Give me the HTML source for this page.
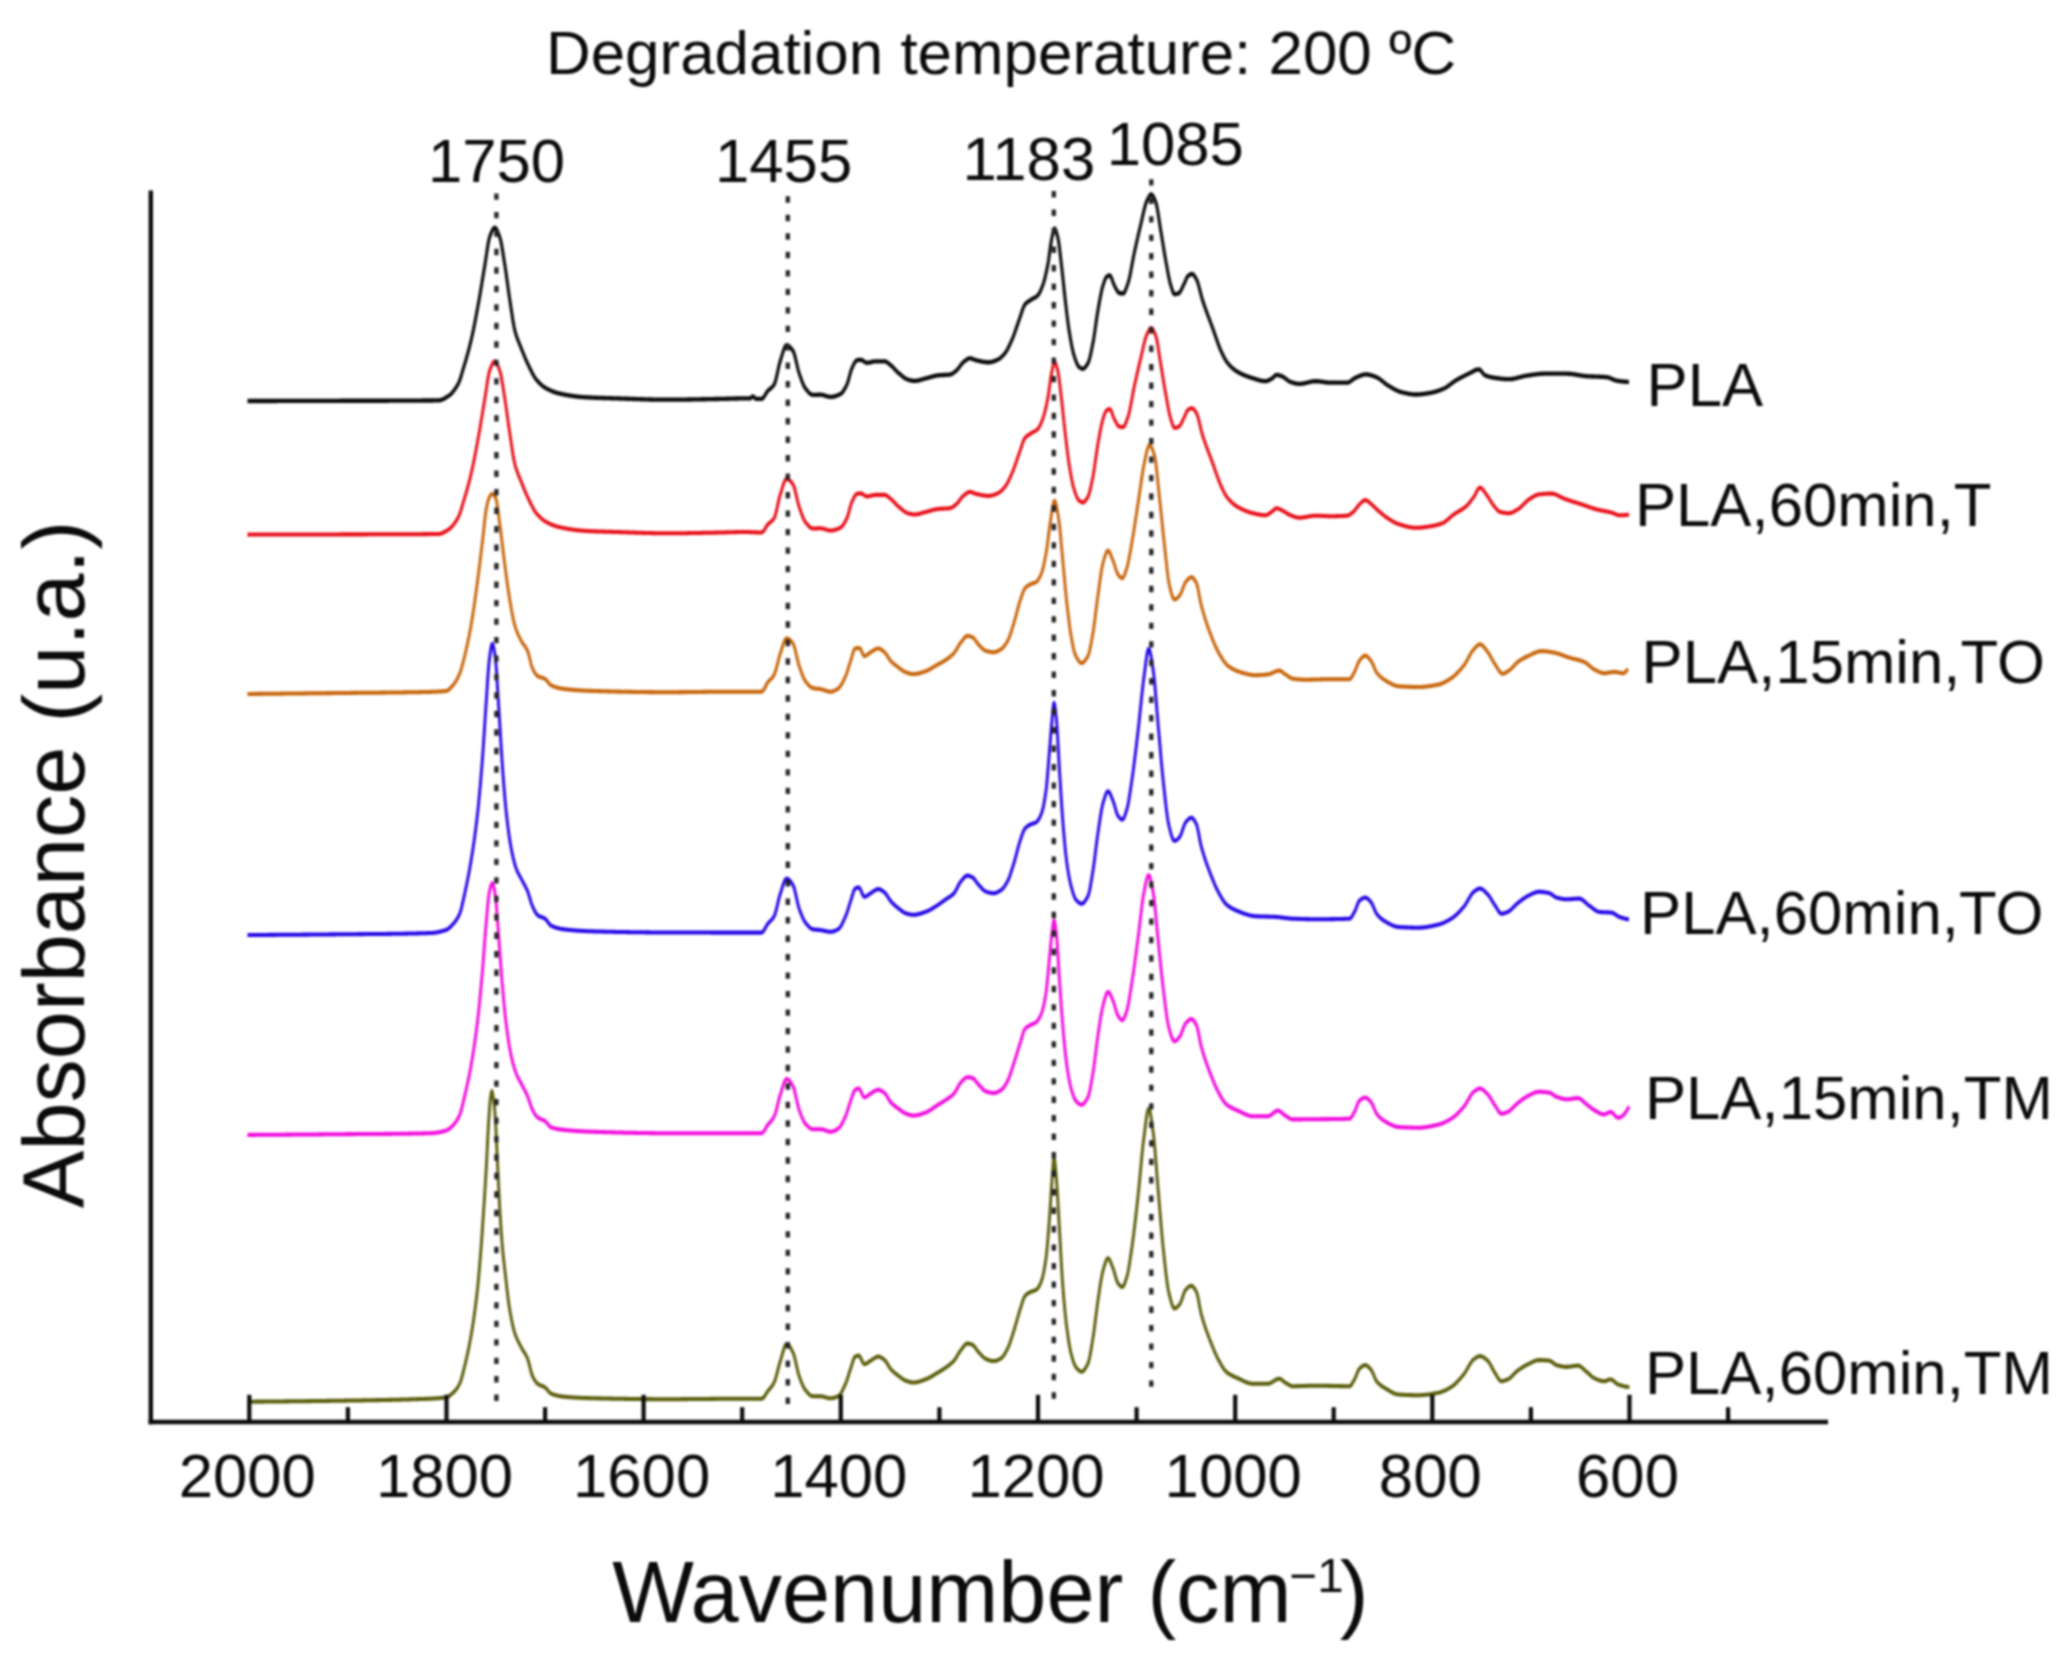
<!DOCTYPE html>
<html lang="en">
<head>
<meta charset="utf-8">
<title>FTIR spectra - Degradation temperature: 200 ºC</title>
<style>
html,body{margin:0;padding:0;background:#ffffff;}
body{width:2071px;height:1661px;overflow:hidden;}
svg{display:block;filter:blur(0.8px);}
</style>
</head>
<body>
<svg width="2071" height="1661" viewBox="0 0 2071 1661" font-family='"Liberation Sans", sans-serif' fill="#0b0b0b">
<rect width="2071" height="1661" fill="#ffffff"/>
<path transform="scale(1 1.4)" d="M247.5,286.43 248.0,286.43 248.5,286.43 249.0,286.43 249.5,286.43 250.0,286.43 250.5,286.43 251.0,286.43 251.5,286.42 252.0,286.42 252.5,286.42 253.0,286.42 253.5,286.42 254.0,286.42 254.5,286.42 255.0,286.42 255.5,286.42 256.0,286.42 256.5,286.42 257.0,286.42 257.5,286.42 258.0,286.42 258.5,286.42 259.0,286.42 259.5,286.42 260.0,286.42 260.5,286.42 261.0,286.42 261.5,286.41 262.0,286.41 262.5,286.41 263.0,286.41 263.5,286.41 264.0,286.41 264.5,286.41 265.0,286.41 265.5,286.41 266.0,286.41 266.5,286.41 267.0,286.41 267.5,286.41 268.0,286.41 268.5,286.41 269.0,286.41 269.5,286.40 270.0,286.40 270.5,286.40 271.0,286.40 271.5,286.40 272.0,286.40 272.5,286.40 273.0,286.40 273.5,286.40 274.0,286.40 274.5,286.40 275.0,286.40 275.5,286.40 276.0,286.40 276.5,286.40 277.0,286.40 277.5,286.39 278.0,286.39 278.5,286.39 279.0,286.39 279.5,286.39 280.0,286.39 280.5,286.39 281.0,286.39 281.5,286.39 282.0,286.39 282.5,286.39 283.0,286.39 283.5,286.39 284.0,286.39 284.5,286.38 285.0,286.38 285.5,286.38 286.0,286.38 286.5,286.38 287.0,286.38 287.5,286.38 288.0,286.38 288.5,286.38 289.0,286.38 289.5,286.38 290.0,286.38 290.5,286.38 291.0,286.37 291.5,286.37 292.0,286.37 292.5,286.37 293.0,286.37 293.5,286.37 294.0,286.37 294.5,286.37 295.0,286.37 295.5,286.37 296.0,286.37 296.5,286.37 297.0,286.36 297.5,286.36 298.0,286.36 298.5,286.36 299.0,286.36 299.5,286.36 300.0,286.36 300.5,286.36 301.0,286.36 301.5,286.36 302.0,286.36 302.5,286.36 303.0,286.35 303.5,286.35 304.0,286.35 304.5,286.35 305.0,286.35 305.5,286.35 306.0,286.35 306.5,286.35 307.0,286.35 307.5,286.35 308.0,286.35 308.5,286.35 309.0,286.34 309.5,286.34 310.0,286.34 310.5,286.34 311.0,286.34 311.5,286.34 312.0,286.34 312.5,286.34 313.0,286.34 313.5,286.34 314.0,286.34 314.5,286.33 315.0,286.33 315.5,286.33 316.0,286.33 316.5,286.33 317.0,286.33 317.5,286.33 318.0,286.33 318.5,286.33 319.0,286.33 319.5,286.33 320.0,286.32 320.5,286.32 321.0,286.32 321.5,286.32 322.0,286.32 322.5,286.32 323.0,286.32 323.5,286.32 324.0,286.32 324.5,286.32 325.0,286.32 325.5,286.31 326.0,286.31 326.5,286.31 327.0,286.31 327.5,286.31 328.0,286.31 328.5,286.31 329.0,286.31 329.5,286.31 330.0,286.31 330.5,286.30 331.0,286.30 331.5,286.30 332.0,286.30 332.5,286.30 333.0,286.30 333.5,286.30 334.0,286.30 334.5,286.30 335.0,286.30 335.5,286.29 336.0,286.29 336.5,286.29 337.0,286.29 337.5,286.29 338.0,286.29 338.5,286.29 339.0,286.29 339.5,286.29 340.0,286.29 340.5,286.28 341.0,286.28 341.5,286.28 342.0,286.28 342.5,286.28 343.0,286.28 343.5,286.28 344.0,286.28 344.5,286.28 345.0,286.28 345.5,286.28 346.0,286.27 346.5,286.27 347.0,286.27 347.5,286.27 348.0,286.27 348.5,286.27 349.0,286.27 349.5,286.27 350.0,286.27 350.5,286.27 351.0,286.27 351.5,286.27 352.0,286.27 352.5,286.26 353.0,286.26 353.5,286.26 354.0,286.26 354.5,286.26 355.0,286.26 355.5,286.26 356.0,286.26 356.5,286.26 357.0,286.26 357.5,286.26 358.0,286.26 358.5,286.26 359.0,286.26 359.5,286.26 360.0,286.25 360.5,286.25 361.0,286.25 361.5,286.25 362.0,286.25 362.5,286.25 363.0,286.25 363.5,286.25 364.0,286.25 364.5,286.25 365.0,286.25 365.5,286.25 366.0,286.25 366.5,286.25 367.0,286.25 367.5,286.25 368.0,286.25 368.5,286.24 369.0,286.24 369.5,286.24 370.0,286.24 370.5,286.24 371.0,286.24 371.5,286.24 372.0,286.24 372.5,286.24 373.0,286.24 373.5,286.24 374.0,286.24 374.5,286.24 375.0,286.24 375.5,286.24 376.0,286.24 376.5,286.23 377.0,286.23 377.5,286.23 378.0,286.23 378.5,286.23 379.0,286.23 379.5,286.23 380.0,286.23 380.5,286.23 381.0,286.23 381.5,286.23 382.0,286.23 382.5,286.23 383.0,286.23 383.5,286.22 384.0,286.22 384.5,286.22 385.0,286.22 385.5,286.22 386.0,286.22 386.5,286.22 387.0,286.22 387.5,286.22 388.0,286.22 388.5,286.22 389.0,286.21 389.5,286.21 390.0,286.21 390.5,286.21 391.0,286.21 391.5,286.21 392.0,286.21 392.5,286.21 393.0,286.21 393.5,286.21 394.0,286.20 394.5,286.20 395.0,286.20 395.5,286.20 396.0,286.20 396.5,286.20 397.0,286.20 397.5,286.20 398.0,286.20 398.5,286.19 399.0,286.19 399.5,286.19 400.0,286.19 400.5,286.19 401.0,286.19 401.5,286.19 402.0,286.18 402.5,286.18 403.0,286.18 403.5,286.18 404.0,286.18 404.5,286.18 405.0,286.18 405.5,286.17 406.0,286.17 406.5,286.17 407.0,286.17 407.5,286.17 408.0,286.17 408.5,286.16 409.0,286.16 409.5,286.16 410.0,286.16 410.5,286.16 411.0,286.15 411.5,286.15 412.0,286.15 412.5,286.15 413.0,286.15 413.5,286.14 414.0,286.14 414.5,286.14 415.0,286.14 415.5,286.14 416.0,286.13 416.5,286.13 417.0,286.13 417.5,286.13 418.0,286.13 418.5,286.12 419.0,286.12 419.5,286.12 420.0,286.12 420.5,286.11 421.0,286.11 421.5,286.11 422.0,286.11 422.5,286.10 423.0,286.10 423.5,286.10 424.0,286.09 424.5,286.09 425.0,286.09 425.5,286.09 426.0,286.08 426.5,286.08 427.0,286.08 427.5,286.07 428.0,286.07 428.5,286.07 429.0,286.07 429.5,286.06 430.0,286.06 430.5,286.06 431.0,286.05 431.5,286.05 432.0,286.05 432.5,286.04 433.0,286.04 433.5,286.04 434.0,286.03 434.5,286.03 435.0,286.02 435.5,286.02 436.0,286.02 436.5,286.01 437.0,286.01 437.5,286.01 438.0,286.00 438.5,286.00 439.0,285.97 439.5,285.93 440.0,285.86 440.5,285.78 441.0,285.68 441.5,285.56 442.0,285.43 442.5,285.28 443.0,285.12 443.5,284.95 444.0,284.77 444.5,284.57 445.0,284.37 445.5,284.16 446.0,283.95 446.5,283.73 447.0,283.50 447.5,283.27 448.0,283.04 448.5,282.81 449.0,282.56 449.5,282.29 450.0,282.00 450.5,281.69 451.0,281.36 451.5,281.00 452.0,280.62 452.5,280.22 453.0,279.80 453.5,279.35 454.0,278.89 454.5,278.40 455.0,277.89 455.5,277.36 456.0,276.81 456.5,276.23 457.0,275.64 457.5,275.02 458.0,274.38 458.5,273.72 459.0,272.96 459.5,272.07 460.0,271.08 460.5,270.00 461.0,268.86 461.5,267.67 462.0,266.46 462.5,265.23 463.0,264.02 463.5,262.84 464.0,261.66 464.5,260.48 465.0,259.29 465.5,258.08 466.0,256.86 466.5,255.62 467.0,254.36 467.5,253.08 468.0,251.78 468.5,250.45 469.0,249.10 469.5,247.71 470.0,246.30 470.5,244.84 471.0,243.36 471.5,241.82 472.0,240.24 472.5,238.60 473.0,236.92 473.5,235.20 474.0,233.44 474.5,231.64 475.0,229.81 475.5,227.96 476.0,226.08 476.5,224.18 477.0,222.26 477.5,220.32 478.0,218.38 478.5,216.43 479.0,214.45 479.5,212.41 480.0,210.32 480.5,208.20 481.0,206.05 481.5,203.88 482.0,201.69 482.5,199.50 483.0,197.31 483.5,195.13 484.0,192.97 484.5,190.84 485.0,188.72 485.5,186.46 486.0,184.09 486.5,181.67 487.0,179.25 487.5,176.91 488.0,174.71 488.5,172.71 489.0,170.98 489.5,169.58 490.0,168.54 490.5,167.60 491.0,166.68 491.5,165.82 492.0,165.02 492.5,164.31 493.0,163.70 493.5,163.21 494.0,162.87 494.5,162.68 495.0,162.66 495.5,162.84 496.0,163.20 496.5,163.71 497.0,164.37 497.5,165.14 498.0,166.00 498.5,166.94 499.0,167.93 499.5,168.96 500.0,170.00 500.5,171.25 501.0,172.79 501.5,174.56 502.0,176.53 502.5,178.64 503.0,180.87 503.5,183.16 504.0,185.48 504.5,187.78 505.0,190.02 505.5,192.33 506.0,194.76 506.5,197.29 507.0,199.88 507.5,202.50 508.0,205.13 508.5,207.74 509.0,210.28 509.5,212.75 510.0,215.11 510.5,217.47 511.0,219.88 511.5,222.30 512.0,224.69 512.5,227.02 513.0,229.24 513.5,231.33 514.0,233.25 514.5,234.95 515.0,236.42 515.5,237.73 516.0,238.94 516.5,240.07 517.0,241.13 517.5,242.13 518.0,243.07 518.5,243.98 519.0,244.87 519.5,245.73 520.0,246.59 520.5,247.46 521.0,248.35 521.5,249.26 522.0,250.17 522.5,251.07 523.0,251.96 523.5,252.84 524.0,253.71 524.5,254.57 525.0,255.43 525.5,256.26 526.0,257.09 526.5,257.90 527.0,258.70 527.5,259.48 528.0,260.24 528.5,260.99 529.0,261.73 529.5,262.46 530.0,263.20 530.5,263.94 531.0,264.67 531.5,265.39 532.0,266.09 532.5,266.79 533.0,267.46 533.5,268.11 534.0,268.73 534.5,269.32 535.0,269.88 535.5,270.40 536.0,270.88 536.5,271.31 537.0,271.73 537.5,272.14 538.0,272.54 538.5,272.92 539.0,273.30 539.5,273.66 540.0,274.01 540.5,274.35 541.0,274.67 541.5,274.99 542.0,275.29 542.5,275.59 543.0,275.87 543.5,276.14 544.0,276.39 544.5,276.64 545.0,276.87 545.5,277.10 546.0,277.31 546.5,277.51 547.0,277.70 547.5,277.89 548.0,278.08 548.5,278.26 549.0,278.44 549.5,278.61 550.0,278.78 550.5,278.94 551.0,279.10 551.5,279.25 552.0,279.41 552.5,279.55 553.0,279.69 553.5,279.83 554.0,279.96 554.5,280.09 555.0,280.21 555.5,280.33 556.0,280.44 556.5,280.55 557.0,280.65 557.5,280.75 558.0,280.84 558.5,280.93 559.0,281.02 559.5,281.10 560.0,281.18 560.5,281.26 561.0,281.34 561.5,281.41 562.0,281.49 562.5,281.57 563.0,281.64 563.5,281.72 564.0,281.79 564.5,281.86 565.0,281.93 565.5,282.00 566.0,282.07 566.5,282.13 567.0,282.20 567.5,282.27 568.0,282.33 568.5,282.39 569.0,282.45 569.5,282.51 570.0,282.57 570.5,282.63 571.0,282.69 571.5,282.74 572.0,282.80 572.5,282.85 573.0,282.90 573.5,282.95 574.0,283.00 574.5,283.05 575.0,283.10 575.5,283.14 576.0,283.19 576.5,283.23 577.0,283.27 577.5,283.31 578.0,283.35 578.5,283.39 579.0,283.43 579.5,283.46 580.0,283.49 580.5,283.53 581.0,283.56 581.5,283.59 582.0,283.62 582.5,283.64 583.0,283.67 583.5,283.69 584.0,283.71 584.5,283.74 585.0,283.76 585.5,283.78 586.0,283.80 586.5,283.82 587.0,283.84 587.5,283.86 588.0,283.87 588.5,283.89 589.0,283.91 589.5,283.93 590.0,283.94 590.5,283.96 591.0,283.98 591.5,283.99 592.0,284.01 592.5,284.02 593.0,284.04 593.5,284.05 594.0,284.07 594.5,284.08 595.0,284.10 595.5,284.11 596.0,284.12 596.5,284.14 597.0,284.15 597.5,284.16 598.0,284.18 598.5,284.19 599.0,284.20 599.5,284.21 600.0,284.22 600.5,284.23 601.0,284.25 601.5,284.26 602.0,284.27 602.5,284.28 603.0,284.29 603.5,284.30 604.0,284.31 604.5,284.32 605.0,284.33 605.5,284.34 606.0,284.35 606.5,284.36 607.0,284.37 607.5,284.38 608.0,284.39 608.5,284.40 609.0,284.41 609.5,284.42 610.0,284.43 610.5,284.44 611.0,284.45 611.5,284.46 612.0,284.47 612.5,284.48 613.0,284.50 613.5,284.51 614.0,284.52 614.5,284.53 615.0,284.54 615.5,284.55 616.0,284.56 616.5,284.57 617.0,284.58 617.5,284.59 618.0,284.60 618.5,284.61 619.0,284.63 619.5,284.64 620.0,284.65 620.5,284.66 621.0,284.67 621.5,284.68 622.0,284.70 622.5,284.71 623.0,284.72 623.5,284.73 624.0,284.74 624.5,284.76 625.0,284.77 625.5,284.78 626.0,284.79 626.5,284.81 627.0,284.82 627.5,284.83 628.0,284.84 628.5,284.86 629.0,284.87 629.5,284.88 630.0,284.89 630.5,284.91 631.0,284.92 631.5,284.93 632.0,284.94 632.5,284.96 633.0,284.97 633.5,284.98 634.0,284.99 634.5,285.00 635.0,285.02 635.5,285.03 636.0,285.04 636.5,285.05 637.0,285.06 637.5,285.08 638.0,285.09 638.5,285.10 639.0,285.11 639.5,285.12 640.0,285.14 640.5,285.15 641.0,285.16 641.5,285.17 642.0,285.18 642.5,285.19 643.0,285.20 643.5,285.21 644.0,285.22 644.5,285.23 645.0,285.24 645.5,285.25 646.0,285.26 646.5,285.27 647.0,285.28 647.5,285.29 648.0,285.30 648.5,285.31 649.0,285.32 649.5,285.33 650.0,285.34 650.5,285.35 651.0,285.36 651.5,285.37 652.0,285.37 652.5,285.38 653.0,285.39 653.5,285.40 654.0,285.40 654.5,285.41 655.0,285.42 655.5,285.42 656.0,285.43 656.5,285.44 657.0,285.44 657.5,285.45 658.0,285.45 658.5,285.46 659.0,285.46 659.5,285.47 660.0,285.47 660.5,285.47 661.0,285.48 661.5,285.48 662.0,285.49 662.5,285.49 663.0,285.49 663.5,285.49 664.0,285.49 664.5,285.50 665.0,285.50 665.5,285.50 666.0,285.50 666.5,285.50 667.0,285.50 667.5,285.50 668.0,285.50 668.5,285.50 669.0,285.50 669.5,285.50 670.0,285.50 670.5,285.50 671.0,285.49 671.5,285.49 672.0,285.49 672.5,285.49 673.0,285.49 673.5,285.49 674.0,285.48 674.5,285.48 675.0,285.48 675.5,285.48 676.0,285.47 676.5,285.47 677.0,285.47 677.5,285.46 678.0,285.46 678.5,285.46 679.0,285.45 679.5,285.45 680.0,285.45 680.5,285.44 681.0,285.44 681.5,285.43 682.0,285.43 682.5,285.43 683.0,285.42 683.5,285.42 684.0,285.41 684.5,285.41 685.0,285.40 685.5,285.40 686.0,285.39 686.5,285.39 687.0,285.38 687.5,285.38 688.0,285.37 688.5,285.37 689.0,285.36 689.5,285.35 690.0,285.35 690.5,285.34 691.0,285.34 691.5,285.33 692.0,285.33 692.5,285.32 693.0,285.31 693.5,285.31 694.0,285.30 694.5,285.30 695.0,285.29 695.5,285.28 696.0,285.28 696.5,285.27 697.0,285.26 697.5,285.26 698.0,285.25 698.5,285.24 699.0,285.24 699.5,285.23 700.0,285.22 700.5,285.22 701.0,285.21 701.5,285.20 702.0,285.20 702.5,285.19 703.0,285.18 703.5,285.18 704.0,285.17 704.5,285.16 705.0,285.16 705.5,285.15 706.0,285.14 706.5,285.14 707.0,285.13 707.5,285.12 708.0,285.12 708.5,285.11 709.0,285.10 709.5,285.10 710.0,285.09 710.5,285.08 711.0,285.08 711.5,285.07 712.0,285.06 712.5,285.06 713.0,285.05 713.5,285.04 714.0,285.04 714.5,285.03 715.0,285.03 715.5,285.02 716.0,285.01 716.5,285.01 717.0,285.00 717.5,284.99 718.0,284.99 718.5,284.98 719.0,284.97 719.5,284.96 720.0,284.96 720.5,284.95 721.0,284.94 721.5,284.93 722.0,284.92 722.5,284.91 723.0,284.90 723.5,284.89 724.0,284.88 724.5,284.87 725.0,284.86 725.5,284.85 726.0,284.84 726.5,284.83 727.0,284.82 727.5,284.81 728.0,284.80 728.5,284.79 729.0,284.78 729.5,284.77 730.0,284.76 730.5,284.75 731.0,284.74 731.5,284.73 732.0,284.72 732.5,284.71 733.0,284.70 733.5,284.69 734.0,284.69 734.5,284.68 735.0,284.67 735.5,284.66 736.0,284.65 736.5,284.64 737.0,284.64 737.5,284.63 738.0,284.62 738.5,284.62 739.0,284.61 739.5,284.60 740.0,284.60 740.5,284.59 741.0,284.59 741.5,284.59 742.0,284.58 742.5,284.58 743.0,284.58 743.5,284.57 744.0,284.57 744.5,284.57 745.0,284.57 745.5,284.57 746.0,284.57 746.5,284.57 747.0,284.57 747.5,284.57 748.0,284.57 748.5,284.57 749.0,284.57 749.5,284.57 750.0,284.57 750.5,284.51 751.0,284.23 751.5,283.81 752.0,283.42 752.5,283.17 753.0,283.17 753.5,283.35 754.0,283.63 754.5,283.97 755.0,284.31 755.5,284.62 756.0,284.84 756.5,284.93 757.0,284.93 757.5,284.93 758.0,284.93 758.5,284.93 759.0,284.93 759.5,284.93 760.0,284.93 760.5,284.93 761.0,284.93 761.5,284.93 762.0,284.86 762.5,284.65 763.0,284.33 763.5,283.91 764.0,283.42 764.5,282.87 765.0,282.29 765.5,281.68 766.0,281.08 766.5,280.50 767.0,279.95 767.5,279.47 768.0,279.06 768.5,278.70 769.0,278.37 769.5,278.06 770.0,277.77 770.5,277.49 771.0,277.20 771.5,276.90 772.0,276.57 772.5,276.21 773.0,275.80 773.5,275.35 774.0,274.83 774.5,274.17 775.0,273.24 775.5,272.08 776.0,270.73 776.5,269.25 777.0,267.66 777.5,266.01 778.0,264.35 778.5,262.71 779.0,261.15 779.5,259.69 780.0,258.40 780.5,257.28 781.0,256.14 781.5,254.96 782.0,253.77 782.5,252.58 783.0,251.43 783.5,250.34 784.0,249.34 784.5,248.46 785.0,247.71 785.5,247.13 786.0,246.74 786.5,246.58 787.0,246.59 787.5,246.68 788.0,246.82 788.5,247.03 789.0,247.28 789.5,247.58 790.0,247.92 790.5,248.30 791.0,248.71 791.5,249.15 792.0,249.62 792.5,250.10 793.0,250.61 793.5,251.30 794.0,252.23 794.5,253.36 795.0,254.65 795.5,256.07 796.0,257.58 796.5,259.13 797.0,260.68 797.5,262.21 798.0,263.67 798.5,265.01 799.0,266.21 799.5,267.27 800.0,268.31 800.5,269.35 801.0,270.38 801.5,271.39 802.0,272.36 802.5,273.30 803.0,274.18 803.5,275.01 804.0,275.76 804.5,276.44 805.0,277.03 805.5,277.52 806.0,277.98 806.5,278.43 807.0,278.88 807.5,279.31 808.0,279.72 808.5,280.11 809.0,280.48 809.5,280.82 810.0,281.13 810.5,281.40 811.0,281.63 811.5,281.82 812.0,281.96 812.5,282.04 813.0,282.07 813.5,282.07 814.0,282.06 814.5,282.06 815.0,282.05 815.5,282.03 816.0,282.02 816.5,282.01 817.0,281.99 817.5,281.98 818.0,281.97 818.5,281.95 819.0,281.94 819.5,281.94 820.0,281.93 820.5,281.93 821.0,281.94 821.5,281.97 822.0,282.02 822.5,282.09 823.0,282.17 823.5,282.26 824.0,282.36 824.5,282.47 825.0,282.59 825.5,282.70 826.0,282.82 826.5,282.93 827.0,283.04 827.5,283.15 828.0,283.24 828.5,283.32 829.0,283.39 829.5,283.45 830.0,283.48 830.5,283.50 831.0,283.50 831.5,283.48 832.0,283.45 832.5,283.41 833.0,283.35 833.5,283.29 834.0,283.21 834.5,283.12 835.0,283.03 835.5,282.92 836.0,282.80 836.5,282.68 837.0,282.54 837.5,282.40 838.0,282.25 838.5,282.09 839.0,281.93 839.5,281.76 840.0,281.58 840.5,281.39 841.0,281.18 841.5,280.90 842.0,280.56 842.5,280.15 843.0,279.69 843.5,279.17 844.0,278.62 844.5,278.01 845.0,277.38 845.5,276.71 846.0,276.01 846.5,275.30 847.0,274.56 847.5,273.66 848.0,272.58 848.5,271.34 849.0,270.02 849.5,268.66 850.0,267.30 850.5,266.00 851.0,264.80 851.5,263.76 852.0,262.92 852.5,262.14 853.0,261.37 853.5,260.61 854.0,259.90 854.5,259.23 855.0,258.64 855.5,258.14 856.0,257.74 856.5,257.47 857.0,257.34 857.5,257.26 858.0,257.19 858.5,257.13 859.0,257.08 859.5,257.04 860.0,257.01 860.5,257.00 861.0,257.01 861.5,257.09 862.0,257.24 862.5,257.42 863.0,257.65 863.5,257.89 864.0,258.15 864.5,258.40 865.0,258.63 865.5,258.84 866.0,259.00 866.5,259.10 867.0,259.14 867.5,259.13 868.0,259.10 868.5,259.06 869.0,259.00 869.5,258.93 870.0,258.85 870.5,258.76 871.0,258.67 871.5,258.58 872.0,258.49 872.5,258.40 873.0,258.32 873.5,258.24 874.0,258.18 874.5,258.13 875.0,258.09 875.5,258.07 876.0,258.07 876.5,258.07 877.0,258.07 877.5,258.07 878.0,258.07 878.5,258.07 879.0,258.07 879.5,258.07 880.0,258.07 880.5,258.07 881.0,258.07 881.5,258.07 882.0,258.07 882.5,258.07 883.0,258.07 883.5,258.07 884.0,258.07 884.5,258.07 885.0,258.10 885.5,258.19 886.0,258.33 886.5,258.51 887.0,258.73 887.5,258.99 888.0,259.26 888.5,259.55 889.0,259.86 889.5,260.16 890.0,260.47 890.5,260.76 891.0,261.04 891.5,261.34 892.0,261.67 892.5,262.01 893.0,262.38 893.5,262.75 894.0,263.14 894.5,263.53 895.0,263.92 895.5,264.32 896.0,264.70 896.5,265.08 897.0,265.44 897.5,265.78 898.0,266.10 898.5,266.40 899.0,266.70 899.5,267.01 900.0,267.31 900.5,267.62 901.0,267.92 901.5,268.22 902.0,268.52 902.5,268.81 903.0,269.10 903.5,269.37 904.0,269.64 904.5,269.89 905.0,270.13 905.5,270.36 906.0,270.56 906.5,270.75 907.0,270.92 907.5,271.07 908.0,271.20 908.5,271.30 909.0,271.40 909.5,271.49 910.0,271.58 910.5,271.67 911.0,271.75 911.5,271.82 912.0,271.89 912.5,271.95 913.0,271.99 913.5,272.03 914.0,272.06 914.5,272.07 915.0,272.07 915.5,272.05 916.0,272.03 916.5,271.99 917.0,271.93 917.5,271.87 918.0,271.80 918.5,271.72 919.0,271.64 919.5,271.55 920.0,271.45 920.5,271.35 921.0,271.24 921.5,271.14 922.0,271.03 922.5,270.92 923.0,270.81 923.5,270.70 924.0,270.60 924.5,270.49 925.0,270.39 925.5,270.30 926.0,270.21 926.5,270.13 927.0,270.04 927.5,269.95 928.0,269.85 928.5,269.75 929.0,269.65 929.5,269.55 930.0,269.45 930.5,269.34 931.0,269.24 931.5,269.14 932.0,269.04 932.5,268.94 933.0,268.84 933.5,268.75 934.0,268.66 934.5,268.57 935.0,268.49 935.5,268.41 936.0,268.34 936.5,268.27 937.0,268.21 937.5,268.16 938.0,268.11 938.5,268.07 939.0,268.04 939.5,268.01 940.0,267.98 940.5,267.96 941.0,267.94 941.5,267.92 942.0,267.91 942.5,267.89 943.0,267.88 943.5,267.86 944.0,267.85 944.5,267.84 945.0,267.82 945.5,267.81 946.0,267.79 946.5,267.77 947.0,267.75 947.5,267.73 948.0,267.70 948.5,267.67 949.0,267.63 949.5,267.60 950.0,267.55 950.5,267.47 951.0,267.35 951.5,267.20 952.0,267.01 952.5,266.80 953.0,266.57 953.5,266.31 954.0,266.05 954.5,265.77 955.0,265.49 955.5,265.20 956.0,264.91 956.5,264.61 957.0,264.27 957.5,263.88 958.0,263.45 958.5,263.00 959.0,262.53 959.5,262.05 960.0,261.56 960.5,261.07 961.0,260.60 961.5,260.14 962.0,259.70 962.5,259.30 963.0,258.94 963.5,258.63 964.0,258.35 964.5,258.06 965.0,257.77 965.5,257.48 966.0,257.20 966.5,256.94 967.0,256.69 967.5,256.47 968.0,256.28 968.5,256.13 969.0,256.01 969.5,255.95 970.0,255.93 970.5,255.96 971.0,256.02 971.5,256.11 972.0,256.23 972.5,256.36 973.0,256.50 973.5,256.66 974.0,256.81 974.5,256.96 975.0,257.10 975.5,257.22 976.0,257.32 976.5,257.40 977.0,257.48 977.5,257.56 978.0,257.65 978.5,257.73 979.0,257.81 979.5,257.89 980.0,257.96 980.5,258.04 981.0,258.11 981.5,258.19 982.0,258.26 982.5,258.32 983.0,258.39 983.5,258.45 984.0,258.51 984.5,258.56 985.0,258.61 985.5,258.65 986.0,258.69 986.5,258.72 987.0,258.75 987.5,258.77 988.0,258.78 988.5,258.79 989.0,258.78 989.5,258.76 990.0,258.73 990.5,258.68 991.0,258.62 991.5,258.55 992.0,258.46 992.5,258.36 993.0,258.26 993.5,258.14 994.0,258.02 994.5,257.89 995.0,257.75 995.5,257.61 996.0,257.46 996.5,257.31 997.0,257.15 997.5,257.00 998.0,256.83 998.5,256.64 999.0,256.42 999.5,256.18 1000.0,255.91 1000.5,255.63 1001.0,255.33 1001.5,255.00 1002.0,254.66 1002.5,254.30 1003.0,253.93 1003.5,253.54 1004.0,253.13 1004.5,252.71 1005.0,252.29 1005.5,251.82 1006.0,251.31 1006.5,250.75 1007.0,250.15 1007.5,249.51 1008.0,248.83 1008.5,248.12 1009.0,247.38 1009.5,246.62 1010.0,245.84 1010.5,245.04 1011.0,244.22 1011.5,243.40 1012.0,242.57 1012.5,241.74 1013.0,240.89 1013.5,239.99 1014.0,239.05 1014.5,238.07 1015.0,237.06 1015.5,236.02 1016.0,234.98 1016.5,233.92 1017.0,232.87 1017.5,231.82 1018.0,230.79 1018.5,229.78 1019.0,228.81 1019.5,227.79 1020.0,226.73 1020.5,225.63 1021.0,224.52 1021.5,223.41 1022.0,222.33 1022.5,221.30 1023.0,220.33 1023.5,219.43 1024.0,218.64 1024.5,217.98 1025.0,217.44 1025.5,217.03 1026.0,216.66 1026.5,216.33 1027.0,216.02 1027.5,215.75 1028.0,215.49 1028.5,215.25 1029.0,215.02 1029.5,214.80 1030.0,214.58 1030.5,214.35 1031.0,214.12 1031.5,213.88 1032.0,213.65 1032.5,213.44 1033.0,213.24 1033.5,213.05 1034.0,212.87 1034.5,212.68 1035.0,212.49 1035.5,212.28 1036.0,212.06 1036.5,211.81 1037.0,211.52 1037.5,211.21 1038.0,210.84 1038.5,210.39 1039.0,209.84 1039.5,209.22 1040.0,208.52 1040.5,207.76 1041.0,206.94 1041.5,206.08 1042.0,205.18 1042.5,204.24 1043.0,203.26 1043.5,202.18 1044.0,201.00 1044.5,199.72 1045.0,198.35 1045.5,196.89 1046.0,195.35 1046.5,193.73 1047.0,192.04 1047.5,190.29 1048.0,188.41 1048.5,186.16 1049.0,183.63 1049.5,180.97 1050.0,178.28 1050.5,175.72 1051.0,173.39 1051.5,171.43 1052.0,169.61 1052.5,167.74 1053.0,165.99 1053.5,164.52 1054.0,163.52 1054.5,163.14 1055.0,163.36 1055.5,163.96 1056.0,164.86 1056.5,166.01 1057.0,167.32 1057.5,168.72 1058.0,170.19 1058.5,172.12 1059.0,174.51 1059.5,177.26 1060.0,180.25 1060.5,183.38 1061.0,186.52 1061.5,189.57 1062.0,192.65 1062.5,195.91 1063.0,199.29 1063.5,202.72 1064.0,206.16 1064.5,209.53 1065.0,212.78 1065.5,215.86 1066.0,218.93 1066.5,221.99 1067.0,225.00 1067.5,227.92 1068.0,230.70 1068.5,233.30 1069.0,235.69 1069.5,237.90 1070.0,240.06 1070.5,242.16 1071.0,244.18 1071.5,246.11 1072.0,247.94 1072.5,249.64 1073.0,251.20 1073.5,252.61 1074.0,253.85 1074.5,254.96 1075.0,256.04 1075.5,257.08 1076.0,258.06 1076.5,258.98 1077.0,259.82 1077.5,260.57 1078.0,261.20 1078.5,261.71 1079.0,262.09 1079.5,262.36 1080.0,262.61 1080.5,262.84 1081.0,263.04 1081.5,263.21 1082.0,263.33 1082.5,263.41 1083.0,263.43 1083.5,263.35 1084.0,263.17 1084.5,262.91 1085.0,262.56 1085.5,262.15 1086.0,261.67 1086.5,261.15 1087.0,260.58 1087.5,259.99 1088.0,259.37 1088.5,258.58 1089.0,257.57 1089.5,256.35 1090.0,254.98 1090.5,253.46 1091.0,251.83 1091.5,250.12 1092.0,248.36 1092.5,246.57 1093.0,244.78 1093.5,242.82 1094.0,240.64 1094.5,238.29 1095.0,235.82 1095.5,233.28 1096.0,230.73 1096.5,228.22 1097.0,225.81 1097.5,223.54 1098.0,221.45 1098.5,219.43 1099.0,217.40 1099.5,215.40 1100.0,213.43 1100.5,211.53 1101.0,209.73 1101.5,208.03 1102.0,206.47 1102.5,205.07 1103.0,203.86 1103.5,202.74 1104.0,201.65 1104.5,200.62 1105.0,199.68 1105.5,198.87 1106.0,198.22 1106.5,197.76 1107.0,197.49 1107.5,197.26 1108.0,197.06 1108.5,196.89 1109.0,196.78 1109.5,196.72 1110.0,196.78 1110.5,197.14 1111.0,197.77 1111.5,198.59 1112.0,199.55 1112.5,200.58 1113.0,201.61 1113.5,202.58 1114.0,203.43 1114.5,204.12 1115.0,204.80 1115.5,205.50 1116.0,206.20 1116.5,206.88 1117.0,207.51 1117.5,208.09 1118.0,208.57 1118.5,208.95 1119.0,209.21 1119.5,209.32 1120.0,209.40 1120.5,209.47 1121.0,209.53 1121.5,209.58 1122.0,209.61 1122.5,209.63 1123.0,209.64 1123.5,209.53 1124.0,209.21 1124.5,208.70 1125.0,208.04 1125.5,207.25 1126.0,206.36 1126.5,205.39 1127.0,204.36 1127.5,203.32 1128.0,202.28 1128.5,201.18 1129.0,199.86 1129.5,198.36 1130.0,196.70 1130.5,194.92 1131.0,193.05 1131.5,191.11 1132.0,189.15 1132.5,187.18 1133.0,185.24 1133.5,183.37 1134.0,181.58 1134.5,179.91 1135.0,178.28 1135.5,176.65 1136.0,175.04 1136.5,173.44 1137.0,171.85 1137.5,170.28 1138.0,168.72 1138.5,167.17 1139.0,165.64 1139.5,164.13 1140.0,162.63 1140.5,161.15 1141.0,159.66 1141.5,158.11 1142.0,156.53 1142.5,154.93 1143.0,153.34 1143.5,151.77 1144.0,150.25 1144.5,148.80 1145.0,147.44 1145.5,146.18 1146.0,145.06 1146.5,144.08 1147.0,143.28 1147.5,142.52 1148.0,141.77 1148.5,141.06 1149.0,140.40 1149.5,139.83 1150.0,139.37 1150.5,139.04 1151.0,138.87 1151.5,138.89 1152.0,139.10 1152.5,139.46 1153.0,139.97 1153.5,140.60 1154.0,141.34 1154.5,142.15 1155.0,143.01 1155.5,143.92 1156.0,144.91 1156.5,146.26 1157.0,147.93 1157.5,149.87 1158.0,152.01 1158.5,154.29 1159.0,156.65 1159.5,159.02 1160.0,161.36 1160.5,163.58 1161.0,165.69 1161.5,167.84 1162.0,170.03 1162.5,172.24 1163.0,174.47 1163.5,176.69 1164.0,178.88 1164.5,181.04 1165.0,183.13 1165.5,185.15 1166.0,187.10 1166.5,189.08 1167.0,191.07 1167.5,193.04 1168.0,194.98 1168.5,196.85 1169.0,198.63 1169.5,200.29 1170.0,201.80 1170.5,203.14 1171.0,204.31 1171.5,205.48 1172.0,206.64 1172.5,207.74 1173.0,208.69 1173.5,209.46 1174.0,209.96 1174.5,210.14 1175.0,210.13 1175.5,210.10 1176.0,210.05 1176.5,209.98 1177.0,209.90 1177.5,209.81 1178.0,209.71 1178.5,209.59 1179.0,209.36 1179.5,209.01 1180.0,208.55 1180.5,208.00 1181.0,207.38 1181.5,206.70 1182.0,205.98 1182.5,205.22 1183.0,204.46 1183.5,203.69 1184.0,202.93 1184.5,202.21 1185.0,201.45 1185.5,200.56 1186.0,199.62 1186.5,198.73 1187.0,197.99 1187.5,197.50 1188.0,197.18 1188.5,196.87 1189.0,196.60 1189.5,196.35 1190.0,196.13 1190.5,195.96 1191.0,195.83 1191.5,195.74 1192.0,195.71 1192.5,195.79 1193.0,195.99 1193.5,196.31 1194.0,196.72 1194.5,197.20 1195.0,197.74 1195.5,198.33 1196.0,198.92 1196.5,199.54 1197.0,200.32 1197.5,201.27 1198.0,202.36 1198.5,203.58 1199.0,204.88 1199.5,206.25 1200.0,207.66 1200.5,209.07 1201.0,210.47 1201.5,211.82 1202.0,213.10 1202.5,214.28 1203.0,215.37 1203.5,216.44 1204.0,217.49 1204.5,218.53 1205.0,219.55 1205.5,220.56 1206.0,221.56 1206.5,222.55 1207.0,223.53 1207.5,224.50 1208.0,225.46 1208.5,226.42 1209.0,227.38 1209.5,228.33 1210.0,229.28 1210.5,230.24 1211.0,231.19 1211.5,232.15 1212.0,233.12 1212.5,234.09 1213.0,235.07 1213.5,236.07 1214.0,237.09 1214.5,238.11 1215.0,239.15 1215.5,240.18 1216.0,241.21 1216.5,242.24 1217.0,243.26 1217.5,244.27 1218.0,245.26 1218.5,246.23 1219.0,247.18 1219.5,248.10 1220.0,248.99 1220.5,249.85 1221.0,250.66 1221.5,251.44 1222.0,252.19 1222.5,252.94 1223.0,253.68 1223.5,254.40 1224.0,255.10 1224.5,255.77 1225.0,256.42 1225.5,257.05 1226.0,257.64 1226.5,258.19 1227.0,258.71 1227.5,259.18 1228.0,259.61 1228.5,260.03 1229.0,260.44 1229.5,260.83 1230.0,261.21 1230.5,261.58 1231.0,261.94 1231.5,262.28 1232.0,262.62 1232.5,262.94 1233.0,263.25 1233.5,263.55 1234.0,263.84 1234.5,264.11 1235.0,264.38 1235.5,264.64 1236.0,264.88 1236.5,265.12 1237.0,265.34 1237.5,265.56 1238.0,265.77 1238.5,265.97 1239.0,266.17 1239.5,266.36 1240.0,266.55 1240.5,266.73 1241.0,266.91 1241.5,267.08 1242.0,267.25 1242.5,267.42 1243.0,267.58 1243.5,267.74 1244.0,267.90 1244.5,268.05 1245.0,268.20 1245.5,268.34 1246.0,268.48 1246.5,268.62 1247.0,268.76 1247.5,268.89 1248.0,269.02 1248.5,269.15 1249.0,269.27 1249.5,269.39 1250.0,269.51 1250.5,269.63 1251.0,269.74 1251.5,269.86 1252.0,269.97 1252.5,270.08 1253.0,270.19 1253.5,270.30 1254.0,270.41 1254.5,270.52 1255.0,270.64 1255.5,270.75 1256.0,270.87 1256.5,270.99 1257.0,271.10 1257.5,271.21 1258.0,271.32 1258.5,271.43 1259.0,271.53 1259.5,271.63 1260.0,271.73 1260.5,271.82 1261.0,271.90 1261.5,271.98 1262.0,272.05 1262.5,272.11 1263.0,272.16 1263.5,272.21 1264.0,272.24 1264.5,272.27 1265.0,272.28 1265.5,272.28 1266.0,272.26 1266.5,272.20 1267.0,272.11 1267.5,271.99 1268.0,271.85 1268.5,271.69 1269.0,271.51 1269.5,271.32 1270.0,271.13 1270.5,270.93 1271.0,270.73 1271.5,270.54 1272.0,270.32 1272.5,270.05 1273.0,269.72 1273.5,269.37 1274.0,269.01 1274.5,268.66 1275.0,268.35 1275.5,268.08 1276.0,267.89 1276.5,267.80 1277.0,267.79 1277.5,267.82 1278.0,267.88 1278.5,267.95 1279.0,268.05 1279.5,268.16 1280.0,268.28 1280.5,268.40 1281.0,268.53 1281.5,268.66 1282.0,268.80 1282.5,268.96 1283.0,269.16 1283.5,269.38 1284.0,269.62 1284.5,269.87 1285.0,270.15 1285.5,270.42 1286.0,270.71 1286.5,270.99 1287.0,271.27 1287.5,271.55 1288.0,271.81 1288.5,272.05 1289.0,272.28 1289.5,272.48 1290.0,272.65 1290.5,272.79 1291.0,272.91 1291.5,273.03 1292.0,273.14 1292.5,273.26 1293.0,273.37 1293.5,273.48 1294.0,273.59 1294.5,273.69 1295.0,273.78 1295.5,273.87 1296.0,273.95 1296.5,274.02 1297.0,274.08 1297.5,274.13 1298.0,274.17 1298.5,274.20 1299.0,274.21 1299.5,274.21 1300.0,274.20 1300.5,274.18 1301.0,274.16 1301.5,274.12 1302.0,274.07 1302.5,274.02 1303.0,273.96 1303.5,273.90 1304.0,273.83 1304.5,273.75 1305.0,273.67 1305.5,273.59 1306.0,273.50 1306.5,273.42 1307.0,273.33 1307.5,273.24 1308.0,273.15 1308.5,273.06 1309.0,272.98 1309.5,272.89 1310.0,272.81 1310.5,272.73 1311.0,272.66 1311.5,272.59 1312.0,272.53 1312.5,272.47 1313.0,272.42 1313.5,272.37 1314.0,272.34 1314.5,272.31 1315.0,272.29 1315.5,272.29 1316.0,272.29 1316.5,272.30 1317.0,272.31 1317.5,272.33 1318.0,272.36 1318.5,272.39 1319.0,272.43 1319.5,272.47 1320.0,272.51 1320.5,272.55 1321.0,272.60 1321.5,272.65 1322.0,272.70 1322.5,272.76 1323.0,272.81 1323.5,272.86 1324.0,272.92 1324.5,272.97 1325.0,273.02 1325.5,273.07 1326.0,273.12 1326.5,273.16 1327.0,273.20 1327.5,273.24 1328.0,273.27 1328.5,273.30 1329.0,273.32 1329.5,273.34 1330.0,273.35 1330.5,273.36 1331.0,273.36 1331.5,273.36 1332.0,273.36 1332.5,273.36 1333.0,273.36 1333.5,273.36 1334.0,273.36 1334.5,273.36 1335.0,273.36 1335.5,273.36 1336.0,273.36 1336.5,273.36 1337.0,273.36 1337.5,273.36 1338.0,273.36 1338.5,273.36 1339.0,273.36 1339.5,273.36 1340.0,273.36 1340.5,273.36 1341.0,273.36 1341.5,273.36 1342.0,273.36 1342.5,273.36 1343.0,273.36 1343.5,273.36 1344.0,273.36 1344.5,273.36 1345.0,273.36 1345.5,273.36 1346.0,273.36 1346.5,273.36 1347.0,273.36 1347.5,273.33 1348.0,273.26 1348.5,273.14 1349.0,272.98 1349.5,272.80 1350.0,272.58 1350.5,272.34 1351.0,272.08 1351.5,271.82 1352.0,271.54 1352.5,271.26 1353.0,270.99 1353.5,270.72 1354.0,270.47 1354.5,270.24 1355.0,270.03 1355.5,269.85 1356.0,269.69 1356.5,269.54 1357.0,269.38 1357.5,269.22 1358.0,269.06 1358.5,268.90 1359.0,268.75 1359.5,268.59 1360.0,268.44 1360.5,268.30 1361.0,268.16 1361.5,268.03 1362.0,267.91 1362.5,267.80 1363.0,267.70 1363.5,267.62 1364.0,267.55 1364.5,267.49 1365.0,267.45 1365.5,267.43 1366.0,267.43 1366.5,267.44 1367.0,267.47 1367.5,267.50 1368.0,267.55 1368.5,267.61 1369.0,267.68 1369.5,267.76 1370.0,267.84 1370.5,267.94 1371.0,268.04 1371.5,268.15 1372.0,268.26 1372.5,268.38 1373.0,268.50 1373.5,268.62 1374.0,268.75 1374.5,268.88 1375.0,269.01 1375.5,269.14 1376.0,269.27 1376.5,269.42 1377.0,269.58 1377.5,269.77 1378.0,269.98 1378.5,270.20 1379.0,270.43 1379.5,270.68 1380.0,270.94 1380.5,271.20 1381.0,271.48 1381.5,271.76 1382.0,272.05 1382.5,272.34 1383.0,272.63 1383.5,272.92 1384.0,273.21 1384.5,273.50 1385.0,273.79 1385.5,274.07 1386.0,274.34 1386.5,274.60 1387.0,274.86 1387.5,275.10 1388.0,275.33 1388.5,275.54 1389.0,275.75 1389.5,275.96 1390.0,276.18 1390.5,276.39 1391.0,276.61 1391.5,276.82 1392.0,277.03 1392.5,277.25 1393.0,277.45 1393.5,277.66 1394.0,277.86 1394.5,278.06 1395.0,278.26 1395.5,278.45 1396.0,278.63 1396.5,278.81 1397.0,278.98 1397.5,279.14 1398.0,279.29 1398.5,279.44 1399.0,279.57 1399.5,279.70 1400.0,279.82 1400.5,279.92 1401.0,280.02 1401.5,280.11 1402.0,280.20 1402.5,280.29 1403.0,280.38 1403.5,280.46 1404.0,280.55 1404.5,280.63 1405.0,280.72 1405.5,280.80 1406.0,280.88 1406.5,280.96 1407.0,281.03 1407.5,281.10 1408.0,281.17 1408.5,281.24 1409.0,281.31 1409.5,281.37 1410.0,281.42 1410.5,281.48 1411.0,281.53 1411.5,281.57 1412.0,281.62 1412.5,281.66 1413.0,281.69 1413.5,281.72 1414.0,281.74 1414.5,281.76 1415.0,281.77 1415.5,281.78 1416.0,281.79 1416.5,281.78 1417.0,281.78 1417.5,281.77 1418.0,281.75 1418.5,281.74 1419.0,281.71 1419.5,281.69 1420.0,281.66 1420.5,281.63 1421.0,281.60 1421.5,281.56 1422.0,281.52 1422.5,281.48 1423.0,281.43 1423.5,281.39 1424.0,281.34 1424.5,281.29 1425.0,281.23 1425.5,281.18 1426.0,281.12 1426.5,281.07 1427.0,281.01 1427.5,280.95 1428.0,280.89 1428.5,280.83 1429.0,280.76 1429.5,280.70 1430.0,280.64 1430.5,280.58 1431.0,280.51 1431.5,280.45 1432.0,280.38 1432.5,280.30 1433.0,280.23 1433.5,280.14 1434.0,280.05 1434.5,279.96 1435.0,279.87 1435.5,279.77 1436.0,279.66 1436.5,279.55 1437.0,279.44 1437.5,279.32 1438.0,279.20 1438.5,279.08 1439.0,278.95 1439.5,278.82 1440.0,278.69 1440.5,278.55 1441.0,278.41 1441.5,278.27 1442.0,278.13 1442.5,277.98 1443.0,277.83 1443.5,277.67 1444.0,277.51 1444.5,277.34 1445.0,277.15 1445.5,276.95 1446.0,276.73 1446.5,276.51 1447.0,276.27 1447.5,276.03 1448.0,275.78 1448.5,275.52 1449.0,275.26 1449.5,275.00 1450.0,274.73 1450.5,274.45 1451.0,274.18 1451.5,273.91 1452.0,273.64 1452.5,273.37 1453.0,273.11 1453.5,272.85 1454.0,272.59 1454.5,272.35 1455.0,272.11 1455.5,271.88 1456.0,271.66 1456.5,271.45 1457.0,271.24 1457.5,271.03 1458.0,270.83 1458.5,270.63 1459.0,270.43 1459.5,270.24 1460.0,270.04 1460.5,269.85 1461.0,269.66 1461.5,269.47 1462.0,269.28 1462.5,269.10 1463.0,268.91 1463.5,268.73 1464.0,268.55 1464.5,268.37 1465.0,268.20 1465.5,268.02 1466.0,267.85 1466.5,267.67 1467.0,267.50 1467.5,267.33 1468.0,267.16 1468.5,267.00 1469.0,266.83 1469.5,266.65 1470.0,266.46 1470.5,266.27 1471.0,266.07 1471.5,265.86 1472.0,265.66 1472.5,265.46 1473.0,265.26 1473.5,265.07 1474.0,264.88 1474.5,264.70 1475.0,264.54 1475.5,264.38 1476.0,264.25 1476.5,264.13 1477.0,264.03 1477.5,263.95 1478.0,263.89 1478.5,263.86 1479.0,263.87 1479.5,263.98 1480.0,264.20 1480.5,264.51 1481.0,264.89 1481.5,265.32 1482.0,265.77 1482.5,266.24 1483.0,266.69 1483.5,267.11 1484.0,267.49 1484.5,267.79 1485.0,268.00 1485.5,268.16 1486.0,268.31 1486.5,268.45 1487.0,268.58 1487.5,268.71 1488.0,268.83 1488.5,268.94 1489.0,269.04 1489.5,269.14 1490.0,269.24 1490.5,269.33 1491.0,269.41 1491.5,269.49 1492.0,269.56 1492.5,269.63 1493.0,269.69 1493.5,269.75 1494.0,269.81 1494.5,269.86 1495.0,269.92 1495.5,269.97 1496.0,270.02 1496.5,270.08 1497.0,270.13 1497.5,270.18 1498.0,270.23 1498.5,270.28 1499.0,270.32 1499.5,270.37 1500.0,270.42 1500.5,270.46 1501.0,270.50 1501.5,270.54 1502.0,270.58 1502.5,270.61 1503.0,270.65 1503.5,270.68 1504.0,270.71 1504.5,270.74 1505.0,270.76 1505.5,270.78 1506.0,270.80 1506.5,270.82 1507.0,270.83 1507.5,270.84 1508.0,270.85 1508.5,270.86 1509.0,270.86 1509.5,270.85 1510.0,270.84 1510.5,270.81 1511.0,270.78 1511.5,270.74 1512.0,270.70 1512.5,270.65 1513.0,270.59 1513.5,270.53 1514.0,270.46 1514.5,270.38 1515.0,270.31 1515.5,270.23 1516.0,270.14 1516.5,270.05 1517.0,269.96 1517.5,269.87 1518.0,269.78 1518.5,269.68 1519.0,269.59 1519.5,269.49 1520.0,269.40 1520.5,269.30 1521.0,269.21 1521.5,269.11 1522.0,269.02 1522.5,268.93 1523.0,268.85 1523.5,268.76 1524.0,268.68 1524.5,268.61 1525.0,268.54 1525.5,268.47 1526.0,268.41 1526.5,268.36 1527.0,268.30 1527.5,268.25 1528.0,268.20 1528.5,268.14 1529.0,268.09 1529.5,268.03 1530.0,267.98 1530.5,267.92 1531.0,267.86 1531.5,267.81 1532.0,267.75 1532.5,267.70 1533.0,267.65 1533.5,267.59 1534.0,267.54 1534.5,267.49 1535.0,267.44 1535.5,267.39 1536.0,267.35 1536.5,267.30 1537.0,267.26 1537.5,267.22 1538.0,267.18 1538.5,267.14 1539.0,267.11 1539.5,267.07 1540.0,267.05 1540.5,267.02 1541.0,267.00 1541.5,266.98 1542.0,266.96 1542.5,266.95 1543.0,266.94 1543.5,266.93 1544.0,266.93 1544.5,266.93 1545.0,266.93 1545.5,266.93 1546.0,266.93 1546.5,266.93 1547.0,266.93 1547.5,266.93 1548.0,266.93 1548.5,266.93 1549.0,266.93 1549.5,266.93 1550.0,266.93 1550.5,266.93 1551.0,266.93 1551.5,266.93 1552.0,266.93 1552.5,266.93 1553.0,266.93 1553.5,266.93 1554.0,266.93 1554.5,266.93 1555.0,266.93 1555.5,266.93 1556.0,266.93 1556.5,266.93 1557.0,266.93 1557.5,266.93 1558.0,266.93 1558.5,266.93 1559.0,266.93 1559.5,266.93 1560.0,266.93 1560.5,266.93 1561.0,266.93 1561.5,266.93 1562.0,266.93 1562.5,266.93 1563.0,266.93 1563.5,266.93 1564.0,266.93 1564.5,266.93 1565.0,266.93 1565.5,266.93 1566.0,266.93 1566.5,266.93 1567.0,266.93 1567.5,266.94 1568.0,266.95 1568.5,266.97 1569.0,266.99 1569.5,267.01 1570.0,267.04 1570.5,267.07 1571.0,267.11 1571.5,267.15 1572.0,267.19 1572.5,267.24 1573.0,267.29 1573.5,267.34 1574.0,267.39 1574.5,267.44 1575.0,267.50 1575.5,267.56 1576.0,267.62 1576.5,267.68 1577.0,267.74 1577.5,267.80 1578.0,267.86 1578.5,267.92 1579.0,267.98 1579.5,268.04 1580.0,268.10 1580.5,268.16 1581.0,268.22 1581.5,268.27 1582.0,268.33 1582.5,268.38 1583.0,268.43 1583.5,268.48 1584.0,268.52 1584.5,268.57 1585.0,268.61 1585.5,268.64 1586.0,268.67 1586.5,268.70 1587.0,268.73 1587.5,268.75 1588.0,268.78 1588.5,268.80 1589.0,268.82 1589.5,268.83 1590.0,268.85 1590.5,268.87 1591.0,268.88 1591.5,268.90 1592.0,268.91 1592.5,268.93 1593.0,268.94 1593.5,268.95 1594.0,268.96 1594.5,268.98 1595.0,268.99 1595.5,269.00 1596.0,269.01 1596.5,269.02 1597.0,269.03 1597.5,269.05 1598.0,269.06 1598.5,269.07 1599.0,269.09 1599.5,269.10 1600.0,269.11 1600.5,269.13 1601.0,269.15 1601.5,269.16 1602.0,269.18 1602.5,269.20 1603.0,269.22 1603.5,269.24 1604.0,269.27 1604.5,269.29 1605.0,269.32 1605.5,269.35 1606.0,269.38 1606.5,269.41 1607.0,269.44 1607.5,269.50 1608.0,269.58 1608.5,269.67 1609.0,269.78 1609.5,269.91 1610.0,270.05 1610.5,270.20 1611.0,270.35 1611.5,270.51 1612.0,270.67 1612.5,270.84 1613.0,271.00 1613.5,271.16 1614.0,271.31 1614.5,271.45 1615.0,271.58 1615.5,271.70 1616.0,271.80 1616.5,271.88 1617.0,271.94 1617.5,271.99 1618.0,272.05 1618.5,272.10 1619.0,272.15 1619.5,272.20 1620.0,272.25 1620.5,272.30 1621.0,272.35 1621.5,272.39 1622.0,272.44 1622.5,272.48 1623.0,272.52 1623.5,272.55 1624.0,272.59 1624.5,272.62 1625.0,272.65 1625.5,272.68 1626.0,272.70 1626.5,272.73 1627.0,272.74 1627.5,272.76 1628.0,272.77 1628.5,272.78 1629.0,272.78" fill="none" stroke="#0a0a0a" stroke-width="3.1" stroke-linejoin="round" stroke-linecap="butt"/>
<path transform="scale(1 1.4)" d="M247.5,381.86 248.0,381.86 248.5,381.86 249.0,381.86 249.5,381.86 250.0,381.85 250.5,381.85 251.0,381.85 251.5,381.85 252.0,381.85 252.5,381.85 253.0,381.85 253.5,381.85 254.0,381.85 254.5,381.85 255.0,381.85 255.5,381.85 256.0,381.85 256.5,381.85 257.0,381.85 257.5,381.85 258.0,381.85 258.5,381.85 259.0,381.85 259.5,381.85 260.0,381.84 260.5,381.84 261.0,381.84 261.5,381.84 262.0,381.84 262.5,381.84 263.0,381.84 263.5,381.84 264.0,381.84 264.5,381.84 265.0,381.84 265.5,381.84 266.0,381.84 266.5,381.84 267.0,381.84 267.5,381.84 268.0,381.84 268.5,381.83 269.0,381.83 269.5,381.83 270.0,381.83 270.5,381.83 271.0,381.83 271.5,381.83 272.0,381.83 272.5,381.83 273.0,381.83 273.5,381.83 274.0,381.83 274.5,381.83 275.0,381.83 275.5,381.83 276.0,381.82 276.5,381.82 277.0,381.82 277.5,381.82 278.0,381.82 278.5,381.82 279.0,381.82 279.5,381.82 280.0,381.82 280.5,381.82 281.0,381.82 281.5,381.82 282.0,381.82 282.5,381.82 283.0,381.82 283.5,381.81 284.0,381.81 284.5,381.81 285.0,381.81 285.5,381.81 286.0,381.81 286.5,381.81 287.0,381.81 287.5,381.81 288.0,381.81 288.5,381.81 289.0,381.81 289.5,381.81 290.0,381.80 290.5,381.80 291.0,381.80 291.5,381.80 292.0,381.80 292.5,381.80 293.0,381.80 293.5,381.80 294.0,381.80 294.5,381.80 295.0,381.80 295.5,381.80 296.0,381.80 296.5,381.79 297.0,381.79 297.5,381.79 298.0,381.79 298.5,381.79 299.0,381.79 299.5,381.79 300.0,381.79 300.5,381.79 301.0,381.79 301.5,381.79 302.0,381.79 302.5,381.78 303.0,381.78 303.5,381.78 304.0,381.78 304.5,381.78 305.0,381.78 305.5,381.78 306.0,381.78 306.5,381.78 307.0,381.78 307.5,381.78 308.0,381.77 308.5,381.77 309.0,381.77 309.5,381.77 310.0,381.77 310.5,381.77 311.0,381.77 311.5,381.77 312.0,381.77 312.5,381.77 313.0,381.77 313.5,381.77 314.0,381.76 314.5,381.76 315.0,381.76 315.5,381.76 316.0,381.76 316.5,381.76 317.0,381.76 317.5,381.76 318.0,381.76 318.5,381.76 319.0,381.76 319.5,381.75 320.0,381.75 320.5,381.75 321.0,381.75 321.5,381.75 322.0,381.75 322.5,381.75 323.0,381.75 323.5,381.75 324.0,381.75 324.5,381.74 325.0,381.74 325.5,381.74 326.0,381.74 326.5,381.74 327.0,381.74 327.5,381.74 328.0,381.74 328.5,381.74 329.0,381.74 329.5,381.74 330.0,381.73 330.5,381.73 331.0,381.73 331.5,381.73 332.0,381.73 332.5,381.73 333.0,381.73 333.5,381.73 334.0,381.73 334.5,381.73 335.0,381.72 335.5,381.72 336.0,381.72 336.5,381.72 337.0,381.72 337.5,381.72 338.0,381.72 338.5,381.72 339.0,381.72 339.5,381.72 340.0,381.71 340.5,381.71 341.0,381.71 341.5,381.71 342.0,381.71 342.5,381.71 343.0,381.71 343.5,381.71 344.0,381.71 344.5,381.71 345.0,381.70 345.5,381.70 346.0,381.70 346.5,381.70 347.0,381.70 347.5,381.70 348.0,381.70 348.5,381.70 349.0,381.70 349.5,381.70 350.0,381.70 350.5,381.70 351.0,381.70 351.5,381.69 352.0,381.69 352.5,381.69 353.0,381.69 353.5,381.69 354.0,381.69 354.5,381.69 355.0,381.69 355.5,381.69 356.0,381.69 356.5,381.69 357.0,381.69 357.5,381.69 358.0,381.69 358.5,381.69 359.0,381.68 359.5,381.68 360.0,381.68 360.5,381.68 361.0,381.68 361.5,381.68 362.0,381.68 362.5,381.68 363.0,381.68 363.5,381.68 364.0,381.68 364.5,381.68 365.0,381.68 365.5,381.68 366.0,381.68 366.5,381.68 367.0,381.68 367.5,381.67 368.0,381.67 368.5,381.67 369.0,381.67 369.5,381.67 370.0,381.67 370.5,381.67 371.0,381.67 371.5,381.67 372.0,381.67 372.5,381.67 373.0,381.67 373.5,381.67 374.0,381.67 374.5,381.67 375.0,381.67 375.5,381.66 376.0,381.66 376.5,381.66 377.0,381.66 377.5,381.66 378.0,381.66 378.5,381.66 379.0,381.66 379.5,381.66 380.0,381.66 380.5,381.66 381.0,381.66 381.5,381.66 382.0,381.66 382.5,381.65 383.0,381.65 383.5,381.65 384.0,381.65 384.5,381.65 385.0,381.65 385.5,381.65 386.0,381.65 386.5,381.65 387.0,381.65 387.5,381.65 388.0,381.65 388.5,381.64 389.0,381.64 389.5,381.64 390.0,381.64 390.5,381.64 391.0,381.64 391.5,381.64 392.0,381.64 392.5,381.64 393.0,381.64 393.5,381.63 394.0,381.63 394.5,381.63 395.0,381.63 395.5,381.63 396.0,381.63 396.5,381.63 397.0,381.63 397.5,381.63 398.0,381.62 398.5,381.62 399.0,381.62 399.5,381.62 400.0,381.62 400.5,381.62 401.0,381.62 401.5,381.61 402.0,381.61 402.5,381.61 403.0,381.61 403.5,381.61 404.0,381.61 404.5,381.61 405.0,381.60 405.5,381.60 406.0,381.60 406.5,381.60 407.0,381.60 407.5,381.60 408.0,381.59 408.5,381.59 409.0,381.59 409.5,381.59 410.0,381.59 410.5,381.59 411.0,381.58 411.5,381.58 412.0,381.58 412.5,381.58 413.0,381.58 413.5,381.57 414.0,381.57 414.5,381.57 415.0,381.57 415.5,381.56 416.0,381.56 416.5,381.56 417.0,381.56 417.5,381.56 418.0,381.55 418.5,381.55 419.0,381.55 419.5,381.55 420.0,381.54 420.5,381.54 421.0,381.54 421.5,381.54 422.0,381.53 422.5,381.53 423.0,381.53 423.5,381.53 424.0,381.52 424.5,381.52 425.0,381.52 425.5,381.51 426.0,381.51 426.5,381.51 427.0,381.51 427.5,381.50 428.0,381.50 428.5,381.50 429.0,381.49 429.5,381.49 430.0,381.49 430.5,381.48 431.0,381.48 431.5,381.48 432.0,381.47 432.5,381.47 433.0,381.47 433.5,381.46 434.0,381.46 434.5,381.46 435.0,381.45 435.5,381.45 436.0,381.45 436.5,381.44 437.0,381.44 437.5,381.43 438.0,381.43 438.5,381.43 439.0,381.40 439.5,381.36 440.0,381.29 440.5,381.21 441.0,381.11 441.5,380.99 442.0,380.86 442.5,380.71 443.0,380.55 443.5,380.38 444.0,380.20 444.5,380.00 445.0,379.80 445.5,379.59 446.0,379.38 446.5,379.15 447.0,378.93 447.5,378.70 448.0,378.47 448.5,378.24 449.0,377.99 449.5,377.72 450.0,377.43 450.5,377.12 451.0,376.78 451.5,376.43 452.0,376.05 452.5,375.65 453.0,375.22 453.5,374.78 454.0,374.31 454.5,373.83 455.0,373.32 455.5,372.79 456.0,372.23 456.5,371.66 457.0,371.07 457.5,370.45 458.0,369.81 458.5,369.15 459.0,368.39 459.5,367.50 460.0,366.51 460.5,365.43 461.0,364.29 461.5,363.10 462.0,361.89 462.5,360.66 463.0,359.45 463.5,358.27 464.0,357.09 464.5,355.91 465.0,354.71 465.5,353.51 466.0,352.29 466.5,351.05 467.0,349.79 467.5,348.51 468.0,347.21 468.5,345.88 469.0,344.53 469.5,343.14 470.0,341.72 470.5,340.27 471.0,338.79 471.5,337.25 472.0,335.67 472.5,334.03 473.0,332.35 473.5,330.63 474.0,328.87 474.5,327.07 475.0,325.24 475.5,323.39 476.0,321.51 476.5,319.61 477.0,317.69 477.5,315.75 478.0,313.81 478.5,311.86 479.0,309.87 479.5,307.84 480.0,305.75 480.5,303.63 481.0,301.48 481.5,299.31 482.0,297.12 482.5,294.93 483.0,292.74 483.5,290.56 484.0,288.40 484.5,286.26 485.0,284.15 485.5,281.89 486.0,279.52 486.5,277.09 487.0,274.68 487.5,272.34 488.0,270.14 488.5,268.14 489.0,266.41 489.5,265.01 490.0,263.97 490.5,263.02 491.0,262.11 491.5,261.24 492.0,260.45 492.5,259.74 493.0,259.13 493.5,258.64 494.0,258.30 494.5,258.10 495.0,258.09 495.5,258.27 496.0,258.62 496.5,259.14 497.0,259.79 497.5,260.56 498.0,261.43 498.5,262.37 499.0,263.36 499.5,264.39 500.0,265.43 500.5,266.68 501.0,268.22 501.5,269.99 502.0,271.95 502.5,274.07 503.0,276.30 503.5,278.59 504.0,280.91 504.5,283.20 505.0,285.45 505.5,287.76 506.0,290.19 506.5,292.72 507.0,295.31 507.5,297.93 508.0,300.56 508.5,303.16 509.0,305.71 509.5,308.18 510.0,310.54 510.5,312.90 511.0,315.31 511.5,317.73 512.0,320.12 512.5,322.45 513.0,324.67 513.5,326.76 514.0,328.67 514.5,330.38 515.0,331.85 515.5,333.16 516.0,334.37 516.5,335.50 517.0,336.56 517.5,337.56 518.0,338.50 518.5,339.41 519.0,340.29 519.5,341.16 520.0,342.02 520.5,342.89 521.0,343.78 521.5,344.69 522.0,345.60 522.5,346.50 523.0,347.39 523.5,348.27 524.0,349.14 524.5,350.00 525.0,350.85 525.5,351.69 526.0,352.52 526.5,353.33 527.0,354.13 527.5,354.91 528.0,355.67 528.5,356.42 529.0,357.15 529.5,357.89 530.0,358.63 530.5,359.36 531.0,360.09 531.5,360.82 532.0,361.52 532.5,362.22 533.0,362.89 533.5,363.54 534.0,364.16 534.5,364.75 535.0,365.31 535.5,365.83 536.0,366.31 536.5,366.74 537.0,367.16 537.5,367.57 538.0,367.97 538.5,368.35 539.0,368.73 539.5,369.09 540.0,369.44 540.5,369.78 541.0,370.10 541.5,370.42 542.0,370.72 542.5,371.02 543.0,371.30 543.5,371.56 544.0,371.82 544.5,372.07 545.0,372.30 545.5,372.53 546.0,372.74 546.5,372.94 547.0,373.13 547.5,373.32 548.0,373.51 548.5,373.69 549.0,373.86 549.5,374.04 550.0,374.21 550.5,374.37 551.0,374.53 551.5,374.68 552.0,374.83 552.5,374.98 553.0,375.12 553.5,375.26 554.0,375.39 554.5,375.52 555.0,375.64 555.5,375.76 556.0,375.87 556.5,375.98 557.0,376.08 557.5,376.18 558.0,376.27 558.5,376.36 559.0,376.45 559.5,376.53 560.0,376.61 560.5,376.69 561.0,376.77 561.5,376.84 562.0,376.92 562.5,377.00 563.0,377.07 563.5,377.14 564.0,377.22 564.5,377.29 565.0,377.36 565.5,377.43 566.0,377.50 566.5,377.56 567.0,377.63 567.5,377.69 568.0,377.76 568.5,377.82 569.0,377.88 569.5,377.94 570.0,378.00 570.5,378.06 571.0,378.12 571.5,378.17 572.0,378.23 572.5,378.28 573.0,378.33 573.5,378.38 574.0,378.43 574.5,378.48 575.0,378.53 575.5,378.57 576.0,378.62 576.5,378.66 577.0,378.70 577.5,378.74 578.0,378.78 578.5,378.82 579.0,378.85 579.5,378.89 580.0,378.92 580.5,378.96 581.0,378.99 581.5,379.02 582.0,379.04 582.5,379.07 583.0,379.10 583.5,379.12 584.0,379.14 584.5,379.16 585.0,379.19 585.5,379.21 586.0,379.23 586.5,379.25 587.0,379.27 587.5,379.28 588.0,379.30 588.5,379.32 589.0,379.34 589.5,379.36 590.0,379.37 590.5,379.39 591.0,379.41 591.5,379.42 592.0,379.44 592.5,379.45 593.0,379.47 593.5,379.48 594.0,379.50 594.5,379.51 595.0,379.53 595.5,379.54 596.0,379.55 596.5,379.57 597.0,379.58 597.5,379.59 598.0,379.60 598.5,379.62 599.0,379.63 599.5,379.64 600.0,379.65 600.5,379.66 601.0,379.67 601.5,379.69 602.0,379.70 602.5,379.71 603.0,379.72 603.5,379.73 604.0,379.74 604.5,379.75 605.0,379.76 605.5,379.77 606.0,379.78 606.5,379.79 607.0,379.80 607.5,379.81 608.0,379.82 608.5,379.83 609.0,379.84 609.5,379.85 610.0,379.86 610.5,379.87 611.0,379.88 611.5,379.89 612.0,379.90 612.5,379.91 613.0,379.92 613.5,379.93 614.0,379.94 614.5,379.95 615.0,379.97 615.5,379.98 616.0,379.99 616.5,380.00 617.0,380.01 617.5,380.02 618.0,380.03 618.5,380.04 619.0,380.05 619.5,380.07 620.0,380.08 620.5,380.09 621.0,380.10 621.5,380.11 622.0,380.12 622.5,380.14 623.0,380.15 623.5,380.16 624.0,380.17 624.5,380.19 625.0,380.20 625.5,380.21 626.0,380.22 626.5,380.23 627.0,380.25 627.5,380.26 628.0,380.27 628.5,380.28 629.0,380.30 629.5,380.31 630.0,380.32 630.5,380.33 631.0,380.35 631.5,380.36 632.0,380.37 632.5,380.38 633.0,380.40 633.5,380.41 634.0,380.42 634.5,380.43 635.0,380.45 635.5,380.46 636.0,380.47 636.5,380.48 637.0,380.49 637.5,380.51 638.0,380.52 638.5,380.53 639.0,380.54 639.5,380.55 640.0,380.56 640.5,380.58 641.0,380.59 641.5,380.60 642.0,380.61 642.5,380.62 643.0,380.63 643.5,380.64 644.0,380.65 644.5,380.66 645.0,380.67 645.5,380.68 646.0,380.69 646.5,380.70 647.0,380.71 647.5,380.72 648.0,380.73 648.5,380.74 649.0,380.75 649.5,380.76 650.0,380.77 650.5,380.78 651.0,380.79 651.5,380.79 652.0,380.80 652.5,380.81 653.0,380.82 653.5,380.82 654.0,380.83 654.5,380.84 655.0,380.85 655.5,380.85 656.0,380.86 656.5,380.86 657.0,380.87 657.5,380.88 658.0,380.88 658.5,380.89 659.0,380.89 659.5,380.90 660.0,380.90 660.5,380.90 661.0,380.91 661.5,380.91 662.0,380.91 662.5,380.92 663.0,380.92 663.5,380.92 664.0,380.92 664.5,380.93 665.0,380.93 665.5,380.93 666.0,380.93 666.5,380.93 667.0,380.93 667.5,380.93 668.0,380.93 668.5,380.93 669.0,380.93 669.5,380.93 670.0,380.93 670.5,380.92 671.0,380.92 671.5,380.92 672.0,380.92 672.5,380.92 673.0,380.92 673.5,380.91 674.0,380.91 674.5,380.91 675.0,380.91 675.5,380.90 676.0,380.90 676.5,380.90 677.0,380.90 677.5,380.89 678.0,380.89 678.5,380.89 679.0,380.88 679.5,380.88 680.0,380.87 680.5,380.87 681.0,380.87 681.5,380.86 682.0,380.86 682.5,380.85 683.0,380.85 683.5,380.85 684.0,380.84 684.5,380.84 685.0,380.83 685.5,380.83 686.0,380.82 686.5,380.82 687.0,380.81 687.5,380.81 688.0,380.80 688.5,380.79 689.0,380.79 689.5,380.78 690.0,380.78 690.5,380.77 691.0,380.77 691.5,380.76 692.0,380.75 692.5,380.75 693.0,380.74 693.5,380.74 694.0,380.73 694.5,380.72 695.0,380.72 695.5,380.71 696.0,380.71 696.5,380.70 697.0,380.69 697.5,380.69 698.0,380.68 698.5,380.67 699.0,380.67 699.5,380.66 700.0,380.65 700.5,380.65 701.0,380.64 701.5,380.63 702.0,380.63 702.5,380.62 703.0,380.61 703.5,380.61 704.0,380.60 704.5,380.59 705.0,380.59 705.5,380.58 706.0,380.57 706.5,380.57 707.0,380.56 707.5,380.55 708.0,380.55 708.5,380.54 709.0,380.53 709.5,380.53 710.0,380.52 710.5,380.51 711.0,380.51 711.5,380.50 712.0,380.49 712.5,380.49 713.0,380.48 713.5,380.47 714.0,380.47 714.5,380.46 715.0,380.45 715.5,380.45 716.0,380.44 716.5,380.43 717.0,380.43 717.5,380.42 718.0,380.42 718.5,380.41 719.0,380.40 719.5,380.39 720.0,380.39 720.5,380.38 721.0,380.37 721.5,380.36 722.0,380.35 722.5,380.34 723.0,380.33 723.5,380.32 724.0,380.31 724.5,380.30 725.0,380.29 725.5,380.28 726.0,380.27 726.5,380.26 727.0,380.25 727.5,380.24 728.0,380.23 728.5,380.22 729.0,380.21 729.5,380.20 730.0,380.19 730.5,380.18 731.0,380.17 731.5,380.16 732.0,380.15 732.5,380.14 733.0,380.13 733.5,380.12 734.0,380.11 734.5,380.11 735.0,380.10 735.5,380.09 736.0,380.08 736.5,380.07 737.0,380.06 737.5,380.06 738.0,380.05 738.5,380.04 739.0,380.04 739.5,380.03 740.0,380.03 740.5,380.02 741.0,380.02 741.5,380.01 742.0,380.01 742.5,380.01 743.0,380.00 743.5,380.00 744.0,380.00 744.5,380.00 745.0,380.00 745.5,380.00 746.0,380.00 746.5,380.01 747.0,380.01 747.5,380.02 748.0,380.03 748.5,380.04 749.0,380.05 749.5,380.07 750.0,380.08 750.5,380.09 751.0,380.11 751.5,380.12 752.0,380.14 752.5,380.15 753.0,380.17 753.5,380.19 754.0,380.20 754.5,380.22 755.0,380.23 755.5,380.25 756.0,380.26 756.5,380.28 757.0,380.29 757.5,380.30 758.0,380.32 758.5,380.33 759.0,380.34 759.5,380.34 760.0,380.35 760.5,380.35 761.0,380.36 761.5,380.36 762.0,380.28 762.5,380.08 763.0,379.76 763.5,379.34 764.0,378.85 764.5,378.30 765.0,377.72 765.5,377.11 766.0,376.51 766.5,375.93 767.0,375.38 767.5,374.90 768.0,374.49 768.5,374.12 769.0,373.80 769.5,373.49 770.0,373.20 770.5,372.92 771.0,372.63 771.5,372.32 772.0,372.00 772.5,371.63 773.0,371.23 773.5,370.77 774.0,370.25 774.5,369.59 775.0,368.67 775.5,367.51 776.0,366.16 776.5,364.67 777.0,363.09 777.5,361.44 778.0,359.77 778.5,358.14 779.0,356.57 779.5,355.12 780.0,353.83 780.5,352.71 781.0,351.57 781.5,350.39 782.0,349.20 782.5,348.01 783.0,346.86 783.5,345.77 784.0,344.77 784.5,343.88 785.0,343.14 785.5,342.56 786.0,342.17 786.5,342.00 787.0,342.02 787.5,342.11 788.0,342.25 788.5,342.46 789.0,342.71 789.5,343.01 790.0,343.35 790.5,343.73 791.0,344.14 791.5,344.58 792.0,345.05 792.5,345.53 793.0,346.03 793.5,346.73 794.0,347.66 794.5,348.79 795.0,350.08 795.5,351.50 796.0,353.01 796.5,354.55 797.0,356.11 797.5,357.64 798.0,359.09 798.5,360.44 799.0,361.64 799.5,362.69 800.0,363.74 800.5,364.78 801.0,365.81 801.5,366.81 802.0,367.79 802.5,368.73 803.0,369.61 803.5,370.44 804.0,371.19 804.5,371.87 805.0,372.46 805.5,372.95 806.0,373.41 806.5,373.86 807.0,374.30 807.5,374.74 808.0,375.15 808.5,375.54 809.0,375.91 809.5,376.25 810.0,376.56 810.5,376.83 811.0,377.06 811.5,377.25 812.0,377.39 812.5,377.47 813.0,377.50 813.5,377.50 814.0,377.49 814.5,377.49 815.0,377.47 815.5,377.46 816.0,377.45 816.5,377.44 817.0,377.42 817.5,377.41 818.0,377.39 818.5,377.38 819.0,377.37 819.5,377.36 820.0,377.36 820.5,377.36 821.0,377.37 821.5,377.40 822.0,377.45 822.5,377.52 823.0,377.60 823.5,377.69 824.0,377.79 824.5,377.90 825.0,378.02 825.5,378.13 826.0,378.25 826.5,378.36 827.0,378.47 827.5,378.58 828.0,378.67 828.5,378.75 829.0,378.82 829.5,378.88 830.0,378.91 830.5,378.93 831.0,378.92 831.5,378.91 832.0,378.88 832.5,378.84 833.0,378.78 833.5,378.72 834.0,378.64 834.5,378.55 835.0,378.46 835.5,378.35 836.0,378.23 836.5,378.11 837.0,377.97 837.5,377.83 838.0,377.68 838.5,377.52 839.0,377.36 839.5,377.18 840.0,377.01 840.5,376.82 841.0,376.61 841.5,376.33 842.0,375.99 842.5,375.58 843.0,375.12 843.5,374.60 844.0,374.04 844.5,373.44 845.0,372.81 845.5,372.14 846.0,371.44 846.5,370.73 847.0,369.99 847.5,369.09 848.0,368.00 848.5,366.77 849.0,365.45 849.5,364.09 850.0,362.73 850.5,361.42 851.0,360.23 851.5,359.19 852.0,358.35 852.5,357.57 853.0,356.80 853.5,356.04 854.0,355.33 854.5,354.66 855.0,354.07 855.5,353.57 856.0,353.17 856.5,352.90 857.0,352.77 857.5,352.69 858.0,352.62 858.5,352.56 859.0,352.51 859.5,352.47 860.0,352.44 860.5,352.43 861.0,352.44 861.5,352.52 862.0,352.66 862.5,352.85 863.0,353.08 863.5,353.32 864.0,353.58 864.5,353.83 865.0,354.06 865.5,354.26 866.0,354.43 866.5,354.53 867.0,354.57 867.5,354.56 868.0,354.53 868.5,354.49 869.0,354.43 869.5,354.36 870.0,354.28 870.5,354.19 871.0,354.10 871.5,354.01 872.0,353.92 872.5,353.83 873.0,353.75 873.5,353.67 874.0,353.61 874.5,353.56 875.0,353.52 875.5,353.50 876.0,353.50 876.5,353.50 877.0,353.50 877.5,353.50 878.0,353.50 878.5,353.50 879.0,353.50 879.5,353.50 880.0,353.50 880.5,353.50 881.0,353.50 881.5,353.50 882.0,353.50 882.5,353.50 883.0,353.50 883.5,353.50 884.0,353.50 884.5,353.50 885.0,353.53 885.5,353.62 886.0,353.76 886.5,353.94 887.0,354.16 887.5,354.41 888.0,354.69 888.5,354.98 889.0,355.28 889.5,355.59 890.0,355.89 890.5,356.19 891.0,356.47 891.5,356.77 892.0,357.10 892.5,357.44 893.0,357.81 893.5,358.18 894.0,358.57 894.5,358.96 895.0,359.35 895.5,359.74 896.0,360.13 896.5,360.50 897.0,360.87 897.5,361.21 898.0,361.53 898.5,361.83 899.0,362.13 899.5,362.44 900.0,362.74 900.5,363.05 901.0,363.35 901.5,363.65 902.0,363.95 902.5,364.24 903.0,364.52 903.5,364.80 904.0,365.07 904.5,365.32 905.0,365.56 905.5,365.78 906.0,365.99 906.5,366.18 907.0,366.35 907.5,366.50 908.0,366.63 908.5,366.73 909.0,366.83 909.5,366.92 910.0,367.01 910.5,367.10 911.0,367.18 911.5,367.25 912.0,367.32 912.5,367.37 913.0,367.42 913.5,367.46 914.0,367.49 914.5,367.50 915.0,367.50 915.5,367.48 916.0,367.45 916.5,367.41 917.0,367.36 917.5,367.30 918.0,367.23 918.5,367.15 919.0,367.07 919.5,366.98 920.0,366.88 920.5,366.78 921.0,366.67 921.5,366.57 922.0,366.46 922.5,366.35 923.0,366.24 923.5,366.13 924.0,366.02 924.5,365.92 925.0,365.82 925.5,365.73 926.0,365.64 926.5,365.56 927.0,365.47 927.5,365.37 928.0,365.28 928.5,365.18 929.0,365.08 929.5,364.98 930.0,364.88 930.5,364.77 931.0,364.67 931.5,364.57 932.0,364.47 932.5,364.37 933.0,364.27 933.5,364.18 934.0,364.09 934.5,364.00 935.0,363.92 935.5,363.84 936.0,363.77 936.5,363.70 937.0,363.64 937.5,363.59 938.0,363.54 938.5,363.50 939.0,363.47 939.5,363.44 940.0,363.41 940.5,363.39 941.0,363.37 941.5,363.35 942.0,363.33 942.5,363.32 943.0,363.31 943.5,363.29 944.0,363.28 944.5,363.26 945.0,363.25 945.5,363.23 946.0,363.22 946.5,363.20 947.0,363.18 947.5,363.15 948.0,363.13 948.5,363.10 949.0,363.06 949.5,363.03 950.0,362.98 950.5,362.90 951.0,362.78 951.5,362.62 952.0,362.44 952.5,362.23 953.0,361.99 953.5,361.74 954.0,361.48 954.5,361.20 955.0,360.91 955.5,360.63 956.0,360.34 956.5,360.04 957.0,359.70 957.5,359.31 958.0,358.88 958.5,358.43 959.0,357.96 959.5,357.48 960.0,356.99 960.5,356.50 961.0,356.03 961.5,355.57 962.0,355.13 962.5,354.73 963.0,354.37 963.5,354.06 964.0,353.78 964.5,353.49 965.0,353.20 965.5,352.91 966.0,352.63 966.5,352.37 967.0,352.12 967.5,351.90 968.0,351.71 968.5,351.56 969.0,351.44 969.5,351.37 970.0,351.36 970.5,351.39 971.0,351.45 971.5,351.54 972.0,351.65 972.5,351.79 973.0,351.93 973.5,352.08 974.0,352.24 974.5,352.39 975.0,352.53 975.5,352.65 976.0,352.75 976.5,352.83 977.0,352.91 977.5,352.99 978.0,353.07 978.5,353.15 979.0,353.23 979.5,353.31 980.0,353.39 980.5,353.47 981.0,353.54 981.5,353.62 982.0,353.69 982.5,353.75 983.0,353.82 983.5,353.88 984.0,353.93 984.5,353.99 985.0,354.03 985.5,354.08 986.0,354.12 986.5,354.15 987.0,354.17 987.5,354.19 988.0,354.21 988.5,354.21 989.0,354.21 989.5,354.19 990.0,354.16 990.5,354.11 991.0,354.05 991.5,353.98 992.0,353.89 992.5,353.79 993.0,353.69 993.5,353.57 994.0,353.45 994.5,353.32 995.0,353.18 995.5,353.03 996.0,352.89 996.5,352.74 997.0,352.58 997.5,352.43 998.0,352.26 998.5,352.07 999.0,351.85 999.5,351.61 1000.0,351.34 1000.5,351.06 1001.0,350.75 1001.5,350.43 1002.0,350.09 1002.5,349.73 1003.0,349.35 1003.5,348.96 1004.0,348.56 1004.5,348.14 1005.0,347.71 1005.5,347.25 1006.0,346.74 1006.5,346.18 1007.0,345.58 1007.5,344.94 1008.0,344.26 1008.5,343.55 1009.0,342.81 1009.5,342.05 1010.0,341.26 1010.5,340.46 1011.0,339.65 1011.5,338.83 1012.0,338.00 1012.5,337.17 1013.0,336.32 1013.5,335.42 1014.0,334.47 1014.5,333.49 1015.0,332.48 1015.5,331.45 1016.0,330.40 1016.5,329.35 1017.0,328.30 1017.5,327.25 1018.0,326.22 1018.5,325.21 1019.0,324.23 1019.5,323.22 1020.0,322.15 1020.5,321.06 1021.0,319.95 1021.5,318.84 1022.0,317.76 1022.5,316.73 1023.0,315.75 1023.5,314.86 1024.0,314.07 1024.5,313.40 1025.0,312.87 1025.5,312.46 1026.0,312.09 1026.5,311.76 1027.0,311.45 1027.5,311.17 1028.0,310.92 1028.5,310.68 1029.0,310.45 1029.5,310.22 1030.0,310.00 1030.5,309.78 1031.0,309.55 1031.5,309.31 1032.0,309.08 1032.5,308.87 1033.0,308.67 1033.5,308.48 1034.0,308.30 1034.5,308.11 1035.0,307.92 1035.5,307.71 1036.0,307.48 1036.5,307.23 1037.0,306.95 1037.5,306.64 1038.0,306.27 1038.5,305.81 1039.0,305.27 1039.5,304.64 1040.0,303.95 1040.5,303.19 1041.0,302.37 1041.5,301.51 1042.0,300.60 1042.5,299.67 1043.0,298.69 1043.5,297.61 1044.0,296.43 1044.5,295.15 1045.0,293.78 1045.5,292.32 1046.0,290.78 1046.5,289.16 1047.0,287.47 1047.5,285.72 1048.0,283.83 1048.5,281.58 1049.0,279.06 1049.5,276.40 1050.0,273.71 1050.5,271.14 1051.0,268.82 1051.5,266.86 1052.0,265.04 1052.5,263.17 1053.0,261.42 1053.5,259.95 1054.0,258.94 1054.5,258.57 1055.0,258.79 1055.5,259.39 1056.0,260.29 1056.5,261.44 1057.0,262.75 1057.5,264.15 1058.0,265.62 1058.5,267.55 1059.0,269.94 1059.5,272.69 1060.0,275.68 1060.5,278.80 1061.0,281.95 1061.5,285.00 1062.0,288.08 1062.5,291.34 1063.0,294.72 1063.5,298.15 1064.0,301.59 1064.5,304.96 1065.0,308.21 1065.5,311.29 1066.0,314.36 1066.5,317.42 1067.0,320.43 1067.5,323.34 1068.0,326.13 1068.5,328.73 1069.0,331.12 1069.5,333.33 1070.0,335.49 1070.5,337.59 1071.0,339.61 1071.5,341.54 1072.0,343.36 1072.5,345.06 1073.0,346.63 1073.5,348.03 1074.0,349.27 1074.5,350.38 1075.0,351.47 1075.5,352.51 1076.0,353.49 1076.5,354.41 1077.0,355.25 1077.5,355.99 1078.0,356.63 1078.5,357.14 1079.0,357.51 1079.5,357.79 1080.0,358.04 1080.5,358.27 1081.0,358.47 1081.5,358.64 1082.0,358.76 1082.5,358.84 1083.0,358.85 1083.5,358.78 1084.0,358.60 1084.5,358.34 1085.0,357.99 1085.5,357.58 1086.0,357.10 1086.5,356.58 1087.0,356.01 1087.5,355.42 1088.0,354.80 1088.5,354.01 1089.0,352.99 1089.5,351.78 1090.0,350.40 1090.5,348.89 1091.0,347.26 1091.5,345.55 1092.0,343.79 1092.5,342.00 1093.0,340.21 1093.5,338.25 1094.0,336.07 1094.5,333.71 1095.0,331.24 1095.5,328.71 1096.0,326.16 1096.5,323.65 1097.0,321.24 1097.5,318.96 1098.0,316.88 1098.5,314.86 1099.0,312.83 1099.5,310.82 1100.0,308.86 1100.5,306.96 1101.0,305.15 1101.5,303.46 1102.0,301.90 1102.5,300.50 1103.0,299.29 1103.5,298.17 1104.0,297.08 1104.5,296.05 1105.0,295.11 1105.5,294.30 1106.0,293.65 1106.5,293.19 1107.0,292.92 1107.5,292.69 1108.0,292.49 1108.5,292.32 1109.0,292.21 1109.5,292.15 1110.0,292.21 1110.5,292.57 1111.0,293.19 1111.5,294.02 1112.0,294.98 1112.5,296.01 1113.0,297.04 1113.5,298.01 1114.0,298.86 1114.5,299.55 1115.0,300.22 1115.5,300.92 1116.0,301.63 1116.5,302.31 1117.0,302.94 1117.5,303.52 1118.0,304.00 1118.5,304.38 1119.0,304.63 1119.5,304.75 1120.0,304.83 1120.5,304.90 1121.0,304.96 1121.5,305.00 1122.0,305.04 1122.5,305.06 1123.0,305.07 1123.5,304.96 1124.0,304.64 1124.5,304.13 1125.0,303.47 1125.5,302.68 1126.0,301.79 1126.5,300.81 1127.0,299.79 1127.5,298.75 1128.0,297.71 1128.5,296.60 1129.0,295.29 1129.5,293.79 1130.0,292.13 1130.5,290.35 1131.0,288.48 1131.5,286.54 1132.0,284.57 1132.5,282.61 1133.0,280.67 1133.5,278.79 1134.0,277.01 1134.5,275.34 1135.0,273.71 1135.5,272.08 1136.0,270.47 1136.5,268.87 1137.0,267.28 1137.5,265.71 1138.0,264.15 1138.5,262.60 1139.0,261.07 1139.5,259.56 1140.0,258.06 1140.5,256.58 1141.0,255.09 1141.5,253.54 1142.0,251.96 1142.5,250.36 1143.0,248.77 1143.5,247.20 1144.0,245.68 1144.5,244.23 1145.0,242.87 1145.5,241.61 1146.0,240.49 1146.5,239.51 1147.0,238.71 1147.5,237.95 1148.0,237.20 1148.5,236.49 1149.0,235.83 1149.5,235.26 1150.0,234.79 1150.5,234.47 1151.0,234.30 1151.5,234.32 1152.0,234.52 1152.5,234.89 1153.0,235.40 1153.5,236.03 1154.0,236.76 1154.5,237.58 1155.0,238.44 1155.5,239.35 1156.0,240.34 1156.5,241.69 1157.0,243.36 1157.5,245.30 1158.0,247.44 1158.5,249.72 1159.0,252.08 1159.5,254.45 1160.0,256.78 1160.5,259.01 1161.0,261.12 1161.5,263.26 1162.0,265.46 1162.5,267.67 1163.0,269.90 1163.5,272.12 1164.0,274.31 1164.5,276.46 1165.0,278.56 1165.5,280.58 1166.0,282.53 1166.5,284.50 1167.0,286.50 1167.5,288.47 1168.0,290.41 1168.5,292.28 1169.0,294.06 1169.5,295.72 1170.0,297.23 1170.5,298.57 1171.0,299.74 1171.5,300.91 1172.0,302.07 1172.5,303.16 1173.0,304.12 1173.5,304.89 1174.0,305.39 1174.5,305.57 1175.0,305.56 1175.5,305.53 1176.0,305.48 1176.5,305.41 1177.0,305.33 1177.5,305.24 1178.0,305.14 1178.5,305.02 1179.0,304.78 1179.5,304.43 1180.0,303.97 1180.5,303.42 1181.0,302.80 1181.5,302.12 1182.0,301.39 1182.5,300.63 1183.0,299.87 1183.5,299.10 1184.0,298.35 1184.5,297.64 1185.0,296.89 1185.5,296.01 1186.0,295.09 1186.5,294.23 1187.0,293.52 1187.5,293.07 1188.0,292.79 1188.5,292.54 1189.0,292.30 1189.5,292.09 1190.0,291.91 1190.5,291.77 1191.0,291.66 1191.5,291.59 1192.0,291.57 1192.5,291.64 1193.0,291.82 1193.5,292.10 1194.0,292.48 1194.5,292.92 1195.0,293.42 1195.5,293.95 1196.0,294.52 1196.5,295.10 1197.0,295.88 1197.5,296.87 1198.0,298.03 1198.5,299.32 1199.0,300.73 1199.5,302.20 1200.0,303.72 1200.5,305.25 1201.0,306.75 1201.5,308.19 1202.0,309.54 1202.5,310.77 1203.0,311.89 1203.5,312.98 1204.0,314.05 1204.5,315.10 1205.0,316.13 1205.5,317.14 1206.0,318.13 1206.5,319.11 1207.0,320.08 1207.5,321.04 1208.0,321.99 1208.5,322.94 1209.0,323.88 1209.5,324.82 1210.0,325.76 1210.5,326.70 1211.0,327.64 1211.5,328.59 1212.0,329.55 1212.5,330.52 1213.0,331.50 1213.5,332.50 1214.0,333.51 1214.5,334.54 1215.0,335.57 1215.5,336.60 1216.0,337.64 1216.5,338.66 1217.0,339.68 1217.5,340.69 1218.0,341.68 1218.5,342.66 1219.0,343.61 1219.5,344.53 1220.0,345.42 1220.5,346.27 1221.0,347.09 1221.5,347.87 1222.0,348.62 1222.5,349.37 1223.0,350.11 1223.5,350.82 1224.0,351.52 1224.5,352.20 1225.0,352.85 1225.5,353.48 1226.0,354.07 1226.5,354.62 1227.0,355.14 1227.5,355.61 1228.0,356.04 1228.5,356.46 1229.0,356.87 1229.5,357.26 1230.0,357.64 1230.5,358.01 1231.0,358.37 1231.5,358.71 1232.0,359.05 1232.5,359.37 1233.0,359.68 1233.5,359.98 1234.0,360.26 1234.5,360.54 1235.0,360.81 1235.5,361.06 1236.0,361.31 1236.5,361.55 1237.0,361.77 1237.5,361.99 1238.0,362.20 1238.5,362.40 1239.0,362.60 1239.5,362.80 1240.0,362.99 1240.5,363.18 1241.0,363.37 1241.5,363.55 1242.0,363.73 1242.5,363.90 1243.0,364.07 1243.5,364.24 1244.0,364.41 1244.5,364.57 1245.0,364.72 1245.5,364.87 1246.0,365.02 1246.5,365.16 1247.0,365.30 1247.5,365.44 1248.0,365.57 1248.5,365.69 1249.0,365.81 1249.5,365.93 1250.0,366.04 1250.5,366.15 1251.0,366.25 1251.5,366.34 1252.0,366.44 1252.5,366.52 1253.0,366.60 1253.5,366.69 1254.0,366.77 1254.5,366.85 1255.0,366.93 1255.5,367.01 1256.0,367.09 1256.5,367.17 1257.0,367.24 1257.5,367.32 1258.0,367.39 1258.5,367.46 1259.0,367.53 1259.5,367.59 1260.0,367.65 1260.5,367.71 1261.0,367.76 1261.5,367.81 1262.0,367.85 1262.5,367.89 1263.0,367.92 1263.5,367.95 1264.0,367.97 1264.5,367.99 1265.0,368.00 1265.5,368.00 1266.0,367.96 1266.5,367.87 1267.0,367.75 1267.5,367.58 1268.0,367.38 1268.5,367.16 1269.0,366.93 1269.5,366.68 1270.0,366.42 1270.5,366.17 1271.0,365.92 1271.5,365.69 1272.0,365.45 1272.5,365.16 1273.0,364.83 1273.5,364.49 1274.0,364.14 1274.5,363.81 1275.0,363.52 1275.5,363.27 1276.0,363.10 1276.5,363.01 1277.0,363.01 1277.5,363.06 1278.0,363.16 1278.5,363.29 1279.0,363.44 1279.5,363.61 1280.0,363.80 1280.5,363.99 1281.0,364.18 1281.5,364.36 1282.0,364.53 1282.5,364.71 1283.0,364.91 1283.5,365.11 1284.0,365.33 1284.5,365.55 1285.0,365.77 1285.5,366.00 1286.0,366.23 1286.5,366.46 1287.0,366.69 1287.5,366.91 1288.0,367.12 1288.5,367.32 1289.0,367.51 1289.5,367.69 1290.0,367.86 1290.5,368.00 1291.0,368.14 1291.5,368.28 1292.0,368.42 1292.5,368.56 1293.0,368.70 1293.5,368.83 1294.0,368.97 1294.5,369.09 1295.0,369.21 1295.5,369.33 1296.0,369.43 1296.5,369.52 1297.0,369.60 1297.5,369.67 1298.0,369.72 1298.5,369.76 1299.0,369.78 1299.5,369.79 1300.0,369.78 1300.5,369.76 1301.0,369.74 1301.5,369.71 1302.0,369.68 1302.5,369.64 1303.0,369.60 1303.5,369.55 1304.0,369.50 1304.5,369.44 1305.0,369.38 1305.5,369.32 1306.0,369.26 1306.5,369.20 1307.0,369.13 1307.5,369.06 1308.0,369.00 1308.5,368.93 1309.0,368.87 1309.5,368.81 1310.0,368.75 1310.5,368.69 1311.0,368.63 1311.5,368.58 1312.0,368.54 1312.5,368.49 1313.0,368.45 1313.5,368.42 1314.0,368.40 1314.5,368.38 1315.0,368.36 1315.5,368.36 1316.0,368.36 1316.5,368.36 1317.0,368.37 1317.5,368.37 1318.0,368.38 1318.5,368.39 1319.0,368.40 1319.5,368.42 1320.0,368.43 1320.5,368.45 1321.0,368.46 1321.5,368.48 1322.0,368.50 1322.5,368.51 1323.0,368.53 1323.5,368.55 1324.0,368.57 1324.5,368.59 1325.0,368.60 1325.5,368.62 1326.0,368.63 1326.5,368.65 1327.0,368.66 1327.5,368.67 1328.0,368.69 1328.5,368.70 1329.0,368.70 1329.5,368.71 1330.0,368.71 1330.5,368.71 1331.0,368.71 1331.5,368.71 1332.0,368.71 1332.5,368.71 1333.0,368.71 1333.5,368.71 1334.0,368.70 1334.5,368.70 1335.0,368.69 1335.5,368.69 1336.0,368.68 1336.5,368.67 1337.0,368.67 1337.5,368.66 1338.0,368.65 1338.5,368.64 1339.0,368.63 1339.5,368.62 1340.0,368.61 1340.5,368.59 1341.0,368.58 1341.5,368.57 1342.0,368.55 1342.5,368.54 1343.0,368.52 1343.5,368.50 1344.0,368.48 1344.5,368.47 1345.0,368.45 1345.5,368.43 1346.0,368.40 1346.5,368.38 1347.0,368.36 1347.5,368.31 1348.0,368.21 1348.5,368.07 1349.0,367.90 1349.5,367.69 1350.0,367.46 1350.5,367.20 1351.0,366.93 1351.5,366.64 1352.0,366.35 1352.5,366.05 1353.0,365.76 1353.5,365.46 1354.0,365.11 1354.5,364.72 1355.0,364.29 1355.5,363.83 1356.0,363.36 1356.5,362.88 1357.0,362.39 1357.5,361.92 1358.0,361.46 1358.5,361.03 1359.0,360.64 1359.5,360.29 1360.0,359.95 1360.5,359.60 1361.0,359.24 1361.5,358.88 1362.0,358.54 1362.5,358.22 1363.0,357.92 1363.5,357.67 1364.0,357.46 1364.5,357.31 1365.0,357.23 1365.5,357.22 1366.0,357.29 1366.5,357.42 1367.0,357.60 1367.5,357.83 1368.0,358.10 1368.5,358.39 1369.0,358.70 1369.5,359.01 1370.0,359.32 1370.5,359.62 1371.0,359.90 1371.5,360.19 1372.0,360.49 1372.5,360.81 1373.0,361.14 1373.5,361.48 1374.0,361.83 1374.5,362.18 1375.0,362.54 1375.5,362.90 1376.0,363.25 1376.5,363.60 1377.0,363.94 1377.5,364.28 1378.0,364.60 1378.5,364.91 1379.0,365.22 1379.5,365.52 1380.0,365.83 1380.5,366.14 1381.0,366.44 1381.5,366.75 1382.0,367.05 1382.5,367.35 1383.0,367.64 1383.5,367.93 1384.0,368.22 1384.5,368.50 1385.0,368.78 1385.5,369.05 1386.0,369.32 1386.5,369.58 1387.0,369.83 1387.5,370.08 1388.0,370.32 1388.5,370.55 1389.0,370.77 1389.5,371.00 1390.0,371.22 1390.5,371.45 1391.0,371.67 1391.5,371.88 1392.0,372.10 1392.5,372.31 1393.0,372.51 1393.5,372.71 1394.0,372.91 1394.5,373.10 1395.0,373.28 1395.5,373.45 1396.0,373.62 1396.5,373.78 1397.0,373.92 1397.5,374.06 1398.0,374.19 1398.5,374.31 1399.0,374.42 1399.5,374.54 1400.0,374.65 1400.5,374.76 1401.0,374.88 1401.5,374.99 1402.0,375.10 1402.5,375.21 1403.0,375.32 1403.5,375.42 1404.0,375.53 1404.5,375.63 1405.0,375.73 1405.5,375.83 1406.0,375.93 1406.5,376.02 1407.0,376.11 1407.5,376.20 1408.0,376.28 1408.5,376.36 1409.0,376.44 1409.5,376.51 1410.0,376.58 1410.5,376.64 1411.0,376.70 1411.5,376.75 1412.0,376.80 1412.5,376.85 1413.0,376.89 1413.5,376.92 1414.0,376.95 1414.5,376.97 1415.0,376.99 1415.5,377.00 1416.0,377.00 1416.5,377.00 1417.0,376.99 1417.5,376.98 1418.0,376.97 1418.5,376.95 1419.0,376.94 1419.5,376.91 1420.0,376.89 1420.5,376.86 1421.0,376.83 1421.5,376.80 1422.0,376.76 1422.5,376.72 1423.0,376.68 1423.5,376.64 1424.0,376.60 1424.5,376.55 1425.0,376.51 1425.5,376.46 1426.0,376.41 1426.5,376.36 1427.0,376.30 1427.5,376.25 1428.0,376.20 1428.5,376.14 1429.0,376.09 1429.5,376.03 1430.0,375.98 1430.5,375.92 1431.0,375.87 1431.5,375.81 1432.0,375.75 1432.5,375.69 1433.0,375.63 1433.5,375.56 1434.0,375.49 1434.5,375.41 1435.0,375.33 1435.5,375.25 1436.0,375.16 1436.5,375.07 1437.0,374.98 1437.5,374.88 1438.0,374.78 1438.5,374.68 1439.0,374.57 1439.5,374.46 1440.0,374.34 1440.5,374.22 1441.0,374.09 1441.5,373.96 1442.0,373.83 1442.5,373.69 1443.0,373.53 1443.5,373.35 1444.0,373.14 1444.5,372.92 1445.0,372.68 1445.5,372.42 1446.0,372.15 1446.5,371.87 1447.0,371.57 1447.5,371.27 1448.0,370.96 1448.5,370.65 1449.0,370.33 1449.5,370.01 1450.0,369.69 1450.5,369.37 1451.0,369.05 1451.5,368.75 1452.0,368.44 1452.5,368.15 1453.0,367.87 1453.5,367.60 1454.0,367.35 1454.5,367.10 1455.0,366.87 1455.5,366.63 1456.0,366.41 1456.5,366.19 1457.0,365.97 1457.5,365.76 1458.0,365.55 1458.5,365.34 1459.0,365.13 1459.5,364.91 1460.0,364.70 1460.5,364.49 1461.0,364.27 1461.5,364.05 1462.0,363.82 1462.5,363.58 1463.0,363.34 1463.5,363.09 1464.0,362.84 1464.5,362.57 1465.0,362.29 1465.5,362.00 1466.0,361.70 1466.5,361.38 1467.0,361.04 1467.5,360.67 1468.0,360.28 1468.5,359.88 1469.0,359.46 1469.5,359.02 1470.0,358.57 1470.5,358.11 1471.0,357.64 1471.5,357.16 1472.0,356.68 1472.5,356.19 1473.0,355.71 1473.5,355.22 1474.0,354.73 1474.5,354.16 1475.0,353.52 1475.5,352.84 1476.0,352.13 1476.5,351.42 1477.0,350.72 1477.5,350.07 1478.0,349.49 1478.5,349.00 1479.0,348.62 1479.5,348.37 1480.0,348.29 1480.5,348.34 1481.0,348.49 1481.5,348.74 1482.0,349.06 1482.5,349.44 1483.0,349.87 1483.5,350.34 1484.0,350.84 1484.5,351.36 1485.0,351.88 1485.5,352.38 1486.0,352.87 1486.5,353.32 1487.0,353.81 1487.5,354.32 1488.0,354.86 1488.5,355.42 1489.0,355.99 1489.5,356.58 1490.0,357.17 1490.5,357.75 1491.0,358.34 1491.5,358.91 1492.0,359.46 1492.5,359.99 1493.0,360.49 1493.5,360.95 1494.0,361.38 1494.5,361.82 1495.0,362.26 1495.5,362.71 1496.0,363.15 1496.5,363.58 1497.0,363.98 1497.5,364.36 1498.0,364.71 1498.5,365.02 1499.0,365.28 1499.5,365.48 1500.0,365.62 1500.5,365.72 1501.0,365.81 1501.5,365.90 1502.0,365.98 1502.5,366.06 1503.0,366.13 1503.5,366.20 1504.0,366.26 1504.5,366.32 1505.0,366.37 1505.5,366.42 1506.0,366.46 1506.5,366.49 1507.0,366.52 1507.5,366.54 1508.0,366.56 1508.5,366.57 1509.0,366.57 1509.5,366.55 1510.0,366.50 1510.5,366.43 1511.0,366.34 1511.5,366.22 1512.0,366.09 1512.5,365.94 1513.0,365.77 1513.5,365.59 1514.0,365.40 1514.5,365.20 1515.0,365.00 1515.5,364.79 1516.0,364.57 1516.5,364.36 1517.0,364.15 1517.5,363.94 1518.0,363.73 1518.5,363.50 1519.0,363.24 1519.5,362.96 1520.0,362.66 1520.5,362.35 1521.0,362.02 1521.5,361.68 1522.0,361.33 1522.5,360.97 1523.0,360.61 1523.5,360.24 1524.0,359.87 1524.5,359.51 1525.0,359.15 1525.5,358.80 1526.0,358.45 1526.5,358.12 1527.0,357.80 1527.5,357.50 1528.0,357.22 1528.5,356.95 1529.0,356.71 1529.5,356.49 1530.0,356.25 1530.5,356.02 1531.0,355.79 1531.5,355.56 1532.0,355.33 1532.5,355.10 1533.0,354.88 1533.5,354.67 1534.0,354.46 1534.5,354.27 1535.0,354.08 1535.5,353.91 1536.0,353.75 1536.5,353.60 1537.0,353.48 1537.5,353.36 1538.0,353.27 1538.5,353.20 1539.0,353.14 1539.5,353.10 1540.0,353.06 1540.5,353.02 1541.0,352.99 1541.5,352.95 1542.0,352.92 1542.5,352.88 1543.0,352.85 1543.5,352.82 1544.0,352.79 1544.5,352.77 1545.0,352.74 1545.5,352.72 1546.0,352.70 1546.5,352.67 1547.0,352.66 1547.5,352.64 1548.0,352.62 1548.5,352.61 1549.0,352.60 1549.5,352.59 1550.0,352.58 1550.5,352.58 1551.0,352.57 1551.5,352.57 1552.0,352.58 1552.5,352.61 1553.0,352.66 1553.5,352.73 1554.0,352.82 1554.5,352.92 1555.0,353.05 1555.5,353.18 1556.0,353.33 1556.5,353.48 1557.0,353.65 1557.5,353.83 1558.0,354.01 1558.5,354.19 1559.0,354.38 1559.5,354.57 1560.0,354.76 1560.5,354.95 1561.0,355.14 1561.5,355.32 1562.0,355.50 1562.5,355.67 1563.0,355.83 1563.5,355.98 1564.0,356.12 1564.5,356.25 1565.0,356.37 1565.5,356.50 1566.0,356.63 1566.5,356.75 1567.0,356.87 1567.5,357.00 1568.0,357.12 1568.5,357.24 1569.0,357.36 1569.5,357.48 1570.0,357.59 1570.5,357.71 1571.0,357.83 1571.5,357.94 1572.0,358.06 1572.5,358.17 1573.0,358.29 1573.5,358.40 1574.0,358.52 1574.5,358.63 1575.0,358.75 1575.5,358.86 1576.0,358.97 1576.5,359.09 1577.0,359.20 1577.5,359.31 1578.0,359.43 1578.5,359.54 1579.0,359.66 1579.5,359.77 1580.0,359.89 1580.5,360.00 1581.0,360.12 1581.5,360.24 1582.0,360.36 1582.5,360.48 1583.0,360.60 1583.5,360.72 1584.0,360.84 1584.5,360.97 1585.0,361.09 1585.5,361.22 1586.0,361.34 1586.5,361.47 1587.0,361.60 1587.5,361.72 1588.0,361.85 1588.5,361.97 1589.0,362.10 1589.5,362.22 1590.0,362.35 1590.5,362.47 1591.0,362.59 1591.5,362.71 1592.0,362.83 1592.5,362.94 1593.0,363.06 1593.5,363.17 1594.0,363.28 1594.5,363.39 1595.0,363.50 1595.5,363.60 1596.0,363.70 1596.5,363.80 1597.0,363.89 1597.5,363.99 1598.0,364.07 1598.5,364.16 1599.0,364.24 1599.5,364.32 1600.0,364.40 1600.5,364.48 1601.0,364.56 1601.5,364.63 1602.0,364.70 1602.5,364.77 1603.0,364.85 1603.5,364.92 1604.0,364.99 1604.5,365.06 1605.0,365.13 1605.5,365.20 1606.0,365.27 1606.5,365.34 1607.0,365.41 1607.5,365.49 1608.0,365.56 1608.5,365.64 1609.0,365.72 1609.5,365.80 1610.0,365.89 1610.5,365.97 1611.0,366.06 1611.5,366.16 1612.0,366.25 1612.5,366.37 1613.0,366.50 1613.5,366.64 1614.0,366.79 1614.5,366.95 1615.0,367.10 1615.5,367.26 1616.0,367.41 1616.5,367.55 1617.0,367.68 1617.5,367.79 1618.0,367.88 1618.5,367.95 1619.0,367.99 1619.5,368.00 1620.0,368.00 1620.5,368.00 1621.0,368.00 1621.5,368.00 1622.0,367.99 1622.5,367.99 1623.0,367.98 1623.5,367.97 1624.0,367.95 1624.5,367.93 1625.0,367.91 1625.5,367.89 1626.0,367.86 1626.5,367.82 1627.0,367.78 1627.5,367.73 1628.0,367.68 1628.5,367.62 1629.0,367.56" fill="none" stroke="#e80e18" stroke-width="2.9" stroke-linejoin="round" stroke-linecap="butt"/>
<path transform="scale(1 1.4)" d="M247.5,495.71 248.0,495.71 248.5,495.71 249.0,495.70 249.5,495.70 250.0,495.69 250.5,495.69 251.0,495.69 251.5,495.68 252.0,495.68 252.5,495.68 253.0,495.67 253.5,495.67 254.0,495.66 254.5,495.66 255.0,495.66 255.5,495.65 256.0,495.65 256.5,495.64 257.0,495.64 257.5,495.64 258.0,495.63 258.5,495.63 259.0,495.63 259.5,495.62 260.0,495.62 260.5,495.61 261.0,495.61 261.5,495.61 262.0,495.60 262.5,495.60 263.0,495.59 263.5,495.59 264.0,495.59 264.5,495.58 265.0,495.58 265.5,495.58 266.0,495.57 266.5,495.57 267.0,495.56 267.5,495.56 268.0,495.56 268.5,495.55 269.0,495.55 269.5,495.54 270.0,495.54 270.5,495.54 271.0,495.53 271.5,495.53 272.0,495.52 272.5,495.52 273.0,495.52 273.5,495.51 274.0,495.51 274.5,495.51 275.0,495.50 275.5,495.50 276.0,495.49 276.5,495.49 277.0,495.49 277.5,495.48 278.0,495.48 278.5,495.47 279.0,495.47 279.5,495.47 280.0,495.46 280.5,495.46 281.0,495.46 281.5,495.45 282.0,495.45 282.5,495.44 283.0,495.44 283.5,495.44 284.0,495.43 284.5,495.43 285.0,495.42 285.5,495.42 286.0,495.42 286.5,495.41 287.0,495.41 287.5,495.41 288.0,495.40 288.5,495.40 289.0,495.39 289.5,495.39 290.0,495.39 290.5,495.38 291.0,495.38 291.5,495.37 292.0,495.37 292.5,495.37 293.0,495.36 293.5,495.36 294.0,495.36 294.5,495.35 295.0,495.35 295.5,495.34 296.0,495.34 296.5,495.34 297.0,495.33 297.5,495.33 298.0,495.32 298.5,495.32 299.0,495.32 299.5,495.31 300.0,495.31 300.5,495.31 301.0,495.30 301.5,495.30 302.0,495.29 302.5,495.29 303.0,495.29 303.5,495.28 304.0,495.28 304.5,495.27 305.0,495.27 305.5,495.27 306.0,495.26 306.5,495.26 307.0,495.26 307.5,495.25 308.0,495.25 308.5,495.24 309.0,495.24 309.5,495.24 310.0,495.23 310.5,495.23 311.0,495.22 311.5,495.22 312.0,495.22 312.5,495.21 313.0,495.21 313.5,495.21 314.0,495.20 314.5,495.20 315.0,495.19 315.5,495.19 316.0,495.19 316.5,495.18 317.0,495.18 317.5,495.18 318.0,495.17 318.5,495.17 319.0,495.16 319.5,495.16 320.0,495.16 320.5,495.15 321.0,495.15 321.5,495.14 322.0,495.14 322.5,495.14 323.0,495.13 323.5,495.13 324.0,495.13 324.5,495.12 325.0,495.12 325.5,495.11 326.0,495.11 326.5,495.11 327.0,495.10 327.5,495.10 328.0,495.09 328.5,495.09 329.0,495.09 329.5,495.08 330.0,495.08 330.5,495.08 331.0,495.07 331.5,495.07 332.0,495.06 332.5,495.06 333.0,495.06 333.5,495.05 334.0,495.05 334.5,495.05 335.0,495.04 335.5,495.04 336.0,495.03 336.5,495.03 337.0,495.03 337.5,495.02 338.0,495.02 338.5,495.01 339.0,495.01 339.5,495.01 340.0,495.00 340.5,495.00 341.0,495.00 341.5,494.99 342.0,494.99 342.5,494.98 343.0,494.98 343.5,494.98 344.0,494.97 344.5,494.97 345.0,494.97 345.5,494.96 346.0,494.96 346.5,494.96 347.0,494.95 347.5,494.95 348.0,494.95 348.5,494.94 349.0,494.94 349.5,494.94 350.0,494.93 350.5,494.93 351.0,494.93 351.5,494.92 352.0,494.92 352.5,494.92 353.0,494.91 353.5,494.91 354.0,494.91 354.5,494.90 355.0,494.90 355.5,494.90 356.0,494.90 356.5,494.89 357.0,494.89 357.5,494.89 358.0,494.88 358.5,494.88 359.0,494.88 359.5,494.87 360.0,494.87 360.5,494.87 361.0,494.87 361.5,494.86 362.0,494.86 362.5,494.86 363.0,494.85 363.5,494.85 364.0,494.85 364.5,494.85 365.0,494.84 365.5,494.84 366.0,494.84 366.5,494.83 367.0,494.83 367.5,494.83 368.0,494.83 368.5,494.82 369.0,494.82 369.5,494.82 370.0,494.81 370.5,494.81 371.0,494.81 371.5,494.80 372.0,494.80 372.5,494.80 373.0,494.80 373.5,494.79 374.0,494.79 374.5,494.79 375.0,494.78 375.5,494.78 376.0,494.78 376.5,494.77 377.0,494.77 377.5,494.77 378.0,494.77 378.5,494.76 379.0,494.76 379.5,494.76 380.0,494.75 380.5,494.75 381.0,494.75 381.5,494.74 382.0,494.74 382.5,494.74 383.0,494.73 383.5,494.73 384.0,494.73 384.5,494.72 385.0,494.72 385.5,494.72 386.0,494.71 386.5,494.71 387.0,494.71 387.5,494.70 388.0,494.70 388.5,494.70 389.0,494.69 389.5,494.69 390.0,494.68 390.5,494.68 391.0,494.68 391.5,494.67 392.0,494.67 392.5,494.67 393.0,494.66 393.5,494.66 394.0,494.65 394.5,494.65 395.0,494.64 395.5,494.64 396.0,494.64 396.5,494.63 397.0,494.63 397.5,494.62 398.0,494.62 398.5,494.61 399.0,494.61 399.5,494.61 400.0,494.60 400.5,494.60 401.0,494.59 401.5,494.59 402.0,494.58 402.5,494.58 403.0,494.57 403.5,494.57 404.0,494.56 404.5,494.56 405.0,494.55 405.5,494.55 406.0,494.54 406.5,494.54 407.0,494.53 407.5,494.53 408.0,494.52 408.5,494.52 409.0,494.51 409.5,494.50 410.0,494.50 410.5,494.49 411.0,494.49 411.5,494.48 412.0,494.47 412.5,494.47 413.0,494.46 413.5,494.46 414.0,494.45 414.5,494.44 415.0,494.44 415.5,494.43 416.0,494.42 416.5,494.42 417.0,494.41 417.5,494.41 418.0,494.40 418.5,494.39 419.0,494.39 419.5,494.38 420.0,494.37 420.5,494.37 421.0,494.36 421.5,494.36 422.0,494.35 422.5,494.34 423.0,494.34 423.5,494.33 424.0,494.32 424.5,494.32 425.0,494.31 425.5,494.30 426.0,494.29 426.5,494.28 427.0,494.28 427.5,494.27 428.0,494.26 428.5,494.25 429.0,494.24 429.5,494.23 430.0,494.22 430.5,494.21 431.0,494.20 431.5,494.18 432.0,494.17 432.5,494.16 433.0,494.15 433.5,494.13 434.0,494.12 434.5,494.10 435.0,494.09 435.5,494.07 436.0,494.06 436.5,494.04 437.0,494.02 437.5,494.00 438.0,493.98 438.5,493.96 439.0,493.94 439.5,493.92 440.0,493.90 440.5,493.87 441.0,493.85 441.5,493.83 442.0,493.80 442.5,493.77 443.0,493.75 443.5,493.72 444.0,493.69 444.5,493.66 445.0,493.63 445.5,493.60 446.0,493.56 446.5,493.49 447.0,493.37 447.5,493.20 448.0,492.99 448.5,492.74 449.0,492.45 449.5,492.13 450.0,491.79 450.5,491.42 451.0,491.04 451.5,490.64 452.0,490.23 452.5,489.82 453.0,489.40 453.5,488.99 454.0,488.55 454.5,488.07 455.0,487.56 455.5,487.01 456.0,486.42 456.5,485.80 457.0,485.15 457.5,484.45 458.0,483.73 458.5,482.97 459.0,482.17 459.5,481.34 460.0,480.46 460.5,479.48 461.0,478.39 461.5,477.21 462.0,475.96 462.5,474.64 463.0,473.28 463.5,471.87 464.0,470.44 464.5,469.00 465.0,467.56 465.5,466.08 466.0,464.56 466.5,462.99 467.0,461.39 467.5,459.74 468.0,458.05 468.5,456.32 469.0,454.54 469.5,452.71 470.0,450.83 470.5,448.90 471.0,446.93 471.5,444.88 472.0,442.74 472.5,440.51 473.0,438.21 473.5,435.84 474.0,433.42 474.5,430.93 475.0,428.41 475.5,425.85 476.0,423.25 476.5,420.64 477.0,418.01 477.5,415.37 478.0,412.66 478.5,409.89 479.0,407.06 479.5,404.18 480.0,401.27 480.5,398.33 481.0,395.38 481.5,392.42 482.0,389.48 482.5,386.52 483.0,383.34 483.5,379.99 484.0,376.59 484.5,373.23 485.0,370.05 485.5,367.15 486.0,364.64 486.5,362.64 487.0,360.98 487.5,359.44 488.0,358.03 488.5,356.80 489.0,355.76 489.5,354.94 490.0,354.36 490.5,353.84 491.0,353.38 491.5,353.03 492.0,352.82 492.5,352.80 493.0,352.94 493.5,353.21 494.0,353.61 494.5,354.10 495.0,354.67 495.5,355.30 496.0,356.17 496.5,357.64 497.0,359.62 497.5,361.97 498.0,364.61 498.5,367.40 499.0,370.25 499.5,373.03 500.0,375.65 500.5,378.31 501.0,381.09 501.5,383.98 502.0,386.93 502.5,389.93 503.0,392.93 503.5,395.91 504.0,398.83 504.5,401.67 505.0,404.39 505.5,407.08 506.0,409.77 506.5,412.44 507.0,415.08 507.5,417.68 508.0,420.21 508.5,422.67 509.0,425.03 509.5,427.28 510.0,429.42 510.5,431.51 511.0,433.58 511.5,435.62 512.0,437.59 512.5,439.49 513.0,441.30 513.5,442.98 514.0,444.54 514.5,445.93 515.0,447.16 515.5,448.28 516.0,449.33 516.5,450.32 517.0,451.25 517.5,452.13 518.0,452.97 518.5,453.77 519.0,454.53 519.5,455.27 520.0,455.98 520.5,456.68 521.0,457.37 521.5,458.04 522.0,458.66 522.5,459.22 523.0,459.74 523.5,460.24 524.0,460.73 524.5,461.22 525.0,461.72 525.5,462.25 526.0,462.81 526.5,463.42 527.0,464.10 527.5,464.86 528.0,465.78 528.5,466.93 529.0,468.25 529.5,469.68 530.0,471.16 530.5,472.63 531.0,474.05 531.5,475.34 532.0,476.47 532.5,477.36 533.0,478.10 533.5,478.82 534.0,479.49 534.5,480.13 535.0,480.72 535.5,481.26 536.0,481.74 536.5,482.16 537.0,482.51 537.5,482.79 538.0,483.01 538.5,483.20 539.0,483.36 539.5,483.50 540.0,483.63 540.5,483.75 541.0,483.86 541.5,483.96 542.0,484.06 542.5,484.17 543.0,484.29 543.5,484.42 544.0,484.57 544.5,484.73 545.0,484.93 545.5,485.18 546.0,485.49 546.5,485.87 547.0,486.28 547.5,486.72 548.0,487.18 548.5,487.64 549.0,488.08 549.5,488.50 550.0,488.88 550.5,489.20 551.0,489.46 551.5,489.64 552.0,489.80 552.5,489.95 553.0,490.10 553.5,490.25 554.0,490.38 554.5,490.51 555.0,490.64 555.5,490.76 556.0,490.88 556.5,490.98 557.0,491.09 557.5,491.19 558.0,491.28 558.5,491.37 559.0,491.46 559.5,491.54 560.0,491.61 560.5,491.69 561.0,491.75 561.5,491.82 562.0,491.88 562.5,491.93 563.0,491.99 563.5,492.03 564.0,492.08 564.5,492.12 565.0,492.17 565.5,492.21 566.0,492.25 566.5,492.29 567.0,492.33 567.5,492.37 568.0,492.41 568.5,492.45 569.0,492.48 569.5,492.52 570.0,492.55 570.5,492.59 571.0,492.62 571.5,492.66 572.0,492.69 572.5,492.72 573.0,492.75 573.5,492.78 574.0,492.81 574.5,492.84 575.0,492.87 575.5,492.90 576.0,492.93 576.5,492.95 577.0,492.98 577.5,493.01 578.0,493.03 578.5,493.05 579.0,493.08 579.5,493.10 580.0,493.12 580.5,493.15 581.0,493.17 581.5,493.19 582.0,493.21 582.5,493.23 583.0,493.25 583.5,493.27 584.0,493.28 584.5,493.30 585.0,493.32 585.5,493.34 586.0,493.35 586.5,493.37 587.0,493.38 587.5,493.40 588.0,493.41 588.5,493.43 589.0,493.44 589.5,493.45 590.0,493.47 590.5,493.48 591.0,493.49 591.5,493.50 592.0,493.51 592.5,493.52 593.0,493.53 593.5,493.54 594.0,493.55 594.5,493.57 595.0,493.58 595.5,493.59 596.0,493.60 596.5,493.61 597.0,493.62 597.5,493.63 598.0,493.64 598.5,493.65 599.0,493.66 599.5,493.67 600.0,493.68 600.5,493.69 601.0,493.70 601.5,493.71 602.0,493.72 602.5,493.73 603.0,493.74 603.5,493.75 604.0,493.76 604.5,493.77 605.0,493.78 605.5,493.79 606.0,493.80 606.5,493.81 607.0,493.82 607.5,493.83 608.0,493.84 608.5,493.84 609.0,493.85 609.5,493.86 610.0,493.87 610.5,493.88 611.0,493.89 611.5,493.90 612.0,493.91 612.5,493.92 613.0,493.93 613.5,493.93 614.0,493.94 614.5,493.95 615.0,493.96 615.5,493.97 616.0,493.98 616.5,493.98 617.0,493.99 617.5,494.00 618.0,494.01 618.5,494.02 619.0,494.02 619.5,494.03 620.0,494.04 620.5,494.05 621.0,494.06 621.5,494.06 622.0,494.07 622.5,494.08 623.0,494.09 623.5,494.09 624.0,494.10 624.5,494.11 625.0,494.12 625.5,494.12 626.0,494.13 626.5,494.14 627.0,494.14 627.5,494.15 628.0,494.16 628.5,494.16 629.0,494.17 629.5,494.18 630.0,494.18 630.5,494.19 631.0,494.19 631.5,494.20 632.0,494.21 632.5,494.21 633.0,494.22 633.5,494.23 634.0,494.23 634.5,494.24 635.0,494.24 635.5,494.25 636.0,494.25 636.5,494.26 637.0,494.26 637.5,494.27 638.0,494.27 638.5,494.28 639.0,494.28 639.5,494.29 640.0,494.29 640.5,494.30 641.0,494.30 641.5,494.31 642.0,494.31 642.5,494.32 643.0,494.32 643.5,494.33 644.0,494.33 644.5,494.33 645.0,494.34 645.5,494.34 646.0,494.35 646.5,494.35 647.0,494.35 647.5,494.36 648.0,494.36 648.5,494.36 649.0,494.37 649.5,494.37 650.0,494.37 650.5,494.38 651.0,494.38 651.5,494.38 652.0,494.39 652.5,494.39 653.0,494.39 653.5,494.39 654.0,494.40 654.5,494.40 655.0,494.40 655.5,494.40 656.0,494.41 656.5,494.41 657.0,494.41 657.5,494.41 658.0,494.41 658.5,494.42 659.0,494.42 659.5,494.42 660.0,494.42 660.5,494.42 661.0,494.42 661.5,494.42 662.0,494.42 662.5,494.42 663.0,494.43 663.5,494.43 664.0,494.43 664.5,494.43 665.0,494.43 665.5,494.43 666.0,494.43 666.5,494.43 667.0,494.43 667.5,494.43 668.0,494.43 668.5,494.43 669.0,494.43 669.5,494.43 670.0,494.43 670.5,494.43 671.0,494.42 671.5,494.42 672.0,494.42 672.5,494.42 673.0,494.42 673.5,494.42 674.0,494.42 674.5,494.41 675.0,494.41 675.5,494.41 676.0,494.41 676.5,494.41 677.0,494.40 677.5,494.40 678.0,494.40 678.5,494.40 679.0,494.39 679.5,494.39 680.0,494.39 680.5,494.39 681.0,494.38 681.5,494.38 682.0,494.38 682.5,494.37 683.0,494.37 683.5,494.37 684.0,494.36 684.5,494.36 685.0,494.36 685.5,494.35 686.0,494.35 686.5,494.35 687.0,494.34 687.5,494.34 688.0,494.33 688.5,494.33 689.0,494.33 689.5,494.32 690.0,494.32 690.5,494.32 691.0,494.31 691.5,494.31 692.0,494.30 692.5,494.30 693.0,494.30 693.5,494.29 694.0,494.29 694.5,494.28 695.0,494.28 695.5,494.27 696.0,494.27 696.5,494.27 697.0,494.26 697.5,494.26 698.0,494.25 698.5,494.25 699.0,494.24 699.5,494.24 700.0,494.24 700.5,494.23 701.0,494.23 701.5,494.22 702.0,494.22 702.5,494.22 703.0,494.21 703.5,494.21 704.0,494.20 704.5,494.20 705.0,494.19 705.5,494.19 706.0,494.19 706.5,494.18 707.0,494.18 707.5,494.17 708.0,494.17 708.5,494.17 709.0,494.16 709.5,494.16 710.0,494.16 710.5,494.15 711.0,494.15 711.5,494.15 712.0,494.14 712.5,494.14 713.0,494.14 713.5,494.13 714.0,494.13 714.5,494.13 715.0,494.12 715.5,494.12 716.0,494.12 716.5,494.11 717.0,494.11 717.5,494.11 718.0,494.11 718.5,494.10 719.0,494.10 719.5,494.10 720.0,494.10 720.5,494.09 721.0,494.09 721.5,494.09 722.0,494.09 722.5,494.09 723.0,494.08 723.5,494.08 724.0,494.08 724.5,494.08 725.0,494.08 725.5,494.08 726.0,494.08 726.5,494.07 727.0,494.07 727.5,494.07 728.0,494.07 728.5,494.07 729.0,494.07 729.5,494.07 730.0,494.07 730.5,494.07 731.0,494.07 731.5,494.07 732.0,494.07 732.5,494.07 733.0,494.07 733.5,494.07 734.0,494.07 734.5,494.07 735.0,494.07 735.5,494.07 736.0,494.07 736.5,494.07 737.0,494.07 737.5,494.07 738.0,494.07 738.5,494.07 739.0,494.07 739.5,494.07 740.0,494.07 740.5,494.07 741.0,494.07 741.5,494.07 742.0,494.07 742.5,494.07 743.0,494.07 743.5,494.07 744.0,494.07 744.5,494.07 745.0,494.07 745.5,494.07 746.0,494.07 746.5,494.07 747.0,494.07 747.5,494.07 748.0,494.07 748.5,494.07 749.0,494.07 749.5,494.07 750.0,494.07 750.5,494.07 751.0,494.07 751.5,494.07 752.0,494.07 752.5,494.07 753.0,494.07 753.5,494.07 754.0,494.07 754.5,494.07 755.0,494.07 755.5,494.07 756.0,494.07 756.5,494.07 757.0,494.07 757.5,494.07 758.0,494.07 758.5,494.07 759.0,494.07 759.5,494.07 760.0,494.07 760.5,494.07 761.0,494.07 761.5,494.07 762.0,493.99 762.5,493.75 763.0,493.38 763.5,492.90 764.0,492.33 764.5,491.70 765.0,491.02 765.5,490.32 766.0,489.62 766.5,488.94 767.0,488.30 767.5,487.73 768.0,487.24 768.5,486.81 769.0,486.40 769.5,486.02 770.0,485.66 770.5,485.30 771.0,484.94 771.5,484.56 772.0,484.16 772.5,483.72 773.0,483.25 773.5,482.72 774.0,482.13 774.5,481.42 775.0,480.52 775.5,479.45 776.0,478.24 776.5,476.92 777.0,475.54 777.5,474.11 778.0,472.66 778.5,471.24 779.0,469.88 779.5,468.59 780.0,467.42 780.5,466.38 781.0,465.30 781.5,464.17 782.0,463.02 782.5,461.88 783.0,460.76 783.5,459.70 784.0,458.72 784.5,457.85 785.0,457.12 785.5,456.55 786.0,456.17 786.5,456.00 787.0,456.02 787.5,456.10 788.0,456.23 788.5,456.41 789.0,456.63 789.5,456.90 790.0,457.21 790.5,457.56 791.0,457.93 791.5,458.33 792.0,458.76 792.5,459.20 793.0,459.67 793.5,460.33 794.0,461.24 794.5,462.37 795.0,463.66 795.5,465.08 796.0,466.59 796.5,468.15 797.0,469.72 797.5,471.26 798.0,472.72 798.5,474.08 799.0,475.28 799.5,476.34 800.0,477.38 800.5,478.41 801.0,479.43 801.5,480.43 802.0,481.40 802.5,482.33 803.0,483.21 803.5,484.03 804.0,484.79 804.5,485.48 805.0,486.08 805.5,486.60 806.0,487.07 806.5,487.54 807.0,487.99 807.5,488.43 808.0,488.85 808.5,489.25 809.0,489.62 809.5,489.97 810.0,490.29 810.5,490.58 811.0,490.84 811.5,491.06 812.0,491.25 812.5,491.40 813.0,491.50 813.5,491.58 814.0,491.65 814.5,491.70 815.0,491.76 815.5,491.80 816.0,491.84 816.5,491.88 817.0,491.91 817.5,491.95 818.0,491.98 818.5,492.02 819.0,492.06 819.5,492.11 820.0,492.16 820.5,492.21 821.0,492.28 821.5,492.37 822.0,492.46 822.5,492.56 823.0,492.67 823.5,492.79 824.0,492.91 824.5,493.04 825.0,493.16 825.5,493.29 826.0,493.41 826.5,493.52 827.0,493.63 827.5,493.74 828.0,493.83 828.5,493.91 829.0,493.97 829.5,494.02 830.0,494.06 830.5,494.07 831.0,494.06 831.5,494.03 832.0,493.97 832.5,493.89 833.0,493.78 833.5,493.66 834.0,493.52 834.5,493.36 835.0,493.18 835.5,493.00 836.0,492.80 836.5,492.58 837.0,492.37 837.5,492.14 838.0,491.90 838.5,491.65 839.0,491.32 839.5,490.93 840.0,490.49 840.5,489.99 841.0,489.44 841.5,488.85 842.0,488.22 842.5,487.56 843.0,486.86 843.5,486.14 844.0,485.40 844.5,484.64 845.0,483.86 845.5,483.08 846.0,482.26 846.5,481.33 847.0,480.31 847.5,479.21 848.0,478.07 848.5,476.89 849.0,475.72 849.5,474.55 850.0,473.42 850.5,472.35 851.0,471.28 851.5,470.09 852.0,468.83 852.5,467.57 853.0,466.36 853.5,465.27 854.0,464.35 854.5,463.67 855.0,463.28 855.5,463.17 856.0,463.10 856.5,463.03 857.0,462.98 857.5,462.93 858.0,462.90 858.5,462.87 859.0,462.86 859.5,462.86 860.0,463.08 860.5,463.57 861.0,464.24 861.5,465.03 862.0,465.89 862.5,466.72 863.0,467.48 863.5,468.08 864.0,468.47 864.5,468.57 865.0,468.52 865.5,468.41 866.0,468.25 866.5,468.05 867.0,467.81 867.5,467.55 868.0,467.27 868.5,466.98 869.0,466.69 869.5,466.42 870.0,466.16 870.5,465.94 871.0,465.74 871.5,465.53 872.0,465.31 872.5,465.08 873.0,464.85 873.5,464.61 874.0,464.39 874.5,464.17 875.0,463.96 875.5,463.77 876.0,463.61 876.5,463.46 877.0,463.35 877.5,463.27 878.0,463.22 878.5,463.22 879.0,463.27 879.5,463.36 880.0,463.50 880.5,463.68 881.0,463.89 881.5,464.12 882.0,464.38 882.5,464.66 883.0,464.95 883.5,465.25 884.0,465.56 884.5,465.86 885.0,466.19 885.5,466.60 886.0,467.07 886.5,467.58 887.0,468.13 887.5,468.70 888.0,469.28 888.5,469.86 889.0,470.42 889.5,470.96 890.0,471.46 890.5,471.90 891.0,472.29 891.5,472.66 892.0,473.01 892.5,473.34 893.0,473.67 893.5,473.98 894.0,474.28 894.5,474.58 895.0,474.86 895.5,475.14 896.0,475.42 896.5,475.69 897.0,475.96 897.5,476.22 898.0,476.48 898.5,476.75 899.0,477.02 899.5,477.29 900.0,477.57 900.5,477.84 901.0,478.11 901.5,478.38 902.0,478.64 902.5,478.89 903.0,479.13 903.5,479.36 904.0,479.58 904.5,479.77 905.0,479.95 905.5,480.11 906.0,480.24 906.5,480.37 907.0,480.49 907.5,480.61 908.0,480.73 908.5,480.85 909.0,480.96 909.5,481.06 910.0,481.16 910.5,481.24 911.0,481.32 911.5,481.38 912.0,481.44 912.5,481.47 913.0,481.49 913.5,481.50 914.0,481.49 914.5,481.48 915.0,481.45 915.5,481.41 916.0,481.37 916.5,481.31 917.0,481.25 917.5,481.19 918.0,481.11 918.5,481.03 919.0,480.94 919.5,480.85 920.0,480.75 920.5,480.65 921.0,480.54 921.5,480.43 922.0,480.32 922.5,480.20 923.0,480.09 923.5,479.97 924.0,479.85 924.5,479.72 925.0,479.60 925.5,479.48 926.0,479.36 926.5,479.23 927.0,479.09 927.5,478.93 928.0,478.76 928.5,478.58 929.0,478.39 929.5,478.19 930.0,477.99 930.5,477.78 931.0,477.56 931.5,477.34 932.0,477.11 932.5,476.89 933.0,476.66 933.5,476.44 934.0,476.21 934.5,475.99 935.0,475.77 935.5,475.56 936.0,475.36 936.5,475.16 937.0,474.96 937.5,474.77 938.0,474.57 938.5,474.38 939.0,474.19 939.5,474.00 940.0,473.81 940.5,473.62 941.0,473.43 941.5,473.23 942.0,473.03 942.5,472.83 943.0,472.63 943.5,472.42 944.0,472.20 944.5,471.98 945.0,471.76 945.5,471.53 946.0,471.29 946.5,471.04 947.0,470.79 947.5,470.54 948.0,470.28 948.5,470.02 949.0,469.75 949.5,469.47 950.0,469.18 950.5,468.89 951.0,468.58 951.5,468.26 952.0,467.93 952.5,467.59 953.0,467.23 953.5,466.86 954.0,466.46 954.5,466.01 955.0,465.52 955.5,464.99 956.0,464.43 956.5,463.85 957.0,463.26 957.5,462.65 958.0,462.05 958.5,461.45 959.0,460.86 959.5,460.30 960.0,459.76 960.5,459.26 961.0,458.80 961.5,458.36 962.0,457.90 962.5,457.42 963.0,456.94 963.5,456.47 964.0,456.01 964.5,455.58 965.0,455.19 965.5,454.85 966.0,454.58 966.5,454.37 967.0,454.25 967.5,454.21 968.0,454.23 968.5,454.27 969.0,454.34 969.5,454.42 970.0,454.51 970.5,454.63 971.0,454.75 971.5,454.88 972.0,455.03 972.5,455.17 973.0,455.39 973.5,455.69 974.0,456.05 974.5,456.48 975.0,456.95 975.5,457.45 976.0,457.96 976.5,458.49 977.0,459.00 977.5,459.49 978.0,459.95 978.5,460.35 979.0,460.71 979.5,461.08 980.0,461.45 980.5,461.83 981.0,462.20 981.5,462.57 982.0,462.92 982.5,463.27 983.0,463.59 983.5,463.90 984.0,464.18 984.5,464.43 985.0,464.64 985.5,464.82 986.0,464.96 986.5,465.06 987.0,465.15 987.5,465.24 988.0,465.32 988.5,465.40 989.0,465.48 989.5,465.55 990.0,465.61 990.5,465.67 991.0,465.72 991.5,465.76 992.0,465.80 992.5,465.83 993.0,465.84 993.5,465.86 994.0,465.85 994.5,465.83 995.0,465.78 995.5,465.70 996.0,465.59 996.5,465.47 997.0,465.33 997.5,465.17 998.0,464.99 998.5,464.80 999.0,464.60 999.5,464.39 1000.0,464.17 1000.5,463.94 1001.0,463.71 1001.5,463.47 1002.0,463.20 1002.5,462.89 1003.0,462.54 1003.5,462.15 1004.0,461.72 1004.5,461.26 1005.0,460.77 1005.5,460.25 1006.0,459.70 1006.5,459.13 1007.0,458.53 1007.5,457.91 1008.0,457.25 1008.5,456.49 1009.0,455.65 1009.5,454.74 1010.0,453.76 1010.5,452.73 1011.0,451.65 1011.5,450.55 1012.0,449.41 1012.5,448.26 1013.0,447.11 1013.5,445.97 1014.0,444.83 1014.5,443.63 1015.0,442.37 1015.5,441.05 1016.0,439.70 1016.5,438.33 1017.0,436.95 1017.5,435.58 1018.0,434.24 1018.5,432.92 1019.0,431.66 1019.5,430.47 1020.0,429.35 1020.5,428.29 1021.0,427.21 1021.5,426.13 1022.0,425.07 1022.5,424.04 1023.0,423.08 1023.5,422.20 1024.0,421.41 1024.5,420.75 1025.0,420.23 1025.5,419.83 1026.0,419.47 1026.5,419.14 1027.0,418.85 1027.5,418.58 1028.0,418.33 1028.5,418.11 1029.0,417.90 1029.5,417.70 1030.0,417.50 1030.5,417.32 1031.0,417.16 1031.5,417.02 1032.0,416.90 1032.5,416.79 1033.0,416.68 1033.5,416.57 1034.0,416.45 1034.5,416.33 1035.0,416.18 1035.5,416.02 1036.0,415.82 1036.5,415.59 1037.0,415.29 1037.5,414.91 1038.0,414.44 1038.5,413.91 1039.0,413.30 1039.5,412.63 1040.0,411.90 1040.5,411.12 1041.0,410.30 1041.5,409.43 1042.0,408.44 1042.5,407.27 1043.0,405.92 1043.5,404.43 1044.0,402.80 1044.5,401.05 1045.0,399.21 1045.5,397.29 1046.0,395.31 1046.5,393.29 1047.0,391.03 1047.5,388.42 1048.0,385.59 1048.5,382.64 1049.0,379.72 1049.5,376.93 1050.0,374.41 1050.5,372.14 1051.0,369.75 1051.5,367.28 1052.0,364.86 1052.5,362.61 1053.0,360.65 1053.5,359.10 1054.0,358.08 1054.5,357.71 1055.0,358.01 1055.5,358.83 1056.0,360.09 1056.5,361.70 1057.0,363.57 1057.5,365.63 1058.0,367.78 1058.5,369.93 1059.0,372.35 1059.5,375.31 1060.0,378.68 1060.5,382.37 1061.0,386.28 1061.5,390.28 1062.0,394.29 1062.5,398.19 1063.0,401.91 1063.5,405.73 1064.0,409.65 1064.5,413.62 1065.0,417.56 1065.5,421.40 1066.0,425.06 1066.5,428.49 1067.0,431.71 1067.5,434.88 1068.0,437.98 1068.5,440.99 1069.0,443.88 1069.5,446.63 1070.0,449.22 1070.5,451.62 1071.0,453.80 1071.5,455.83 1072.0,457.82 1072.5,459.75 1073.0,461.57 1073.5,463.26 1074.0,464.77 1074.5,466.08 1075.0,467.14 1075.5,467.94 1076.0,468.68 1076.5,469.39 1077.0,470.07 1077.5,470.71 1078.0,471.31 1078.5,471.85 1079.0,472.33 1079.5,472.74 1080.0,473.08 1080.5,473.33 1081.0,473.50 1081.5,473.57 1082.0,473.54 1082.5,473.44 1083.0,473.26 1083.5,473.00 1084.0,472.69 1084.5,472.31 1085.0,471.88 1085.5,471.40 1086.0,470.87 1086.5,470.31 1087.0,469.71 1087.5,469.09 1088.0,468.43 1088.5,467.58 1089.0,466.46 1089.5,465.11 1090.0,463.56 1090.5,461.85 1091.0,460.01 1091.5,458.08 1092.0,456.08 1092.5,454.05 1093.0,452.02 1093.5,449.80 1094.0,447.32 1094.5,444.66 1095.0,441.85 1095.5,438.95 1096.0,436.01 1096.5,433.10 1097.0,430.26 1097.5,427.54 1098.0,425.00 1098.5,422.46 1099.0,419.85 1099.5,417.22 1100.0,414.62 1100.5,412.09 1101.0,409.69 1101.5,407.45 1102.0,405.43 1102.5,403.67 1103.0,402.21 1103.5,400.93 1104.0,399.64 1104.5,398.40 1105.0,397.23 1105.5,396.15 1106.0,395.20 1106.5,394.41 1107.0,393.80 1107.5,393.42 1108.0,393.29 1108.5,393.41 1109.0,393.76 1109.5,394.31 1110.0,395.00 1110.5,395.82 1111.0,396.72 1111.5,397.67 1112.0,398.63 1112.5,399.56 1113.0,400.43 1113.5,401.33 1114.0,402.36 1114.5,403.48 1115.0,404.64 1115.5,405.80 1116.0,406.93 1116.5,407.98 1117.0,408.92 1117.5,409.70 1118.0,410.29 1118.5,410.76 1119.0,411.21 1119.5,411.65 1120.0,412.04 1120.5,412.38 1121.0,412.66 1121.5,412.87 1122.0,412.98 1122.5,412.98 1123.0,412.73 1123.5,412.25 1124.0,411.57 1124.5,410.72 1125.0,409.75 1125.5,408.69 1126.0,407.58 1126.5,406.45 1127.0,405.33 1127.5,404.03 1128.0,402.53 1128.5,400.87 1129.0,399.07 1129.5,397.17 1130.0,395.18 1130.5,393.15 1131.0,391.10 1131.5,389.06 1132.0,387.05 1132.5,384.98 1133.0,382.84 1133.5,380.63 1134.0,378.38 1134.5,376.07 1135.0,373.74 1135.5,371.39 1136.0,369.03 1136.5,366.66 1137.0,364.31 1137.5,361.97 1138.0,359.67 1138.5,357.36 1139.0,354.97 1139.5,352.51 1140.0,350.02 1140.5,347.52 1141.0,345.03 1141.5,342.58 1142.0,340.20 1142.5,337.91 1143.0,335.74 1143.5,333.71 1144.0,331.85 1144.5,330.18 1145.0,328.51 1145.5,326.80 1146.0,325.09 1146.5,323.45 1147.0,321.92 1147.5,320.56 1148.0,319.43 1148.5,318.58 1149.0,318.06 1149.5,317.93 1150.0,318.07 1150.5,318.38 1151.0,318.85 1151.5,319.47 1152.0,320.22 1152.5,321.08 1153.0,322.03 1153.5,323.07 1154.0,324.16 1154.5,325.32 1155.0,326.92 1155.5,329.09 1156.0,331.73 1156.5,334.76 1157.0,338.07 1157.5,341.57 1158.0,345.16 1158.5,348.76 1159.0,352.26 1159.5,355.57 1160.0,358.83 1160.5,362.20 1161.0,365.65 1161.5,369.16 1162.0,372.69 1162.5,376.22 1163.0,379.71 1163.5,383.13 1164.0,386.45 1164.5,389.64 1165.0,392.84 1165.5,396.15 1166.0,399.50 1166.5,402.83 1167.0,406.06 1167.5,409.13 1168.0,411.96 1168.5,414.49 1169.0,416.64 1169.5,418.36 1170.0,419.82 1170.5,421.26 1171.0,422.64 1171.5,423.94 1172.0,425.12 1172.5,426.15 1173.0,427.01 1173.5,427.66 1174.0,428.07 1174.5,428.21 1175.0,428.17 1175.5,428.06 1176.0,427.88 1176.5,427.64 1177.0,427.35 1177.5,427.03 1178.0,426.67 1178.5,426.29 1179.0,425.90 1179.5,425.50 1180.0,425.02 1180.5,424.39 1181.0,423.64 1181.5,422.79 1182.0,421.88 1182.5,420.92 1183.0,419.96 1183.5,419.01 1184.0,418.10 1184.5,417.27 1185.0,416.54 1185.5,415.93 1186.0,415.47 1186.5,415.03 1187.0,414.60 1187.5,414.17 1188.0,413.77 1188.5,413.40 1189.0,413.07 1189.5,412.78 1190.0,412.56 1190.5,412.39 1191.0,412.30 1191.5,412.29 1192.0,412.39 1192.5,412.59 1193.0,412.87 1193.5,413.23 1194.0,413.67 1194.5,414.16 1195.0,414.70 1195.5,415.29 1196.0,415.90 1196.5,416.58 1197.0,417.58 1197.5,418.93 1198.0,420.54 1198.5,422.34 1199.0,424.25 1199.5,426.21 1200.0,428.13 1200.5,429.94 1201.0,431.57 1201.5,432.96 1202.0,434.28 1202.5,435.57 1203.0,436.83 1203.5,438.06 1204.0,439.26 1204.5,440.44 1205.0,441.59 1205.5,442.72 1206.0,443.83 1206.5,444.91 1207.0,445.97 1207.5,447.02 1208.0,448.04 1208.5,449.04 1209.0,450.03 1209.5,451.00 1210.0,451.95 1210.5,452.90 1211.0,453.83 1211.5,454.75 1212.0,455.66 1212.5,456.57 1213.0,457.45 1213.5,458.32 1214.0,459.18 1214.5,460.02 1215.0,460.84 1215.5,461.65 1216.0,462.43 1216.5,463.19 1217.0,463.93 1217.5,464.64 1218.0,465.33 1218.5,465.99 1219.0,466.63 1219.5,467.25 1220.0,467.87 1220.5,468.49 1221.0,469.09 1221.5,469.69 1222.0,470.28 1222.5,470.85 1223.0,471.40 1223.5,471.94 1224.0,472.46 1224.5,472.95 1225.0,473.42 1225.5,473.86 1226.0,474.27 1226.5,474.65 1227.0,475.00 1227.5,475.31 1228.0,475.59 1228.5,475.86 1229.0,476.12 1229.5,476.37 1230.0,476.62 1230.5,476.85 1231.0,477.08 1231.5,477.30 1232.0,477.51 1232.5,477.72 1233.0,477.92 1233.5,478.11 1234.0,478.29 1234.5,478.47 1235.0,478.64 1235.5,478.80 1236.0,478.96 1236.5,479.11 1237.0,479.25 1237.5,479.39 1238.0,479.53 1238.5,479.65 1239.0,479.78 1239.5,479.89 1240.0,480.01 1240.5,480.11 1241.0,480.22 1241.5,480.33 1242.0,480.44 1242.5,480.54 1243.0,480.65 1243.5,480.75 1244.0,480.86 1244.5,480.96 1245.0,481.06 1245.5,481.16 1246.0,481.26 1246.5,481.35 1247.0,481.44 1247.5,481.53 1248.0,481.61 1248.5,481.69 1249.0,481.77 1249.5,481.84 1250.0,481.91 1250.5,481.97 1251.0,482.03 1251.5,482.08 1252.0,482.13 1252.5,482.17 1253.0,482.21 1253.5,482.24 1254.0,482.26 1254.5,482.28 1255.0,482.28 1255.5,482.29 1256.0,482.28 1256.5,482.28 1257.0,482.27 1257.5,482.26 1258.0,482.25 1258.5,482.24 1259.0,482.23 1259.5,482.21 1260.0,482.19 1260.5,482.17 1261.0,482.15 1261.5,482.13 1262.0,482.10 1262.5,482.08 1263.0,482.05 1263.5,482.02 1264.0,481.99 1264.5,481.96 1265.0,481.92 1265.5,481.89 1266.0,481.86 1266.5,481.82 1267.0,481.78 1267.5,481.74 1268.0,481.71 1268.5,481.65 1269.0,481.57 1269.5,481.48 1270.0,481.36 1270.5,481.23 1271.0,481.09 1271.5,480.93 1272.0,480.77 1272.5,480.61 1273.0,480.44 1273.5,480.27 1274.0,480.10 1274.5,479.93 1275.0,479.77 1275.5,479.62 1276.0,479.48 1276.5,479.35 1277.0,479.24 1277.5,479.15 1278.0,479.08 1278.5,479.03 1279.0,479.00 1279.5,479.01 1280.0,479.09 1280.5,479.22 1281.0,479.40 1281.5,479.62 1282.0,479.87 1282.5,480.14 1283.0,480.43 1283.5,480.72 1284.0,481.01 1284.5,481.28 1285.0,481.53 1285.5,481.76 1286.0,481.98 1286.5,482.21 1287.0,482.46 1287.5,482.71 1288.0,482.96 1288.5,483.21 1289.0,483.45 1289.5,483.69 1290.0,483.91 1290.5,484.12 1291.0,484.31 1291.5,484.47 1292.0,484.61 1292.5,484.71 1293.0,484.79 1293.5,484.84 1294.0,484.89 1294.5,484.94 1295.0,484.99 1295.5,485.03 1296.0,485.07 1296.5,485.12 1297.0,485.16 1297.5,485.19 1298.0,485.23 1298.5,485.26 1299.0,485.29 1299.5,485.32 1300.0,485.35 1300.5,485.38 1301.0,485.40 1301.5,485.42 1302.0,485.44 1302.5,485.45 1303.0,485.47 1303.5,485.48 1304.0,485.49 1304.5,485.49 1305.0,485.50 1305.5,485.50 1306.0,485.50 1306.5,485.50 1307.0,485.50 1307.5,485.49 1308.0,485.49 1308.5,485.49 1309.0,485.48 1309.5,485.48 1310.0,485.47 1310.5,485.46 1311.0,485.46 1311.5,485.45 1312.0,485.44 1312.5,485.43 1313.0,485.42 1313.5,485.41 1314.0,485.40 1314.5,485.40 1315.0,485.39 1315.5,485.38 1316.0,485.36 1316.5,485.35 1317.0,485.34 1317.5,485.33 1318.0,485.32 1318.5,485.31 1319.0,485.30 1319.5,485.29 1320.0,485.28 1320.5,485.27 1321.0,485.26 1321.5,485.25 1322.0,485.24 1322.5,485.23 1323.0,485.22 1323.5,485.21 1324.0,485.20 1324.5,485.20 1325.0,485.19 1325.5,485.18 1326.0,485.17 1326.5,485.17 1327.0,485.16 1327.5,485.16 1328.0,485.15 1328.5,485.15 1329.0,485.15 1329.5,485.14 1330.0,485.14 1330.5,485.14 1331.0,485.14 1331.5,485.14 1332.0,485.14 1332.5,485.14 1333.0,485.14 1333.5,485.14 1334.0,485.14 1334.5,485.14 1335.0,485.14 1335.5,485.14 1336.0,485.14 1336.5,485.14 1337.0,485.14 1337.5,485.14 1338.0,485.14 1338.5,485.14 1339.0,485.14 1339.5,485.14 1340.0,485.14 1340.5,485.14 1341.0,485.14 1341.5,485.14 1342.0,485.14 1342.5,485.14 1343.0,485.14 1343.5,485.14 1344.0,485.14 1344.5,485.14 1345.0,485.14 1345.5,485.14 1346.0,485.14 1346.5,485.14 1347.0,485.14 1347.5,485.14 1348.0,485.14 1348.5,485.14 1349.0,485.14 1349.5,485.14 1350.0,485.05 1350.5,484.80 1351.0,484.42 1351.5,483.92 1352.0,483.33 1352.5,482.68 1353.0,481.99 1353.5,481.28 1354.0,480.59 1354.5,479.93 1355.0,479.23 1355.5,478.42 1356.0,477.54 1356.5,476.61 1357.0,475.66 1357.5,474.74 1358.0,473.86 1358.5,473.07 1359.0,472.39 1359.5,471.86 1360.0,471.41 1360.5,470.96 1361.0,470.52 1361.5,470.10 1362.0,469.71 1362.5,469.35 1363.0,469.03 1363.5,468.76 1364.0,468.54 1364.5,468.39 1365.0,468.30 1365.5,468.29 1366.0,468.38 1366.5,468.54 1367.0,468.78 1367.5,469.08 1368.0,469.43 1368.5,469.82 1369.0,470.24 1369.5,470.68 1370.0,471.14 1370.5,471.59 1371.0,472.04 1371.5,472.60 1372.0,473.25 1372.5,473.98 1373.0,474.77 1373.5,475.60 1374.0,476.45 1374.5,477.30 1375.0,478.12 1375.5,478.90 1376.0,479.62 1376.5,480.24 1377.0,480.77 1377.5,481.20 1378.0,481.61 1378.5,482.01 1379.0,482.38 1379.5,482.74 1380.0,483.09 1380.5,483.42 1381.0,483.73 1381.5,484.03 1382.0,484.32 1382.5,484.60 1383.0,484.86 1383.5,485.12 1384.0,485.36 1384.5,485.60 1385.0,485.82 1385.5,486.04 1386.0,486.26 1386.5,486.47 1387.0,486.68 1387.5,486.89 1388.0,487.11 1388.5,487.32 1389.0,487.53 1389.5,487.73 1390.0,487.94 1390.5,488.14 1391.0,488.33 1391.5,488.52 1392.0,488.70 1392.5,488.87 1393.0,489.04 1393.5,489.20 1394.0,489.35 1394.5,489.48 1395.0,489.61 1395.5,489.73 1396.0,489.83 1396.5,489.93 1397.0,490.00 1397.5,490.07 1398.0,490.12 1398.5,490.15 1399.0,490.18 1399.5,490.20 1400.0,490.23 1400.5,490.25 1401.0,490.28 1401.5,490.30 1402.0,490.33 1402.5,490.35 1403.0,490.37 1403.5,490.39 1404.0,490.41 1404.5,490.43 1405.0,490.45 1405.5,490.47 1406.0,490.49 1406.5,490.51 1407.0,490.52 1407.5,490.54 1408.0,490.56 1408.5,490.57 1409.0,490.58 1409.5,490.60 1410.0,490.61 1410.5,490.62 1411.0,490.63 1411.5,490.64 1412.0,490.65 1412.5,490.66 1413.0,490.67 1413.5,490.68 1414.0,490.68 1414.5,490.69 1415.0,490.70 1415.5,490.70 1416.0,490.71 1416.5,490.71 1417.0,490.71 1417.5,490.71 1418.0,490.71 1418.5,490.71 1419.0,490.71 1419.5,490.71 1420.0,490.70 1420.5,490.69 1421.0,490.68 1421.5,490.66 1422.0,490.65 1422.5,490.63 1423.0,490.60 1423.5,490.58 1424.0,490.55 1424.5,490.52 1425.0,490.49 1425.5,490.45 1426.0,490.42 1426.5,490.38 1427.0,490.34 1427.5,490.29 1428.0,490.25 1428.5,490.20 1429.0,490.15 1429.5,490.10 1430.0,490.05 1430.5,490.00 1431.0,489.94 1431.5,489.88 1432.0,489.82 1432.5,489.76 1433.0,489.70 1433.5,489.64 1434.0,489.57 1434.5,489.51 1435.0,489.44 1435.5,489.37 1436.0,489.30 1436.5,489.23 1437.0,489.16 1437.5,489.09 1438.0,489.02 1438.5,488.94 1439.0,488.87 1439.5,488.78 1440.0,488.68 1440.5,488.56 1441.0,488.44 1441.5,488.31 1442.0,488.17 1442.5,488.02 1443.0,487.87 1443.5,487.70 1444.0,487.53 1444.5,487.35 1445.0,487.16 1445.5,486.96 1446.0,486.76 1446.5,486.56 1447.0,486.35 1447.5,486.13 1448.0,485.91 1448.5,485.69 1449.0,485.46 1449.5,485.23 1450.0,485.00 1450.5,484.76 1451.0,484.52 1451.5,484.28 1452.0,484.03 1452.5,483.77 1453.0,483.49 1453.5,483.20 1454.0,482.91 1454.5,482.60 1455.0,482.28 1455.5,481.95 1456.0,481.61 1456.5,481.26 1457.0,480.91 1457.5,480.54 1458.0,480.17 1458.5,479.79 1459.0,479.40 1459.5,479.00 1460.0,478.60 1460.5,478.19 1461.0,477.77 1461.5,477.35 1462.0,476.92 1462.5,476.49 1463.0,476.05 1463.5,475.61 1464.0,475.15 1464.5,474.66 1465.0,474.13 1465.5,473.56 1466.0,472.97 1466.5,472.35 1467.0,471.72 1467.5,471.07 1468.0,470.41 1468.5,469.75 1469.0,469.09 1469.5,468.44 1470.0,467.80 1470.5,467.17 1471.0,466.57 1471.5,465.99 1472.0,465.44 1472.5,464.92 1473.0,464.45 1473.5,464.02 1474.0,463.63 1474.5,463.25 1475.0,462.85 1475.5,462.46 1476.0,462.07 1476.5,461.70 1477.0,461.35 1477.5,461.04 1478.0,460.76 1478.5,460.53 1479.0,460.36 1479.5,460.25 1480.0,460.21 1480.5,460.25 1481.0,460.37 1481.5,460.55 1482.0,460.79 1482.5,461.08 1483.0,461.42 1483.5,461.80 1484.0,462.22 1484.5,462.66 1485.0,463.12 1485.5,463.59 1486.0,464.07 1486.5,464.55 1487.0,465.02 1487.5,465.48 1488.0,465.94 1488.5,466.45 1489.0,467.00 1489.5,467.59 1490.0,468.20 1490.5,468.84 1491.0,469.49 1491.5,470.15 1492.0,470.81 1492.5,471.47 1493.0,472.12 1493.5,472.75 1494.0,473.35 1494.5,473.93 1495.0,474.47 1495.5,474.99 1496.0,475.55 1496.5,476.12 1497.0,476.71 1497.5,477.31 1498.0,477.89 1498.5,478.46 1499.0,479.01 1499.5,479.51 1500.0,479.97 1500.5,480.38 1501.0,480.71 1501.5,480.97 1502.0,481.14 1502.5,481.21 1503.0,481.20 1503.5,481.14 1504.0,481.04 1504.5,480.91 1505.0,480.75 1505.5,480.56 1506.0,480.36 1506.5,480.14 1507.0,479.90 1507.5,479.66 1508.0,479.42 1508.5,479.18 1509.0,478.95 1509.5,478.71 1510.0,478.43 1510.5,478.13 1511.0,477.81 1511.5,477.47 1512.0,477.11 1512.5,476.74 1513.0,476.36 1513.5,475.97 1514.0,475.58 1514.5,475.19 1515.0,474.80 1515.5,474.42 1516.0,474.05 1516.5,473.69 1517.0,473.34 1517.5,473.01 1518.0,472.70 1518.5,472.42 1519.0,472.16 1519.5,471.92 1520.0,471.69 1520.5,471.46 1521.0,471.23 1521.5,471.01 1522.0,470.80 1522.5,470.59 1523.0,470.39 1523.5,470.19 1524.0,470.00 1524.5,469.81 1525.0,469.63 1525.5,469.45 1526.0,469.27 1526.5,469.10 1527.0,468.93 1527.5,468.77 1528.0,468.60 1528.5,468.44 1529.0,468.29 1529.5,468.13 1530.0,467.96 1530.5,467.80 1531.0,467.63 1531.5,467.45 1532.0,467.28 1532.5,467.10 1533.0,466.93 1533.5,466.76 1534.0,466.59 1534.5,466.43 1535.0,466.27 1535.5,466.12 1536.0,465.97 1536.5,465.83 1537.0,465.70 1537.5,465.58 1538.0,465.47 1538.5,465.37 1539.0,465.28 1539.5,465.21 1540.0,465.15 1540.5,465.11 1541.0,465.08 1541.5,465.07 1542.0,465.07 1542.5,465.08 1543.0,465.09 1543.5,465.11 1544.0,465.13 1544.5,465.16 1545.0,465.19 1545.5,465.22 1546.0,465.26 1546.5,465.30 1547.0,465.34 1547.5,465.38 1548.0,465.43 1548.5,465.48 1549.0,465.54 1549.5,465.59 1550.0,465.65 1550.5,465.70 1551.0,465.76 1551.5,465.82 1552.0,465.88 1552.5,465.95 1553.0,466.01 1553.5,466.07 1554.0,466.13 1554.5,466.19 1555.0,466.27 1555.5,466.35 1556.0,466.43 1556.5,466.52 1557.0,466.62 1557.5,466.73 1558.0,466.84 1558.5,466.95 1559.0,467.07 1559.5,467.19 1560.0,467.31 1560.5,467.44 1561.0,467.57 1561.5,467.71 1562.0,467.84 1562.5,467.98 1563.0,468.11 1563.5,468.25 1564.0,468.39 1564.5,468.53 1565.0,468.66 1565.5,468.80 1566.0,468.93 1566.5,469.06 1567.0,469.19 1567.5,469.32 1568.0,469.44 1568.5,469.56 1569.0,469.67 1569.5,469.78 1570.0,469.88 1570.5,469.99 1571.0,470.08 1571.5,470.18 1572.0,470.27 1572.5,470.36 1573.0,470.45 1573.5,470.54 1574.0,470.63 1574.5,470.71 1575.0,470.80 1575.5,470.88 1576.0,470.97 1576.5,471.06 1577.0,471.14 1577.5,471.23 1578.0,471.33 1578.5,471.42 1579.0,471.52 1579.5,471.62 1580.0,471.72 1580.5,471.83 1581.0,471.94 1581.5,472.06 1582.0,472.18 1582.5,472.31 1583.0,472.44 1583.5,472.58 1584.0,472.73 1584.5,472.88 1585.0,473.07 1585.5,473.28 1586.0,473.51 1586.5,473.76 1587.0,474.04 1587.5,474.32 1588.0,474.62 1588.5,474.93 1589.0,475.24 1589.5,475.55 1590.0,475.87 1590.5,476.18 1591.0,476.48 1591.5,476.78 1592.0,477.07 1592.5,477.34 1593.0,477.59 1593.5,477.82 1594.0,478.03 1594.5,478.22 1595.0,478.40 1595.5,478.58 1596.0,478.77 1596.5,478.96 1597.0,479.15 1597.5,479.33 1598.0,479.51 1598.5,479.68 1599.0,479.85 1599.5,480.01 1600.0,480.16 1600.5,480.30 1601.0,480.43 1601.5,480.54 1602.0,480.64 1602.5,480.72 1603.0,480.78 1603.5,480.83 1604.0,480.85 1604.5,480.86 1605.0,480.84 1605.5,480.82 1606.0,480.79 1606.5,480.74 1607.0,480.69 1607.5,480.63 1608.0,480.57 1608.5,480.50 1609.0,480.43 1609.5,480.37 1610.0,480.30 1610.5,480.23 1611.0,480.17 1611.5,480.11 1612.0,480.05 1612.5,480.01 1613.0,479.97 1613.5,479.95 1614.0,479.93 1614.5,479.93 1615.0,479.95 1615.5,479.98 1616.0,480.02 1616.5,480.07 1617.0,480.14 1617.5,480.21 1618.0,480.28 1618.5,480.36 1619.0,480.44 1619.5,480.52 1620.0,480.59 1620.5,480.66 1621.0,480.72 1621.5,480.78 1622.0,480.82 1622.5,480.84 1623.0,480.86 1623.5,480.83 1624.0,480.71 1624.5,480.51 1625.0,480.24 1625.5,479.91 1626.0,479.53 1626.5,479.12 1627.0,478.68 1627.5,478.22 1628.0,477.76" fill="none" stroke="#c8660c" stroke-width="2.9" stroke-linejoin="round" stroke-linecap="butt"/>
<path transform="scale(1 1.4)" d="M247.5,667.86 248.0,667.86 248.5,667.85 249.0,667.85 249.5,667.85 250.0,667.85 250.5,667.85 251.0,667.85 251.5,667.84 252.0,667.84 252.5,667.84 253.0,667.84 253.5,667.84 254.0,667.84 254.5,667.84 255.0,667.83 255.5,667.83 256.0,667.83 256.5,667.83 257.0,667.83 257.5,667.82 258.0,667.82 258.5,667.82 259.0,667.82 259.5,667.82 260.0,667.82 260.5,667.81 261.0,667.81 261.5,667.81 262.0,667.81 262.5,667.81 263.0,667.80 263.5,667.80 264.0,667.80 264.5,667.80 265.0,667.80 265.5,667.79 266.0,667.79 266.5,667.79 267.0,667.79 267.5,667.79 268.0,667.78 268.5,667.78 269.0,667.78 269.5,667.78 270.0,667.78 270.5,667.77 271.0,667.77 271.5,667.77 272.0,667.77 272.5,667.76 273.0,667.76 273.5,667.76 274.0,667.76 274.5,667.75 275.0,667.75 275.5,667.75 276.0,667.75 276.5,667.75 277.0,667.74 277.5,667.74 278.0,667.74 278.5,667.74 279.0,667.73 279.5,667.73 280.0,667.73 280.5,667.73 281.0,667.72 281.5,667.72 282.0,667.72 282.5,667.72 283.0,667.71 283.5,667.71 284.0,667.71 284.5,667.71 285.0,667.70 285.5,667.70 286.0,667.70 286.5,667.70 287.0,667.69 287.5,667.69 288.0,667.69 288.5,667.69 289.0,667.68 289.5,667.68 290.0,667.68 290.5,667.67 291.0,667.67 291.5,667.67 292.0,667.67 292.5,667.66 293.0,667.66 293.5,667.66 294.0,667.66 294.5,667.65 295.0,667.65 295.5,667.65 296.0,667.64 296.5,667.64 297.0,667.64 297.5,667.64 298.0,667.63 298.5,667.63 299.0,667.63 299.5,667.62 300.0,667.62 300.5,667.62 301.0,667.62 301.5,667.61 302.0,667.61 302.5,667.61 303.0,667.60 303.5,667.60 304.0,667.60 304.5,667.59 305.0,667.59 305.5,667.59 306.0,667.59 306.5,667.58 307.0,667.58 307.5,667.58 308.0,667.57 308.5,667.57 309.0,667.57 309.5,667.56 310.0,667.56 310.5,667.56 311.0,667.55 311.5,667.55 312.0,667.55 312.5,667.54 313.0,667.54 313.5,667.54 314.0,667.54 314.5,667.53 315.0,667.53 315.5,667.53 316.0,667.52 316.5,667.52 317.0,667.52 317.5,667.51 318.0,667.51 318.5,667.51 319.0,667.50 319.5,667.50 320.0,667.50 320.5,667.49 321.0,667.49 321.5,667.49 322.0,667.48 322.5,667.48 323.0,667.48 323.5,667.47 324.0,667.47 324.5,667.47 325.0,667.46 325.5,667.46 326.0,667.46 326.5,667.45 327.0,667.45 327.5,667.45 328.0,667.44 328.5,667.44 329.0,667.44 329.5,667.43 330.0,667.43 330.5,667.43 331.0,667.42 331.5,667.42 332.0,667.42 332.5,667.41 333.0,667.41 333.5,667.41 334.0,667.40 334.5,667.40 335.0,667.40 335.5,667.39 336.0,667.39 336.5,667.38 337.0,667.38 337.5,667.38 338.0,667.37 338.5,667.37 339.0,667.37 339.5,667.36 340.0,667.36 340.5,667.36 341.0,667.35 341.5,667.35 342.0,667.35 342.5,667.34 343.0,667.34 343.5,667.34 344.0,667.33 344.5,667.33 345.0,667.33 345.5,667.32 346.0,667.32 346.5,667.32 347.0,667.31 347.5,667.31 348.0,667.31 348.5,667.30 349.0,667.30 349.5,667.30 350.0,667.30 350.5,667.29 351.0,667.29 351.5,667.29 352.0,667.28 352.5,667.28 353.0,667.28 353.5,667.28 354.0,667.27 354.5,667.27 355.0,667.27 355.5,667.26 356.0,667.26 356.5,667.26 357.0,667.26 357.5,667.25 358.0,667.25 358.5,667.25 359.0,667.25 359.5,667.24 360.0,667.24 360.5,667.24 361.0,667.24 361.5,667.23 362.0,667.23 362.5,667.23 363.0,667.22 363.5,667.22 364.0,667.22 364.5,667.22 365.0,667.21 365.5,667.21 366.0,667.21 366.5,667.21 367.0,667.20 367.5,667.20 368.0,667.20 368.5,667.19 369.0,667.19 369.5,667.19 370.0,667.19 370.5,667.18 371.0,667.18 371.5,667.18 372.0,667.17 372.5,667.17 373.0,667.17 373.5,667.17 374.0,667.16 374.5,667.16 375.0,667.16 375.5,667.15 376.0,667.15 376.5,667.15 377.0,667.14 377.5,667.14 378.0,667.14 378.5,667.14 379.0,667.13 379.5,667.13 380.0,667.13 380.5,667.12 381.0,667.12 381.5,667.12 382.0,667.11 382.5,667.11 383.0,667.10 383.5,667.10 384.0,667.10 384.5,667.09 385.0,667.09 385.5,667.09 386.0,667.08 386.5,667.08 387.0,667.07 387.5,667.07 388.0,667.07 388.5,667.06 389.0,667.06 389.5,667.05 390.0,667.05 390.5,667.05 391.0,667.04 391.5,667.04 392.0,667.03 392.5,667.03 393.0,667.02 393.5,667.02 394.0,667.01 394.5,667.01 395.0,667.00 395.5,667.00 396.0,666.99 396.5,666.99 397.0,666.98 397.5,666.98 398.0,666.97 398.5,666.97 399.0,666.96 399.5,666.96 400.0,666.95 400.5,666.95 401.0,666.94 401.5,666.94 402.0,666.93 402.5,666.92 403.0,666.92 403.5,666.91 404.0,666.91 404.5,666.90 405.0,666.89 405.5,666.89 406.0,666.88 406.5,666.87 407.0,666.87 407.5,666.86 408.0,666.85 408.5,666.85 409.0,666.84 409.5,666.83 410.0,666.82 410.5,666.82 411.0,666.81 411.5,666.80 412.0,666.79 412.5,666.79 413.0,666.78 413.5,666.77 414.0,666.76 414.5,666.76 415.0,666.75 415.5,666.74 416.0,666.73 416.5,666.72 417.0,666.71 417.5,666.70 418.0,666.70 418.5,666.69 419.0,666.68 419.5,666.67 420.0,666.66 420.5,666.65 421.0,666.64 421.5,666.63 422.0,666.62 422.5,666.61 423.0,666.60 423.5,666.59 424.0,666.58 424.5,666.57 425.0,666.56 425.5,666.55 426.0,666.54 426.5,666.53 427.0,666.52 427.5,666.51 428.0,666.49 428.5,666.48 429.0,666.47 429.5,666.46 430.0,666.45 430.5,666.44 431.0,666.42 431.5,666.41 432.0,666.39 432.5,666.36 433.0,666.33 433.5,666.30 434.0,666.26 434.5,666.22 435.0,666.18 435.5,666.13 436.0,666.08 436.5,666.02 437.0,665.96 437.5,665.90 438.0,665.83 438.5,665.76 439.0,665.68 439.5,665.60 440.0,665.52 440.5,665.43 441.0,665.34 441.5,665.25 442.0,665.15 442.5,665.05 443.0,664.95 443.5,664.84 444.0,664.73 444.5,664.62 445.0,664.50 445.5,664.38 446.0,664.26 446.5,664.11 447.0,663.94 447.5,663.73 448.0,663.49 448.5,663.23 449.0,662.95 449.5,662.64 450.0,662.32 450.5,661.98 451.0,661.62 451.5,661.26 452.0,660.88 452.5,660.49 453.0,660.10 453.5,659.71 454.0,659.30 454.5,658.88 455.0,658.43 455.5,657.97 456.0,657.47 456.5,656.95 457.0,656.39 457.5,655.79 458.0,655.16 458.5,654.48 459.0,653.75 459.5,652.97 460.0,652.11 460.5,651.07 461.0,649.86 461.5,648.52 462.0,647.05 462.5,645.50 463.0,643.89 463.5,642.24 464.0,640.58 464.5,638.93 465.0,637.32 465.5,635.67 466.0,634.00 466.5,632.29 467.0,630.55 467.5,628.76 468.0,626.94 468.5,625.07 469.0,623.16 469.5,621.20 470.0,619.18 470.5,617.12 471.0,615.00 471.5,612.83 472.0,610.61 472.5,608.35 473.0,606.02 473.5,603.62 474.0,601.16 474.5,598.62 475.0,596.00 475.5,593.29 476.0,590.49 476.5,587.58 477.0,584.57 477.5,581.45 478.0,578.14 478.5,574.65 479.0,570.99 479.5,567.16 480.0,563.19 480.5,559.08 481.0,554.84 481.5,550.48 482.0,546.01 482.5,541.42 483.0,536.47 483.5,531.19 484.0,525.70 484.5,520.10 485.0,514.51 485.5,509.04 486.0,503.79 486.5,498.47 487.0,492.90 487.5,487.34 488.0,482.05 488.5,477.31 489.0,473.37 489.5,470.39 490.0,467.62 490.5,465.02 491.0,462.76 491.5,461.04 492.0,460.03 492.5,459.92 493.0,460.60 493.5,461.90 494.0,463.70 494.5,465.86 495.0,468.24 495.5,470.82 496.0,474.55 496.5,479.36 497.0,484.92 497.5,490.88 498.0,496.92 498.5,502.69 499.0,508.20 499.5,513.94 500.0,519.83 500.5,525.77 501.0,531.64 501.5,537.34 502.0,542.78 502.5,547.84 503.0,552.74 503.5,557.54 504.0,562.21 504.5,566.69 505.0,570.93 505.5,574.87 506.0,578.47 506.5,581.77 507.0,584.93 507.5,587.97 508.0,590.88 508.5,593.64 509.0,596.27 509.5,598.75 510.0,601.07 510.5,603.24 511.0,605.24 511.5,607.10 512.0,608.87 512.5,610.57 513.0,612.18 513.5,613.70 514.0,615.14 514.5,616.49 515.0,617.75 515.5,618.90 516.0,619.96 516.5,620.92 517.0,621.81 517.5,622.63 518.0,623.39 518.5,624.11 519.0,624.79 519.5,625.45 520.0,626.09 520.5,626.72 521.0,627.35 521.5,628.00 522.0,628.66 522.5,629.36 523.0,630.06 523.5,630.74 524.0,631.41 524.5,632.07 525.0,632.75 525.5,633.43 526.0,634.14 526.5,634.89 527.0,635.67 527.5,636.50 528.0,637.43 528.5,638.47 529.0,639.59 529.5,640.77 530.0,641.97 530.5,643.17 531.0,644.33 531.5,645.42 532.0,646.42 532.5,647.29 533.0,648.08 533.5,648.86 534.0,649.63 534.5,650.37 535.0,651.06 535.5,651.71 536.0,652.29 536.5,652.81 537.0,653.24 537.5,653.57 538.0,653.84 538.5,654.07 539.0,654.28 539.5,654.46 540.0,654.62 540.5,654.76 541.0,654.90 541.5,655.03 542.0,655.16 542.5,655.30 543.0,655.44 543.5,655.60 544.0,655.78 544.5,655.98 545.0,656.21 545.5,656.50 546.0,656.86 546.5,657.28 547.0,657.74 547.5,658.22 548.0,658.72 548.5,659.22 549.0,659.70 549.5,660.15 550.0,660.55 550.5,660.90 551.0,661.17 551.5,661.35 552.0,661.52 552.5,661.68 553.0,661.83 553.5,661.97 554.0,662.11 554.5,662.24 555.0,662.37 555.5,662.49 556.0,662.60 556.5,662.71 557.0,662.82 557.5,662.91 558.0,663.01 558.5,663.10 559.0,663.18 559.5,663.26 560.0,663.34 560.5,663.41 561.0,663.47 561.5,663.54 562.0,663.59 562.5,663.65 563.0,663.70 563.5,663.75 564.0,663.79 564.5,663.84 565.0,663.88 565.5,663.92 566.0,663.96 566.5,664.01 567.0,664.05 567.5,664.08 568.0,664.12 568.5,664.16 569.0,664.20 569.5,664.23 570.0,664.27 570.5,664.31 571.0,664.34 571.5,664.37 572.0,664.41 572.5,664.44 573.0,664.47 573.5,664.50 574.0,664.53 574.5,664.56 575.0,664.59 575.5,664.62 576.0,664.64 576.5,664.67 577.0,664.70 577.5,664.72 578.0,664.75 578.5,664.77 579.0,664.80 579.5,664.82 580.0,664.84 580.5,664.87 581.0,664.89 581.5,664.91 582.0,664.93 582.5,664.95 583.0,664.97 583.5,664.99 584.0,665.00 584.5,665.02 585.0,665.04 585.5,665.06 586.0,665.07 586.5,665.09 587.0,665.10 587.5,665.12 588.0,665.13 588.5,665.14 589.0,665.16 589.5,665.17 590.0,665.18 590.5,665.19 591.0,665.20 591.5,665.21 592.0,665.22 592.5,665.23 593.0,665.25 593.5,665.26 594.0,665.27 594.5,665.28 595.0,665.29 595.5,665.30 596.0,665.30 596.5,665.31 597.0,665.32 597.5,665.33 598.0,665.34 598.5,665.35 599.0,665.36 599.5,665.37 600.0,665.38 600.5,665.39 601.0,665.40 601.5,665.41 602.0,665.42 602.5,665.43 603.0,665.44 603.5,665.45 604.0,665.45 604.5,665.46 605.0,665.47 605.5,665.48 606.0,665.49 606.5,665.50 607.0,665.51 607.5,665.51 608.0,665.52 608.5,665.53 609.0,665.54 609.5,665.55 610.0,665.56 610.5,665.56 611.0,665.57 611.5,665.58 612.0,665.59 612.5,665.59 613.0,665.60 613.5,665.61 614.0,665.62 614.5,665.63 615.0,665.63 615.5,665.64 616.0,665.65 616.5,665.65 617.0,665.66 617.5,665.67 618.0,665.68 618.5,665.68 619.0,665.69 619.5,665.70 620.0,665.70 620.5,665.71 621.0,665.72 621.5,665.72 622.0,665.73 622.5,665.74 623.0,665.74 623.5,665.75 624.0,665.76 624.5,665.76 625.0,665.77 625.5,665.78 626.0,665.78 626.5,665.79 627.0,665.79 627.5,665.80 628.0,665.81 628.5,665.81 629.0,665.82 629.5,665.82 630.0,665.83 630.5,665.83 631.0,665.84 631.5,665.84 632.0,665.85 632.5,665.86 633.0,665.86 633.5,665.87 634.0,665.87 634.5,665.88 635.0,665.88 635.5,665.89 636.0,665.89 636.5,665.90 637.0,665.90 637.5,665.91 638.0,665.91 638.5,665.91 639.0,665.92 639.5,665.92 640.0,665.93 640.5,665.93 641.0,665.94 641.5,665.94 642.0,665.94 642.5,665.95 643.0,665.95 643.5,665.96 644.0,665.96 644.5,665.96 645.0,665.97 645.5,665.97 646.0,665.98 646.5,665.98 647.0,665.98 647.5,665.99 648.0,665.99 648.5,665.99 649.0,666.00 649.5,666.00 650.0,666.00 650.5,666.01 651.0,666.01 651.5,666.01 652.0,666.01 652.5,666.02 653.0,666.02 653.5,666.02 654.0,666.03 654.5,666.03 655.0,666.03 655.5,666.03 656.0,666.04 656.5,666.04 657.0,666.04 657.5,666.04 658.0,666.04 658.5,666.05 659.0,666.05 659.5,666.05 660.0,666.05 660.5,666.05 661.0,666.06 661.5,666.06 662.0,666.06 662.5,666.06 663.0,666.06 663.5,666.06 664.0,666.06 664.5,666.07 665.0,666.07 665.5,666.07 666.0,666.07 666.5,666.07 667.0,666.07 667.5,666.07 668.0,666.07 668.5,666.07 669.0,666.08 669.5,666.08 670.0,666.08 670.5,666.08 671.0,666.08 671.5,666.08 672.0,666.08 672.5,666.08 673.0,666.08 673.5,666.08 674.0,666.09 674.5,666.09 675.0,666.09 675.5,666.09 676.0,666.09 676.5,666.09 677.0,666.09 677.5,666.09 678.0,666.09 678.5,666.09 679.0,666.09 679.5,666.10 680.0,666.10 680.5,666.10 681.0,666.10 681.5,666.10 682.0,666.10 682.5,666.10 683.0,666.10 683.5,666.10 684.0,666.10 684.5,666.10 685.0,666.10 685.5,666.11 686.0,666.11 686.5,666.11 687.0,666.11 687.5,666.11 688.0,666.11 688.5,666.11 689.0,666.11 689.5,666.11 690.0,666.11 690.5,666.11 691.0,666.11 691.5,666.11 692.0,666.11 692.5,666.12 693.0,666.12 693.5,666.12 694.0,666.12 694.5,666.12 695.0,666.12 695.5,666.12 696.0,666.12 696.5,666.12 697.0,666.12 697.5,666.12 698.0,666.12 698.5,666.12 699.0,666.12 699.5,666.12 700.0,666.12 700.5,666.13 701.0,666.13 701.5,666.13 702.0,666.13 702.5,666.13 703.0,666.13 703.5,666.13 704.0,666.13 704.5,666.13 705.0,666.13 705.5,666.13 706.0,666.13 706.5,666.13 707.0,666.13 707.5,666.13 708.0,666.13 708.5,666.13 709.0,666.13 709.5,666.13 710.0,666.13 710.5,666.14 711.0,666.14 711.5,666.14 712.0,666.14 712.5,666.14 713.0,666.14 713.5,666.14 714.0,666.14 714.5,666.14 715.0,666.14 715.5,666.14 716.0,666.14 716.5,666.14 717.0,666.14 717.5,666.14 718.0,666.14 718.5,666.14 719.0,666.14 719.5,666.14 720.0,666.14 720.5,666.14 721.0,666.14 721.5,666.14 722.0,666.14 722.5,666.14 723.0,666.14 723.5,666.14 724.0,666.14 724.5,666.14 725.0,666.14 725.5,666.14 726.0,666.14 726.5,666.14 727.0,666.14 727.5,666.14 728.0,666.14 728.5,666.14 729.0,666.14 729.5,666.14 730.0,666.14 730.5,666.14 731.0,666.14 731.5,666.14 732.0,666.14 732.5,666.14 733.0,666.14 733.5,666.14 734.0,666.14 734.5,666.14 735.0,666.14 735.5,666.14 736.0,666.14 736.5,666.14 737.0,666.14 737.5,666.14 738.0,666.14 738.5,666.14 739.0,666.14 739.5,666.14 740.0,666.14 740.5,666.14 741.0,666.14 741.5,666.14 742.0,666.14 742.5,666.14 743.0,666.14 743.5,666.14 744.0,666.14 744.5,666.14 745.0,666.14 745.5,666.14 746.0,666.14 746.5,666.14 747.0,666.14 747.5,666.14 748.0,666.14 748.5,666.14 749.0,666.14 749.5,666.14 750.0,666.14 750.5,666.14 751.0,666.14 751.5,666.14 752.0,666.14 752.5,666.14 753.0,666.14 753.5,666.14 754.0,666.14 754.5,666.14 755.0,666.14 755.5,666.14 756.0,666.14 756.5,666.14 757.0,666.14 757.5,666.14 758.0,666.14 758.5,666.14 759.0,666.14 759.5,666.14 760.0,666.14 760.5,666.14 761.0,666.14 761.5,666.14 762.0,666.06 762.5,665.84 763.0,665.49 763.5,665.04 764.0,664.51 764.5,663.91 765.0,663.27 765.5,662.61 766.0,661.95 766.5,661.30 767.0,660.70 767.5,660.15 768.0,659.68 768.5,659.25 769.0,658.86 769.5,658.50 770.0,658.14 770.5,657.79 771.0,657.43 771.5,657.06 772.0,656.66 772.5,656.23 773.0,655.75 773.5,655.22 774.0,654.63 774.5,653.91 775.0,652.96 775.5,651.83 776.0,650.54 776.5,649.14 777.0,647.65 777.5,646.11 778.0,644.57 778.5,643.05 779.0,641.59 779.5,640.23 780.0,639.01 780.5,637.94 781.0,636.84 781.5,635.71 782.0,634.55 782.5,633.40 783.0,632.29 783.5,631.23 784.0,630.26 784.5,629.40 785.0,628.68 785.5,628.12 786.0,627.74 786.5,627.58 787.0,627.60 787.5,627.70 788.0,627.87 788.5,628.10 789.0,628.39 789.5,628.74 790.0,629.13 790.5,629.57 791.0,630.04 791.5,630.55 792.0,631.08 792.5,631.62 793.0,632.19 793.5,632.96 794.0,633.97 794.5,635.20 795.0,636.60 795.5,638.12 796.0,639.72 796.5,641.36 797.0,643.00 797.5,644.59 798.0,646.09 798.5,647.46 799.0,648.65 799.5,649.67 800.0,650.65 800.5,651.61 801.0,652.55 801.5,653.46 802.0,654.33 802.5,655.16 803.0,655.95 803.5,656.68 804.0,657.36 804.5,657.98 805.0,658.54 805.5,659.02 806.0,659.48 806.5,659.93 807.0,660.37 807.5,660.80 808.0,661.21 808.5,661.60 809.0,661.97 809.5,662.31 810.0,662.63 810.5,662.91 811.0,663.16 811.5,663.38 812.0,663.56 812.5,663.69 813.0,663.79 813.5,663.85 814.0,663.90 814.5,663.95 815.0,664.00 815.5,664.03 816.0,664.07 816.5,664.10 817.0,664.13 817.5,664.15 818.0,664.18 818.5,664.21 819.0,664.24 819.5,664.28 820.0,664.31 820.5,664.36 821.0,664.41 821.5,664.47 822.0,664.53 822.5,664.60 823.0,664.67 823.5,664.75 824.0,664.83 824.5,664.91 825.0,664.99 825.5,665.07 826.0,665.15 826.5,665.22 827.0,665.29 827.5,665.36 828.0,665.42 828.5,665.47 829.0,665.51 829.5,665.54 830.0,665.56 830.5,665.57 831.0,665.56 831.5,665.54 832.0,665.49 832.5,665.43 833.0,665.35 833.5,665.25 834.0,665.14 834.5,665.01 835.0,664.87 835.5,664.72 836.0,664.56 836.5,664.39 837.0,664.21 837.5,664.02 838.0,663.83 838.5,663.60 839.0,663.29 839.5,662.91 840.0,662.45 840.5,661.94 841.0,661.36 841.5,660.74 842.0,660.07 842.5,659.36 843.0,658.62 843.5,657.85 844.0,657.07 844.5,656.27 845.0,655.46 845.5,654.66 846.0,653.82 846.5,652.88 847.0,651.85 847.5,650.76 848.0,649.62 848.5,648.45 849.0,647.28 849.5,646.12 850.0,644.99 850.5,643.92 851.0,642.85 851.5,641.68 852.0,640.46 852.5,639.23 853.0,638.05 853.5,636.97 854.0,636.03 854.5,635.30 855.0,634.82 855.5,634.59 856.0,634.40 856.5,634.23 857.0,634.09 857.5,633.98 858.0,633.90 858.5,633.86 859.0,633.91 859.5,634.21 860.0,634.74 860.5,635.43 861.0,636.23 861.5,637.09 862.0,637.96 862.5,638.78 863.0,639.49 863.5,640.06 864.0,640.41 864.5,640.50 865.0,640.46 865.5,640.36 866.0,640.22 866.5,640.03 867.0,639.82 867.5,639.58 868.0,639.33 868.5,639.07 869.0,638.80 869.5,638.55 870.0,638.30 870.5,638.08 871.0,637.88 871.5,637.66 872.0,637.42 872.5,637.17 873.0,636.92 873.5,636.66 874.0,636.41 874.5,636.16 875.0,635.93 875.5,635.72 876.0,635.52 876.5,635.36 877.0,635.23 877.5,635.13 878.0,635.08 878.5,635.08 879.0,635.12 879.5,635.20 880.0,635.32 880.5,635.47 881.0,635.66 881.5,635.87 882.0,636.10 882.5,636.35 883.0,636.61 883.5,636.88 884.0,637.15 884.5,637.43 885.0,637.74 885.5,638.14 886.0,638.59 886.5,639.09 887.0,639.63 887.5,640.20 888.0,640.78 888.5,641.36 889.0,641.93 889.5,642.48 890.0,642.99 890.5,643.46 891.0,643.87 891.5,644.27 892.0,644.65 892.5,645.02 893.0,645.38 893.5,645.73 894.0,646.08 894.5,646.41 895.0,646.74 895.5,647.06 896.0,647.37 896.5,647.67 897.0,647.97 897.5,648.26 898.0,648.55 898.5,648.83 899.0,649.11 899.5,649.40 900.0,649.69 900.5,649.97 901.0,650.26 901.5,650.53 902.0,650.80 902.5,651.06 903.0,651.31 903.5,651.54 904.0,651.75 904.5,651.94 905.0,652.11 905.5,652.26 906.0,652.38 906.5,652.49 907.0,652.60 907.5,652.70 908.0,652.80 908.5,652.90 909.0,652.99 909.5,653.07 910.0,653.15 910.5,653.22 911.0,653.28 911.5,653.34 912.0,653.38 912.5,653.41 913.0,653.42 913.5,653.43 914.0,653.42 914.5,653.40 915.0,653.37 915.5,653.34 916.0,653.29 916.5,653.23 917.0,653.17 917.5,653.10 918.0,653.02 918.5,652.94 919.0,652.85 919.5,652.75 920.0,652.65 920.5,652.54 921.0,652.43 921.5,652.32 922.0,652.20 922.5,652.08 923.0,651.96 923.5,651.84 924.0,651.71 924.5,651.59 925.0,651.46 925.5,651.34 926.0,651.21 926.5,651.09 927.0,650.94 927.5,650.79 928.0,650.63 928.5,650.46 929.0,650.28 929.5,650.09 930.0,649.90 930.5,649.70 931.0,649.49 931.5,649.28 932.0,649.07 932.5,648.85 933.0,648.63 933.5,648.40 934.0,648.18 934.5,647.95 935.0,647.73 935.5,647.51 936.0,647.29 936.5,647.06 937.0,646.84 937.5,646.60 938.0,646.37 938.5,646.12 939.0,645.88 939.5,645.63 940.0,645.38 940.5,645.13 941.0,644.87 941.5,644.61 942.0,644.36 942.5,644.10 943.0,643.84 943.5,643.58 944.0,643.32 944.5,643.06 945.0,642.80 945.5,642.54 946.0,642.29 946.5,642.04 947.0,641.80 947.5,641.57 948.0,641.34 948.5,641.12 949.0,640.89 949.5,640.66 950.0,640.43 950.5,640.19 951.0,639.94 951.5,639.67 952.0,639.39 952.5,639.09 953.0,638.77 953.5,638.43 954.0,638.04 954.5,637.57 955.0,637.04 955.5,636.44 956.0,635.80 956.5,635.13 957.0,634.44 957.5,633.73 958.0,633.02 958.5,632.33 959.0,631.66 959.5,631.02 960.0,630.43 960.5,629.90 961.0,629.44 961.5,629.03 962.0,628.60 962.5,628.17 963.0,627.75 963.5,627.33 964.0,626.94 964.5,626.57 965.0,626.24 965.5,625.96 966.0,625.73 966.5,625.56 967.0,625.45 967.5,625.43 968.0,625.45 968.5,625.51 969.0,625.59 969.5,625.70 970.0,625.83 970.5,625.98 971.0,626.14 971.5,626.31 972.0,626.50 972.5,626.68 973.0,626.92 973.5,627.24 974.0,627.62 974.5,628.05 975.0,628.52 975.5,629.01 976.0,629.53 976.5,630.04 977.0,630.55 977.5,631.04 978.0,631.50 978.5,631.92 979.0,632.30 979.5,632.68 980.0,633.08 980.5,633.47 981.0,633.87 981.5,634.26 982.0,634.64 982.5,635.02 983.0,635.37 983.5,635.70 984.0,636.00 984.5,636.28 985.0,636.52 985.5,636.72 986.0,636.88 986.5,637.00 987.0,637.11 987.5,637.22 988.0,637.32 988.5,637.42 989.0,637.52 989.5,637.60 990.0,637.68 990.5,637.76 991.0,637.82 991.5,637.88 992.0,637.92 992.5,637.96 993.0,637.98 993.5,638.00 994.0,638.00 994.5,637.97 995.0,637.92 995.5,637.84 996.0,637.73 996.5,637.61 997.0,637.46 997.5,637.29 998.0,637.11 998.5,636.92 999.0,636.71 999.5,636.49 1000.0,636.26 1000.5,636.03 1001.0,635.79 1001.5,635.54 1002.0,635.25 1002.5,634.91 1003.0,634.53 1003.5,634.10 1004.0,633.63 1004.5,633.12 1005.0,632.58 1005.5,632.01 1006.0,631.41 1006.5,630.79 1007.0,630.15 1007.5,629.49 1008.0,628.79 1008.5,628.01 1009.0,627.15 1009.5,626.23 1010.0,625.25 1010.5,624.21 1011.0,623.14 1011.5,622.03 1012.0,620.90 1012.5,619.76 1013.0,618.61 1013.5,617.47 1014.0,616.33 1014.5,615.12 1015.0,613.86 1015.5,612.54 1016.0,611.19 1016.5,609.82 1017.0,608.44 1017.5,607.07 1018.0,605.72 1018.5,604.41 1019.0,603.16 1019.5,601.96 1020.0,600.85 1020.5,599.80 1021.0,598.72 1021.5,597.65 1022.0,596.60 1022.5,595.58 1023.0,594.63 1023.5,593.75 1024.0,592.98 1024.5,592.32 1025.0,591.80 1025.5,591.40 1026.0,591.04 1026.5,590.71 1027.0,590.42 1027.5,590.15 1028.0,589.90 1028.5,589.68 1029.0,589.47 1029.5,589.27 1030.0,589.08 1030.5,588.89 1031.0,588.73 1031.5,588.59 1032.0,588.47 1032.5,588.36 1033.0,588.25 1033.5,588.14 1034.0,588.02 1034.5,587.90 1035.0,587.75 1035.5,587.59 1036.0,587.39 1036.5,587.16 1037.0,586.87 1037.5,586.49 1038.0,586.03 1038.5,585.49 1039.0,584.89 1039.5,584.21 1040.0,583.48 1040.5,582.68 1041.0,581.83 1041.5,580.93 1042.0,579.89 1042.5,578.65 1043.0,577.20 1043.5,575.56 1044.0,573.73 1044.5,571.73 1045.0,569.57 1045.5,567.25 1046.0,564.79 1046.5,561.85 1047.0,558.24 1047.5,554.12 1048.0,549.67 1048.5,545.08 1049.0,540.51 1049.5,536.14 1050.0,531.78 1050.5,527.25 1051.0,522.74 1051.5,518.45 1052.0,514.57 1052.5,510.59 1053.0,506.52 1053.5,503.35 1054.0,502.07 1054.5,502.81 1055.0,504.80 1055.5,507.66 1056.0,511.04 1056.5,514.57 1057.0,518.85 1057.5,524.43 1058.0,530.84 1058.5,537.62 1059.0,544.30 1059.5,550.43 1060.0,556.17 1060.5,561.95 1061.0,567.67 1061.5,573.24 1062.0,578.55 1062.5,583.51 1063.0,588.07 1063.5,592.47 1064.0,596.73 1064.5,600.82 1065.0,604.68 1065.5,608.28 1066.0,611.55 1066.5,614.47 1067.0,617.06 1067.5,619.51 1068.0,621.83 1068.5,624.00 1069.0,626.03 1069.5,627.91 1070.0,629.64 1070.5,631.23 1071.0,632.66 1071.5,633.98 1072.0,635.27 1072.5,636.52 1073.0,637.70 1073.5,638.81 1074.0,639.82 1074.5,640.74 1075.0,641.53 1075.5,642.19 1076.0,642.70 1076.5,643.10 1077.0,643.48 1077.5,643.84 1078.0,644.18 1078.5,644.49 1079.0,644.77 1079.5,645.01 1080.0,645.21 1080.5,645.36 1081.0,645.46 1081.5,645.50 1082.0,645.47 1082.5,645.36 1083.0,645.16 1083.5,644.90 1084.0,644.56 1084.5,644.15 1085.0,643.69 1085.5,643.18 1086.0,642.62 1086.5,642.01 1087.0,641.37 1087.5,640.70 1088.0,639.99 1088.5,639.05 1089.0,637.79 1089.5,636.27 1090.0,634.52 1090.5,632.59 1091.0,630.53 1091.5,628.37 1092.0,626.17 1092.5,623.96 1093.0,621.78 1093.5,619.44 1094.0,616.89 1094.5,614.17 1095.0,611.33 1095.5,608.43 1096.0,605.52 1096.5,602.66 1097.0,599.88 1097.5,597.25 1098.0,594.81 1098.5,592.41 1099.0,589.97 1099.5,587.54 1100.0,585.16 1100.5,582.85 1101.0,580.67 1101.5,578.63 1102.0,576.78 1102.5,575.15 1103.0,573.79 1103.5,572.55 1104.0,571.32 1104.5,570.12 1105.0,568.98 1105.5,567.93 1106.0,567.01 1106.5,566.24 1107.0,565.65 1107.5,565.27 1108.0,565.14 1108.5,565.26 1109.0,565.59 1109.5,566.10 1110.0,566.75 1110.5,567.53 1111.0,568.38 1111.5,569.29 1112.0,570.22 1112.5,571.13 1113.0,572.00 1113.5,572.93 1114.0,574.03 1114.5,575.24 1115.0,576.51 1115.5,577.80 1116.0,579.05 1116.5,580.22 1117.0,581.25 1117.5,582.10 1118.0,582.71 1118.5,583.19 1119.0,583.65 1119.5,584.09 1120.0,584.48 1120.5,584.82 1121.0,585.10 1121.5,585.30 1122.0,585.41 1122.5,585.41 1123.0,585.17 1123.5,584.71 1124.0,584.05 1124.5,583.23 1125.0,582.27 1125.5,581.23 1126.0,580.11 1126.5,578.97 1127.0,577.81 1127.5,576.41 1128.0,574.75 1128.5,572.88 1129.0,570.82 1129.5,568.62 1130.0,566.31 1130.5,563.92 1131.0,561.50 1131.5,559.08 1132.0,556.68 1132.5,554.20 1133.0,551.62 1133.5,548.94 1134.0,546.18 1134.5,543.35 1135.0,540.46 1135.5,537.52 1136.0,534.53 1136.5,531.52 1137.0,528.48 1137.5,525.44 1138.0,522.39 1138.5,519.30 1139.0,516.05 1139.5,512.68 1140.0,509.22 1140.5,505.73 1141.0,502.25 1141.5,498.80 1142.0,495.43 1142.5,492.18 1143.0,489.09 1143.5,486.21 1144.0,483.55 1144.5,480.83 1145.0,477.97 1145.5,475.09 1146.0,472.29 1146.5,469.70 1147.0,467.42 1147.5,465.56 1148.0,464.24 1148.5,463.56 1149.0,463.61 1149.5,464.22 1150.0,465.32 1150.5,466.83 1151.0,468.66 1151.5,470.75 1152.0,473.01 1152.5,475.38 1153.0,477.77 1153.5,480.24 1154.0,483.22 1154.5,486.70 1155.0,490.56 1155.5,494.71 1156.0,499.06 1156.5,503.52 1157.0,507.98 1157.5,512.35 1158.0,516.54 1158.5,520.53 1159.0,524.60 1159.5,528.74 1160.0,532.91 1160.5,537.07 1161.0,541.18 1161.5,545.20 1162.0,549.09 1162.5,552.81 1163.0,556.31 1163.5,559.62 1164.0,562.94 1164.5,566.26 1165.0,569.55 1165.5,572.76 1166.0,575.86 1166.5,578.80 1167.0,581.56 1167.5,584.08 1168.0,586.35 1168.5,588.31 1169.0,589.93 1169.5,591.37 1170.0,592.79 1170.5,594.16 1171.0,595.48 1171.5,596.69 1172.0,597.80 1172.5,598.75 1173.0,599.54 1173.5,600.14 1174.0,600.51 1174.5,600.64 1175.0,600.60 1175.5,600.49 1176.0,600.32 1176.5,600.09 1177.0,599.82 1177.5,599.50 1178.0,599.15 1178.5,598.78 1179.0,598.39 1179.5,598.00 1180.0,597.50 1180.5,596.82 1181.0,596.00 1181.5,595.06 1182.0,594.04 1182.5,592.97 1183.0,591.90 1183.5,590.84 1184.0,589.84 1184.5,588.93 1185.0,588.14 1185.5,587.51 1186.0,587.04 1186.5,586.62 1187.0,586.21 1187.5,585.81 1188.0,585.44 1188.5,585.09 1189.0,584.79 1189.5,584.53 1190.0,584.32 1190.5,584.17 1191.0,584.09 1191.5,584.08 1192.0,584.19 1192.5,584.42 1193.0,584.74 1193.5,585.16 1194.0,585.65 1194.5,586.20 1195.0,586.81 1195.5,587.47 1196.0,588.15 1196.5,588.89 1197.0,589.94 1197.5,591.32 1198.0,592.94 1198.5,594.75 1199.0,596.65 1199.5,598.59 1200.0,600.49 1200.5,602.28 1201.0,603.87 1201.5,605.24 1202.0,606.51 1202.5,607.76 1203.0,608.97 1203.5,610.14 1204.0,611.29 1204.5,612.41 1205.0,613.50 1205.5,614.57 1206.0,615.62 1206.5,616.64 1207.0,617.65 1207.5,618.64 1208.0,619.61 1208.5,620.57 1209.0,621.52 1209.5,622.46 1210.0,623.39 1210.5,624.31 1211.0,625.23 1211.5,626.14 1212.0,627.04 1212.5,627.93 1213.0,628.81 1213.5,629.68 1214.0,630.53 1214.5,631.37 1215.0,632.19 1215.5,633.00 1216.0,633.78 1216.5,634.55 1217.0,635.30 1217.5,636.02 1218.0,636.73 1218.5,637.40 1219.0,638.06 1219.5,638.70 1220.0,639.35 1220.5,639.98 1221.0,640.61 1221.5,641.23 1222.0,641.83 1222.5,642.42 1223.0,642.98 1223.5,643.52 1224.0,644.03 1224.5,644.51 1225.0,644.96 1225.5,645.37 1226.0,645.74 1226.5,646.06 1227.0,646.37 1227.5,646.66 1228.0,646.94 1228.5,647.22 1229.0,647.48 1229.5,647.73 1230.0,647.97 1230.5,648.20 1231.0,648.43 1231.5,648.65 1232.0,648.85 1232.5,649.05 1233.0,649.25 1233.5,649.44 1234.0,649.62 1234.5,649.79 1235.0,649.96 1235.5,650.12 1236.0,650.28 1236.5,650.43 1237.0,650.58 1237.5,650.73 1238.0,650.87 1238.5,651.01 1239.0,651.16 1239.5,651.30 1240.0,651.44 1240.5,651.58 1241.0,651.72 1241.5,651.86 1242.0,652.00 1242.5,652.13 1243.0,652.27 1243.5,652.40 1244.0,652.53 1244.5,652.65 1245.0,652.78 1245.5,652.90 1246.0,653.02 1246.5,653.14 1247.0,653.25 1247.5,653.36 1248.0,653.46 1248.5,653.56 1249.0,653.66 1249.5,653.75 1250.0,653.84 1250.5,653.92 1251.0,654.00 1251.5,654.07 1252.0,654.14 1252.5,654.20 1253.0,654.25 1253.5,654.30 1254.0,654.35 1254.5,654.38 1255.0,654.41 1255.5,654.44 1256.0,654.46 1256.5,654.48 1257.0,654.50 1257.5,654.52 1258.0,654.53 1258.5,654.55 1259.0,654.56 1259.5,654.58 1260.0,654.59 1260.5,654.60 1261.0,654.62 1261.5,654.63 1262.0,654.64 1262.5,654.65 1263.0,654.66 1263.5,654.67 1264.0,654.67 1264.5,654.68 1265.0,654.69 1265.5,654.70 1266.0,654.71 1266.5,654.72 1267.0,654.73 1267.5,654.73 1268.0,654.74 1268.5,654.75 1269.0,654.76 1269.5,654.77 1270.0,654.78 1270.5,654.79 1271.0,654.80 1271.5,654.81 1272.0,654.82 1272.5,654.84 1273.0,654.85 1273.5,654.86 1274.0,654.88 1274.5,654.90 1275.0,654.91 1275.5,654.93 1276.0,654.95 1276.5,654.98 1277.0,655.00 1277.5,655.03 1278.0,655.07 1278.5,655.10 1279.0,655.14 1279.5,655.18 1280.0,655.22 1280.5,655.26 1281.0,655.30 1281.5,655.35 1282.0,655.39 1282.5,655.44 1283.0,655.48 1283.5,655.53 1284.0,655.58 1284.5,655.62 1285.0,655.67 1285.5,655.72 1286.0,655.76 1286.5,655.81 1287.0,655.85 1287.5,655.89 1288.0,655.93 1288.5,655.97 1289.0,656.01 1289.5,656.04 1290.0,656.08 1290.5,656.11 1291.0,656.13 1291.5,656.16 1292.0,656.18 1292.5,656.20 1293.0,656.21 1293.5,656.23 1294.0,656.24 1294.5,656.25 1295.0,656.27 1295.5,656.28 1296.0,656.29 1296.5,656.30 1297.0,656.32 1297.5,656.33 1298.0,656.34 1298.5,656.35 1299.0,656.36 1299.5,656.37 1300.0,656.38 1300.5,656.40 1301.0,656.41 1301.5,656.42 1302.0,656.43 1302.5,656.44 1303.0,656.45 1303.5,656.45 1304.0,656.46 1304.5,656.47 1305.0,656.48 1305.5,656.49 1306.0,656.50 1306.5,656.50 1307.0,656.51 1307.5,656.52 1308.0,656.52 1308.5,656.53 1309.0,656.53 1309.5,656.54 1310.0,656.54 1310.5,656.55 1311.0,656.55 1311.5,656.56 1312.0,656.56 1312.5,656.56 1313.0,656.57 1313.5,656.57 1314.0,656.57 1314.5,656.57 1315.0,656.57 1315.5,656.57 1316.0,656.57 1316.5,656.57 1317.0,656.57 1317.5,656.57 1318.0,656.57 1318.5,656.57 1319.0,656.57 1319.5,656.57 1320.0,656.57 1320.5,656.57 1321.0,656.57 1321.5,656.57 1322.0,656.57 1322.5,656.56 1323.0,656.56 1323.5,656.56 1324.0,656.56 1324.5,656.56 1325.0,656.56 1325.5,656.55 1326.0,656.55 1326.5,656.55 1327.0,656.55 1327.5,656.54 1328.0,656.54 1328.5,656.54 1329.0,656.54 1329.5,656.53 1330.0,656.53 1330.5,656.53 1331.0,656.52 1331.5,656.52 1332.0,656.51 1332.5,656.51 1333.0,656.51 1333.5,656.50 1334.0,656.50 1334.5,656.49 1335.0,656.49 1335.5,656.48 1336.0,656.47 1336.5,656.47 1337.0,656.46 1337.5,656.45 1338.0,656.45 1338.5,656.44 1339.0,656.43 1339.5,656.43 1340.0,656.42 1340.5,656.41 1341.0,656.40 1341.5,656.39 1342.0,656.38 1342.5,656.37 1343.0,656.37 1343.5,656.36 1344.0,656.35 1344.5,656.34 1345.0,656.32 1345.5,656.31 1346.0,656.30 1346.5,656.29 1347.0,656.28 1347.5,656.27 1348.0,656.25 1348.5,656.24 1349.0,656.23 1349.5,656.21 1350.0,656.12 1350.5,655.89 1351.0,655.53 1351.5,655.07 1352.0,654.53 1352.5,653.93 1353.0,653.29 1353.5,652.63 1354.0,651.98 1354.5,651.36 1355.0,650.67 1355.5,649.84 1356.0,648.91 1356.5,647.94 1357.0,646.95 1357.5,645.98 1358.0,645.10 1358.5,644.32 1359.0,643.70 1359.5,643.29 1360.0,642.99 1360.5,642.70 1361.0,642.43 1361.5,642.17 1362.0,641.94 1362.5,641.73 1363.0,641.55 1363.5,641.40 1364.0,641.28 1364.5,641.20 1365.0,641.15 1365.5,641.15 1366.0,641.22 1366.5,641.36 1367.0,641.55 1367.5,641.81 1368.0,642.10 1368.5,642.43 1369.0,642.80 1369.5,643.18 1370.0,643.57 1370.5,643.98 1371.0,644.38 1371.5,644.90 1372.0,645.53 1372.5,646.24 1373.0,647.02 1373.5,647.85 1374.0,648.70 1374.5,649.55 1375.0,650.39 1375.5,651.17 1376.0,651.89 1376.5,652.53 1377.0,653.05 1377.5,653.49 1378.0,653.90 1378.5,654.29 1379.0,654.67 1379.5,655.03 1380.0,655.38 1380.5,655.71 1381.0,656.03 1381.5,656.34 1382.0,656.63 1382.5,656.91 1383.0,657.17 1383.5,657.43 1384.0,657.67 1384.5,657.90 1385.0,658.12 1385.5,658.34 1386.0,658.54 1386.5,658.74 1387.0,658.94 1387.5,659.14 1388.0,659.34 1388.5,659.54 1389.0,659.74 1389.5,659.93 1390.0,660.12 1390.5,660.30 1391.0,660.48 1391.5,660.66 1392.0,660.82 1392.5,660.99 1393.0,661.14 1393.5,661.28 1394.0,661.42 1394.5,661.55 1395.0,661.66 1395.5,661.77 1396.0,661.86 1396.5,661.95 1397.0,662.02 1397.5,662.08 1398.0,662.12 1398.5,662.15 1399.0,662.17 1399.5,662.20 1400.0,662.22 1400.5,662.24 1401.0,662.26 1401.5,662.28 1402.0,662.30 1402.5,662.32 1403.0,662.34 1403.5,662.36 1404.0,662.38 1404.5,662.40 1405.0,662.42 1405.5,662.43 1406.0,662.45 1406.5,662.46 1407.0,662.48 1407.5,662.49 1408.0,662.50 1408.5,662.52 1409.0,662.53 1409.5,662.54 1410.0,662.55 1410.5,662.56 1411.0,662.57 1411.5,662.58 1412.0,662.59 1412.5,662.60 1413.0,662.60 1413.5,662.61 1414.0,662.62 1414.5,662.62 1415.0,662.63 1415.5,662.63 1416.0,662.63 1416.5,662.64 1417.0,662.64 1417.5,662.64 1418.0,662.64 1418.5,662.64 1419.0,662.64 1419.5,662.63 1420.0,662.62 1420.5,662.61 1421.0,662.59 1421.5,662.57 1422.0,662.55 1422.5,662.52 1423.0,662.49 1423.5,662.45 1424.0,662.41 1424.5,662.37 1425.0,662.33 1425.5,662.28 1426.0,662.23 1426.5,662.18 1427.0,662.13 1427.5,662.07 1428.0,662.01 1428.5,661.95 1429.0,661.88 1429.5,661.82 1430.0,661.75 1430.5,661.68 1431.0,661.61 1431.5,661.53 1432.0,661.46 1432.5,661.38 1433.0,661.30 1433.5,661.22 1434.0,661.14 1434.5,661.06 1435.0,660.98 1435.5,660.89 1436.0,660.81 1436.5,660.72 1437.0,660.64 1437.5,660.55 1438.0,660.46 1438.5,660.37 1439.0,660.28 1439.5,660.19 1440.0,660.08 1440.5,659.97 1441.0,659.85 1441.5,659.73 1442.0,659.59 1442.5,659.45 1443.0,659.31 1443.5,659.16 1444.0,659.00 1444.5,658.84 1445.0,658.67 1445.5,658.50 1446.0,658.32 1446.5,658.14 1447.0,657.95 1447.5,657.76 1448.0,657.56 1448.5,657.36 1449.0,657.16 1449.5,656.95 1450.0,656.74 1450.5,656.52 1451.0,656.30 1451.5,656.08 1452.0,655.85 1452.5,655.60 1453.0,655.34 1453.5,655.07 1454.0,654.79 1454.5,654.51 1455.0,654.21 1455.5,653.90 1456.0,653.58 1456.5,653.25 1457.0,652.92 1457.5,652.58 1458.0,652.23 1458.5,651.87 1459.0,651.50 1459.5,651.13 1460.0,650.75 1460.5,650.37 1461.0,649.98 1461.5,649.58 1462.0,649.18 1462.5,648.77 1463.0,648.37 1463.5,647.95 1464.0,647.53 1464.5,647.06 1465.0,646.55 1465.5,646.01 1466.0,645.44 1466.5,644.84 1467.0,644.23 1467.5,643.60 1468.0,642.97 1468.5,642.34 1469.0,641.71 1469.5,641.09 1470.0,640.49 1470.5,639.91 1471.0,639.35 1471.5,638.83 1472.0,638.34 1472.5,637.90 1473.0,637.51 1473.5,637.17 1474.0,636.89 1474.5,636.62 1475.0,636.35 1475.5,636.08 1476.0,635.83 1476.5,635.58 1477.0,635.36 1477.5,635.16 1478.0,634.98 1478.5,634.84 1479.0,634.73 1479.5,634.67 1480.0,634.64 1480.5,634.67 1481.0,634.76 1481.5,634.89 1482.0,635.07 1482.5,635.29 1483.0,635.55 1483.5,635.84 1484.0,636.16 1484.5,636.49 1485.0,636.85 1485.5,637.22 1486.0,637.59 1486.5,637.97 1487.0,638.34 1487.5,638.71 1488.0,639.09 1488.5,639.52 1489.0,639.98 1489.5,640.49 1490.0,641.02 1490.5,641.58 1491.0,642.16 1491.5,642.75 1492.0,643.35 1492.5,643.95 1493.0,644.54 1493.5,645.13 1494.0,645.69 1494.5,646.24 1495.0,646.76 1495.5,647.27 1496.0,647.83 1496.5,648.42 1497.0,649.03 1497.5,649.65 1498.0,650.24 1498.5,650.81 1499.0,651.32 1499.5,651.78 1500.0,652.15 1500.5,652.43 1501.0,652.60 1501.5,652.64 1502.0,652.63 1502.5,652.59 1503.0,652.53 1503.5,652.45 1504.0,652.35 1504.5,652.25 1505.0,652.12 1505.5,651.99 1506.0,651.86 1506.5,651.71 1507.0,651.57 1507.5,651.42 1508.0,651.26 1508.5,651.07 1509.0,650.86 1509.5,650.61 1510.0,650.33 1510.5,650.04 1511.0,649.72 1511.5,649.39 1512.0,649.04 1512.5,648.68 1513.0,648.32 1513.5,647.95 1514.0,647.58 1514.5,647.21 1515.0,646.84 1515.5,646.48 1516.0,646.14 1516.5,645.80 1517.0,645.48 1517.5,645.18 1518.0,644.90 1518.5,644.62 1519.0,644.34 1519.5,644.06 1520.0,643.78 1520.5,643.51 1521.0,643.23 1521.5,642.96 1522.0,642.69 1522.5,642.42 1523.0,642.16 1523.5,641.91 1524.0,641.66 1524.5,641.42 1525.0,641.18 1525.5,640.95 1526.0,640.74 1526.5,640.53 1527.0,640.33 1527.5,640.14 1528.0,639.96 1528.5,639.78 1529.0,639.60 1529.5,639.41 1530.0,639.22 1530.5,639.04 1531.0,638.85 1531.5,638.67 1532.0,638.49 1532.5,638.32 1533.0,638.15 1533.5,637.99 1534.0,637.83 1534.5,637.69 1535.0,637.56 1535.5,637.44 1536.0,637.33 1536.5,637.23 1537.0,637.15 1537.5,637.09 1538.0,637.04 1538.5,637.01 1539.0,637.00 1539.5,637.00 1540.0,637.01 1540.5,637.03 1541.0,637.05 1541.5,637.07 1542.0,637.10 1542.5,637.13 1543.0,637.17 1543.5,637.21 1544.0,637.26 1544.5,637.31 1545.0,637.37 1545.5,637.43 1546.0,637.49 1546.5,637.55 1547.0,637.62 1547.5,637.69 1548.0,637.76 1548.5,637.84 1549.0,637.91 1549.5,638.01 1550.0,638.15 1550.5,638.33 1551.0,638.54 1551.5,638.78 1552.0,639.04 1552.5,639.31 1553.0,639.58 1553.5,639.86 1554.0,640.13 1554.5,640.38 1555.0,640.62 1555.5,640.82 1556.0,640.99 1556.5,641.12 1557.0,641.22 1557.5,641.32 1558.0,641.41 1558.5,641.50 1559.0,641.59 1559.5,641.67 1560.0,641.76 1560.5,641.83 1561.0,641.91 1561.5,641.98 1562.0,642.04 1562.5,642.10 1563.0,642.16 1563.5,642.21 1564.0,642.25 1564.5,642.29 1565.0,642.32 1565.5,642.34 1566.0,642.35 1566.5,642.36 1567.0,642.36 1567.5,642.35 1568.0,642.34 1568.5,642.33 1569.0,642.31 1569.5,642.29 1570.0,642.27 1570.5,642.24 1571.0,642.22 1571.5,642.19 1572.0,642.16 1572.5,642.13 1573.0,642.10 1573.5,642.07 1574.0,642.04 1574.5,642.01 1575.0,641.99 1575.5,641.96 1576.0,641.94 1576.5,641.92 1577.0,641.90 1577.5,641.88 1578.0,641.87 1578.5,641.86 1579.0,641.86 1579.5,641.87 1580.0,641.92 1580.5,642.02 1581.0,642.16 1581.5,642.34 1582.0,642.55 1582.5,642.79 1583.0,643.05 1583.5,643.34 1584.0,643.64 1584.5,643.96 1585.0,644.29 1585.5,644.62 1586.0,644.95 1586.5,645.28 1587.0,645.61 1587.5,645.92 1588.0,646.22 1588.5,646.50 1589.0,646.76 1589.5,647.00 1590.0,647.25 1590.5,647.51 1591.0,647.79 1591.5,648.06 1592.0,648.34 1592.5,648.63 1593.0,648.91 1593.5,649.19 1594.0,649.46 1594.5,649.73 1595.0,649.98 1595.5,650.22 1596.0,650.44 1596.5,650.65 1597.0,650.84 1597.5,651.00 1598.0,651.14 1598.5,651.25 1599.0,651.33 1599.5,651.37 1600.0,651.41 1600.5,651.45 1601.0,651.48 1601.5,651.50 1602.0,651.53 1602.5,651.55 1603.0,651.57 1603.5,651.58 1604.0,651.60 1604.5,651.61 1605.0,651.63 1605.5,651.64 1606.0,651.65 1606.5,651.66 1607.0,651.68 1607.5,651.69 1608.0,651.71 1608.5,651.73 1609.0,651.75 1609.5,651.77 1610.0,651.80 1610.5,651.83 1611.0,651.86 1611.5,651.90 1612.0,651.95 1612.5,652.04 1613.0,652.16 1613.5,652.33 1614.0,652.52 1614.5,652.74 1615.0,652.98 1615.5,653.22 1616.0,653.48 1616.5,653.73 1617.0,653.98 1617.5,654.22 1618.0,654.45 1618.5,654.65 1619.0,654.82 1619.5,654.95 1620.0,655.08 1620.5,655.20 1621.0,655.32 1621.5,655.44 1622.0,655.56 1622.5,655.67 1623.0,655.78 1623.5,655.88 1624.0,655.99 1624.5,656.08 1625.0,656.18 1625.5,656.26 1626.0,656.34 1626.5,656.42 1627.0,656.49 1627.5,656.55 1628.0,656.60 1628.5,656.65 1629.0,656.69" fill="none" stroke="#2408e6" stroke-width="2.9" stroke-linejoin="round" stroke-linecap="butt"/>
<path transform="scale(1 1.4)" d="M247.5,810.64 248.0,810.64 248.5,810.64 249.0,810.64 249.5,810.63 250.0,810.63 250.5,810.63 251.0,810.63 251.5,810.63 252.0,810.62 252.5,810.62 253.0,810.62 253.5,810.62 254.0,810.62 254.5,810.61 255.0,810.61 255.5,810.61 256.0,810.61 256.5,810.60 257.0,810.60 257.5,810.60 258.0,810.60 258.5,810.60 259.0,810.59 259.5,810.59 260.0,810.59 260.5,810.59 261.0,810.58 261.5,810.58 262.0,810.58 262.5,810.58 263.0,810.58 263.5,810.57 264.0,810.57 264.5,810.57 265.0,810.57 265.5,810.56 266.0,810.56 266.5,810.56 267.0,810.56 267.5,810.55 268.0,810.55 268.5,810.55 269.0,810.55 269.5,810.54 270.0,810.54 270.5,810.54 271.0,810.54 271.5,810.54 272.0,810.53 272.5,810.53 273.0,810.53 273.5,810.53 274.0,810.52 274.5,810.52 275.0,810.52 275.5,810.52 276.0,810.51 276.5,810.51 277.0,810.51 277.5,810.51 278.0,810.50 278.5,810.50 279.0,810.50 279.5,810.50 280.0,810.49 280.5,810.49 281.0,810.49 281.5,810.49 282.0,810.48 282.5,810.48 283.0,810.48 283.5,810.48 284.0,810.47 284.5,810.47 285.0,810.47 285.5,810.46 286.0,810.46 286.5,810.46 287.0,810.46 287.5,810.45 288.0,810.45 288.5,810.45 289.0,810.45 289.5,810.44 290.0,810.44 290.5,810.44 291.0,810.44 291.5,810.43 292.0,810.43 292.5,810.43 293.0,810.42 293.5,810.42 294.0,810.42 294.5,810.42 295.0,810.41 295.5,810.41 296.0,810.41 296.5,810.41 297.0,810.40 297.5,810.40 298.0,810.40 298.5,810.39 299.0,810.39 299.5,810.39 300.0,810.39 300.5,810.38 301.0,810.38 301.5,810.38 302.0,810.37 302.5,810.37 303.0,810.37 303.5,810.37 304.0,810.36 304.5,810.36 305.0,810.36 305.5,810.36 306.0,810.35 306.5,810.35 307.0,810.35 307.5,810.34 308.0,810.34 308.5,810.34 309.0,810.33 309.5,810.33 310.0,810.33 310.5,810.33 311.0,810.32 311.5,810.32 312.0,810.32 312.5,810.31 313.0,810.31 313.5,810.31 314.0,810.31 314.5,810.30 315.0,810.30 315.5,810.30 316.0,810.29 316.5,810.29 317.0,810.29 317.5,810.28 318.0,810.28 318.5,810.28 319.0,810.28 319.5,810.27 320.0,810.27 320.5,810.27 321.0,810.26 321.5,810.26 322.0,810.26 322.5,810.25 323.0,810.25 323.5,810.25 324.0,810.25 324.5,810.24 325.0,810.24 325.5,810.24 326.0,810.23 326.5,810.23 327.0,810.23 327.5,810.22 328.0,810.22 328.5,810.22 329.0,810.21 329.5,810.21 330.0,810.21 330.5,810.21 331.0,810.20 331.5,810.20 332.0,810.20 332.5,810.19 333.0,810.19 333.5,810.19 334.0,810.18 334.5,810.18 335.0,810.18 335.5,810.17 336.0,810.17 336.5,810.17 337.0,810.16 337.5,810.16 338.0,810.16 338.5,810.16 339.0,810.15 339.5,810.15 340.0,810.15 340.5,810.14 341.0,810.14 341.5,810.14 342.0,810.13 342.5,810.13 343.0,810.13 343.5,810.12 344.0,810.12 344.5,810.12 345.0,810.12 345.5,810.11 346.0,810.11 346.5,810.11 347.0,810.10 347.5,810.10 348.0,810.10 348.5,810.10 349.0,810.09 349.5,810.09 350.0,810.09 350.5,810.09 351.0,810.08 351.5,810.08 352.0,810.08 352.5,810.08 353.0,810.07 353.5,810.07 354.0,810.07 354.5,810.07 355.0,810.06 355.5,810.06 356.0,810.06 356.5,810.06 357.0,810.06 357.5,810.05 358.0,810.05 358.5,810.05 359.0,810.05 359.5,810.04 360.0,810.04 360.5,810.04 361.0,810.04 361.5,810.04 362.0,810.03 362.5,810.03 363.0,810.03 363.5,810.03 364.0,810.03 364.5,810.02 365.0,810.02 365.5,810.02 366.0,810.02 366.5,810.01 367.0,810.01 367.5,810.01 368.0,810.01 368.5,810.01 369.0,810.00 369.5,810.00 370.0,810.00 370.5,810.00 371.0,810.00 371.5,809.99 372.0,809.99 372.5,809.99 373.0,809.99 373.5,809.98 374.0,809.98 374.5,809.98 375.0,809.98 375.5,809.98 376.0,809.97 376.5,809.97 377.0,809.97 377.5,809.97 378.0,809.96 378.5,809.96 379.0,809.96 379.5,809.96 380.0,809.95 380.5,809.95 381.0,809.95 381.5,809.95 382.0,809.94 382.5,809.94 383.0,809.94 383.5,809.94 384.0,809.93 384.5,809.93 385.0,809.93 385.5,809.93 386.0,809.92 386.5,809.92 387.0,809.92 387.5,809.91 388.0,809.91 388.5,809.91 389.0,809.91 389.5,809.90 390.0,809.90 390.5,809.90 391.0,809.89 391.5,809.89 392.0,809.89 392.5,809.88 393.0,809.88 393.5,809.88 394.0,809.87 394.5,809.87 395.0,809.87 395.5,809.86 396.0,809.86 396.5,809.86 397.0,809.85 397.5,809.85 398.0,809.84 398.5,809.84 399.0,809.84 399.5,809.83 400.0,809.83 400.5,809.82 401.0,809.82 401.5,809.82 402.0,809.81 402.5,809.81 403.0,809.80 403.5,809.80 404.0,809.79 404.5,809.79 405.0,809.78 405.5,809.78 406.0,809.77 406.5,809.77 407.0,809.76 407.5,809.76 408.0,809.75 408.5,809.75 409.0,809.74 409.5,809.74 410.0,809.73 410.5,809.73 411.0,809.72 411.5,809.72 412.0,809.71 412.5,809.70 413.0,809.70 413.5,809.69 414.0,809.69 414.5,809.68 415.0,809.67 415.5,809.67 416.0,809.66 416.5,809.65 417.0,809.65 417.5,809.64 418.0,809.63 418.5,809.63 419.0,809.62 419.5,809.61 420.0,809.61 420.5,809.60 421.0,809.59 421.5,809.58 422.0,809.58 422.5,809.57 423.0,809.56 423.5,809.55 424.0,809.55 424.5,809.54 425.0,809.53 425.5,809.52 426.0,809.51 426.5,809.51 427.0,809.50 427.5,809.49 428.0,809.48 428.5,809.47 429.0,809.46 429.5,809.45 430.0,809.44 430.5,809.43 431.0,809.42 431.5,809.41 432.0,809.40 432.5,809.37 433.0,809.35 433.5,809.32 434.0,809.29 434.5,809.26 435.0,809.22 435.5,809.18 436.0,809.13 436.5,809.08 437.0,809.03 437.5,808.97 438.0,808.92 438.5,808.85 439.0,808.79 439.5,808.72 440.0,808.65 440.5,808.57 441.0,808.49 441.5,808.41 442.0,808.33 442.5,808.24 443.0,808.15 443.5,808.06 444.0,807.96 444.5,807.86 445.0,807.76 445.5,807.66 446.0,807.55 446.5,807.42 447.0,807.26 447.5,807.08 448.0,806.87 448.5,806.64 449.0,806.39 449.5,806.12 450.0,805.83 450.5,805.52 451.0,805.20 451.5,804.86 452.0,804.52 452.5,804.16 453.0,803.80 453.5,803.43 454.0,803.03 454.5,802.62 455.0,802.17 455.5,801.70 456.0,801.19 456.5,800.65 457.0,800.07 457.5,799.46 458.0,798.81 458.5,798.12 459.0,797.38 459.5,796.61 460.0,795.76 460.5,794.77 461.0,793.62 461.5,792.36 462.0,790.99 462.5,789.55 463.0,788.05 463.5,786.52 464.0,784.98 464.5,783.46 465.0,781.96 465.5,780.44 466.0,778.89 466.5,777.32 467.0,775.71 467.5,774.07 468.0,772.40 468.5,770.68 469.0,768.92 469.5,767.10 470.0,765.24 470.5,763.33 471.0,761.36 471.5,759.33 472.0,757.24 472.5,755.09 473.0,752.88 473.5,750.60 474.0,748.26 474.5,745.84 475.0,743.35 475.5,740.78 476.0,738.13 476.5,735.40 477.0,732.59 477.5,729.68 478.0,726.61 478.5,723.39 479.0,720.02 479.5,716.52 480.0,712.90 480.5,709.16 481.0,705.33 481.5,701.41 482.0,697.42 482.5,693.34 483.0,688.93 483.5,684.23 484.0,679.37 484.5,674.49 485.0,669.70 485.5,665.14 486.0,660.93 486.5,656.83 487.0,652.63 487.5,648.54 488.0,644.74 488.5,641.41 489.0,638.76 489.5,636.89 490.0,635.24 490.5,633.71 491.0,632.42 491.5,631.44 492.0,630.88 492.5,630.84 493.0,631.43 493.5,632.57 494.0,634.14 494.5,636.02 495.0,638.08 495.5,640.31 496.0,643.48 496.5,647.55 497.0,652.23 497.5,657.25 498.0,662.32 498.5,667.16 499.0,671.77 499.5,676.56 500.0,681.46 500.5,686.40 501.0,691.27 501.5,696.01 502.0,700.53 502.5,704.75 503.0,708.82 503.5,712.81 504.0,716.68 504.5,720.40 505.0,723.93 505.5,727.24 506.0,730.28 506.5,733.10 507.0,735.82 507.5,738.44 508.0,740.95 508.5,743.36 509.0,745.64 509.5,747.80 510.0,749.84 510.5,751.73 511.0,753.48 511.5,755.10 512.0,756.64 512.5,758.10 513.0,759.48 513.5,760.80 514.0,762.04 514.5,763.22 515.0,764.32 515.5,765.36 516.0,766.34 516.5,767.26 517.0,768.11 517.5,768.91 518.0,769.66 518.5,770.38 519.0,771.07 519.5,771.74 520.0,772.39 520.5,773.04 521.0,773.68 521.5,774.34 522.0,775.02 522.5,775.71 523.0,776.42 523.5,777.11 524.0,777.79 524.5,778.46 525.0,779.14 525.5,779.84 526.0,780.55 526.5,781.28 527.0,782.05 527.5,782.86 528.0,783.74 528.5,784.72 529.0,785.77 529.5,786.85 530.0,787.95 530.5,789.04 531.0,790.09 531.5,791.07 532.0,791.95 532.5,792.71 533.0,793.40 533.5,794.07 534.0,794.72 534.5,795.33 535.0,795.91 535.5,796.45 536.0,796.94 536.5,797.38 537.0,797.76 537.5,798.07 538.0,798.33 538.5,798.57 539.0,798.77 539.5,798.96 540.0,799.13 540.5,799.28 541.0,799.43 541.5,799.57 542.0,799.71 542.5,799.85 543.0,800.01 543.5,800.17 544.0,800.35 544.5,800.56 545.0,800.79 545.5,801.06 546.0,801.40 546.5,801.78 547.0,802.20 547.5,802.64 548.0,803.08 548.5,803.52 549.0,803.95 549.5,804.34 550.0,804.68 550.5,804.97 551.0,805.19 551.5,805.34 552.0,805.46 552.5,805.57 553.0,805.68 553.5,805.79 554.0,805.89 554.5,805.98 555.0,806.07 555.5,806.16 556.0,806.24 556.5,806.31 557.0,806.38 557.5,806.45 558.0,806.51 558.5,806.57 559.0,806.63 559.5,806.69 560.0,806.74 560.5,806.79 561.0,806.83 561.5,806.88 562.0,806.92 562.5,806.96 563.0,807.00 563.5,807.04 564.0,807.08 564.5,807.12 565.0,807.15 565.5,807.19 566.0,807.22 566.5,807.26 567.0,807.29 567.5,807.33 568.0,807.36 568.5,807.39 569.0,807.42 569.5,807.45 570.0,807.48 570.5,807.51 571.0,807.54 571.5,807.57 572.0,807.60 572.5,807.63 573.0,807.66 573.5,807.68 574.0,807.71 574.5,807.74 575.0,807.76 575.5,807.79 576.0,807.81 576.5,807.83 577.0,807.86 577.5,807.88 578.0,807.90 578.5,807.93 579.0,807.95 579.5,807.97 580.0,807.99 580.5,808.01 581.0,808.03 581.5,808.05 582.0,808.07 582.5,808.09 583.0,808.11 583.5,808.12 584.0,808.14 584.5,808.16 585.0,808.17 585.5,808.19 586.0,808.21 586.5,808.22 587.0,808.24 587.5,808.25 588.0,808.27 588.5,808.28 589.0,808.29 589.5,808.31 590.0,808.32 590.5,808.33 591.0,808.35 591.5,808.36 592.0,808.37 592.5,808.38 593.0,808.39 593.5,808.40 594.0,808.42 594.5,808.43 595.0,808.44 595.5,808.45 596.0,808.46 596.5,808.47 597.0,808.49 597.5,808.50 598.0,808.51 598.5,808.52 599.0,808.53 599.5,808.54 600.0,808.55 600.5,808.57 601.0,808.58 601.5,808.59 602.0,808.60 602.5,808.61 603.0,808.62 603.5,808.63 604.0,808.64 604.5,808.65 605.0,808.66 605.5,808.67 606.0,808.69 606.5,808.70 607.0,808.71 607.5,808.72 608.0,808.73 608.5,808.74 609.0,808.75 609.5,808.76 610.0,808.77 610.5,808.78 611.0,808.79 611.5,808.80 612.0,808.81 612.5,808.82 613.0,808.83 613.5,808.84 614.0,808.85 614.5,808.86 615.0,808.87 615.5,808.88 616.0,808.89 616.5,808.90 617.0,808.91 617.5,808.92 618.0,808.93 618.5,808.94 619.0,808.94 619.5,808.95 620.0,808.96 620.5,808.97 621.0,808.98 621.5,808.99 622.0,809.00 622.5,809.01 623.0,809.02 623.5,809.02 624.0,809.03 624.5,809.04 625.0,809.05 625.5,809.06 626.0,809.07 626.5,809.07 627.0,809.08 627.5,809.09 628.0,809.10 628.5,809.11 629.0,809.11 629.5,809.12 630.0,809.13 630.5,809.14 631.0,809.14 631.5,809.15 632.0,809.16 632.5,809.17 633.0,809.17 633.5,809.18 634.0,809.19 634.5,809.19 635.0,809.20 635.5,809.21 636.0,809.21 636.5,809.22 637.0,809.23 637.5,809.23 638.0,809.24 638.5,809.25 639.0,809.25 639.5,809.26 640.0,809.26 640.5,809.27 641.0,809.28 641.5,809.28 642.0,809.29 642.5,809.29 643.0,809.30 643.5,809.30 644.0,809.31 644.5,809.31 645.0,809.32 645.5,809.32 646.0,809.33 646.5,809.33 647.0,809.34 647.5,809.34 648.0,809.35 648.5,809.35 649.0,809.35 649.5,809.36 650.0,809.36 650.5,809.37 651.0,809.37 651.5,809.37 652.0,809.38 652.5,809.38 653.0,809.38 653.5,809.39 654.0,809.39 654.5,809.39 655.0,809.39 655.5,809.40 656.0,809.40 656.5,809.40 657.0,809.41 657.5,809.41 658.0,809.41 658.5,809.41 659.0,809.41 659.5,809.42 660.0,809.42 660.5,809.42 661.0,809.42 661.5,809.42 662.0,809.42 662.5,809.42 663.0,809.42 663.5,809.43 664.0,809.43 664.5,809.43 665.0,809.43 665.5,809.43 666.0,809.43 666.5,809.43 667.0,809.43 667.5,809.43 668.0,809.43 668.5,809.43 669.0,809.43 669.5,809.43 670.0,809.43 670.5,809.43 671.0,809.43 671.5,809.43 672.0,809.43 672.5,809.43 673.0,809.43 673.5,809.43 674.0,809.43 674.5,809.43 675.0,809.43 675.5,809.43 676.0,809.43 676.5,809.43 677.0,809.43 677.5,809.43 678.0,809.43 678.5,809.43 679.0,809.43 679.5,809.43 680.0,809.43 680.5,809.43 681.0,809.43 681.5,809.43 682.0,809.43 682.5,809.43 683.0,809.43 683.5,809.43 684.0,809.43 684.5,809.43 685.0,809.43 685.5,809.43 686.0,809.43 686.5,809.43 687.0,809.43 687.5,809.43 688.0,809.43 688.5,809.43 689.0,809.43 689.5,809.43 690.0,809.43 690.5,809.43 691.0,809.43 691.5,809.43 692.0,809.43 692.5,809.43 693.0,809.43 693.5,809.43 694.0,809.43 694.5,809.43 695.0,809.43 695.5,809.43 696.0,809.43 696.5,809.43 697.0,809.43 697.5,809.43 698.0,809.43 698.5,809.43 699.0,809.43 699.5,809.43 700.0,809.43 700.5,809.43 701.0,809.43 701.5,809.43 702.0,809.43 702.5,809.43 703.0,809.43 703.5,809.43 704.0,809.43 704.5,809.43 705.0,809.43 705.5,809.43 706.0,809.43 706.5,809.43 707.0,809.43 707.5,809.43 708.0,809.43 708.5,809.43 709.0,809.43 709.5,809.43 710.0,809.43 710.5,809.43 711.0,809.43 711.5,809.43 712.0,809.43 712.5,809.43 713.0,809.43 713.5,809.43 714.0,809.43 714.5,809.43 715.0,809.43 715.5,809.43 716.0,809.43 716.5,809.43 717.0,809.43 717.5,809.43 718.0,809.43 718.5,809.43 719.0,809.43 719.5,809.43 720.0,809.43 720.5,809.43 721.0,809.43 721.5,809.43 722.0,809.43 722.5,809.43 723.0,809.43 723.5,809.43 724.0,809.43 724.5,809.43 725.0,809.43 725.5,809.43 726.0,809.43 726.5,809.43 727.0,809.43 727.5,809.43 728.0,809.43 728.5,809.43 729.0,809.43 729.5,809.43 730.0,809.43 730.5,809.43 731.0,809.43 731.5,809.43 732.0,809.43 732.5,809.43 733.0,809.43 733.5,809.43 734.0,809.43 734.5,809.43 735.0,809.43 735.5,809.43 736.0,809.43 736.5,809.43 737.0,809.43 737.5,809.43 738.0,809.43 738.5,809.43 739.0,809.43 739.5,809.43 740.0,809.43 740.5,809.43 741.0,809.43 741.5,809.43 742.0,809.43 742.5,809.43 743.0,809.43 743.5,809.43 744.0,809.43 744.5,809.43 745.0,809.43 745.5,809.43 746.0,809.43 746.5,809.43 747.0,809.43 747.5,809.43 748.0,809.43 748.5,809.43 749.0,809.43 749.5,809.43 750.0,809.43 750.5,809.43 751.0,809.43 751.5,809.43 752.0,809.43 752.5,809.43 753.0,809.43 753.5,809.43 754.0,809.43 754.5,809.43 755.0,809.43 755.5,809.43 756.0,809.43 756.5,809.43 757.0,809.43 757.5,809.43 758.0,809.43 758.5,809.43 759.0,809.43 759.5,809.43 760.0,809.43 760.5,809.43 761.0,809.43 761.5,809.43 762.0,809.36 762.5,809.15 763.0,808.84 763.5,808.42 764.0,807.93 764.5,807.38 765.0,806.79 765.5,806.17 766.0,805.54 766.5,804.92 767.0,804.34 767.5,803.80 768.0,803.31 768.5,802.87 769.0,802.45 769.5,802.04 770.0,801.64 770.5,801.24 771.0,800.83 771.5,800.40 772.0,799.95 772.5,799.46 773.0,798.93 773.5,798.35 774.0,797.71 774.5,796.96 775.0,796.01 775.5,794.91 776.0,793.67 776.5,792.33 777.0,790.92 777.5,789.47 778.0,788.01 778.5,786.56 779.0,785.17 779.5,783.86 780.0,782.66 780.5,781.57 781.0,780.46 781.5,779.28 782.0,778.08 782.5,776.88 783.0,775.71 783.5,774.60 784.0,773.58 784.5,772.66 785.0,771.89 785.5,771.29 786.0,770.89 786.5,770.72 787.0,770.74 787.5,770.86 788.0,771.05 788.5,771.31 789.0,771.64 789.5,772.03 790.0,772.47 790.5,772.96 791.0,773.49 791.5,774.04 792.0,774.63 792.5,775.23 793.0,775.84 793.5,776.65 794.0,777.70 794.5,778.94 795.0,780.35 795.5,781.88 796.0,783.48 796.5,785.11 797.0,786.74 797.5,788.32 798.0,789.82 798.5,791.18 799.0,792.37 799.5,793.39 800.0,794.38 800.5,795.36 801.0,796.32 801.5,797.25 802.0,798.14 802.5,798.98 803.0,799.78 803.5,800.52 804.0,801.19 804.5,801.78 805.0,802.30 805.5,802.72 806.0,803.12 806.5,803.50 807.0,803.88 807.5,804.25 808.0,804.60 808.5,804.93 809.0,805.24 809.5,805.53 810.0,805.79 810.5,806.01 811.0,806.21 811.5,806.36 812.0,806.48 812.5,806.55 813.0,806.57 813.5,806.57 814.0,806.57 814.5,806.57 815.0,806.57 815.5,806.57 816.0,806.57 816.5,806.57 817.0,806.57 817.5,806.57 818.0,806.57 818.5,806.57 819.0,806.57 819.5,806.57 820.0,806.57 820.5,806.57 821.0,806.58 821.5,806.62 822.0,806.68 822.5,806.75 823.0,806.85 823.5,806.95 824.0,807.07 824.5,807.19 825.0,807.32 825.5,807.45 826.0,807.58 826.5,807.71 827.0,807.84 827.5,807.96 828.0,808.06 828.5,808.16 829.0,808.24 829.5,808.30 830.0,808.34 830.5,808.36 831.0,808.35 831.5,808.32 832.0,808.26 832.5,808.18 833.0,808.08 833.5,807.96 834.0,807.82 834.5,807.67 835.0,807.50 835.5,807.32 836.0,807.13 836.5,806.92 837.0,806.71 837.5,806.49 838.0,806.26 838.5,806.01 839.0,805.68 839.5,805.30 840.0,804.85 840.5,804.35 841.0,803.79 841.5,803.19 842.0,802.56 842.5,801.88 843.0,801.18 843.5,800.45 844.0,799.70 844.5,798.93 845.0,798.15 845.5,797.37 846.0,796.55 846.5,795.60 847.0,794.57 847.5,793.47 848.0,792.32 848.5,791.14 849.0,789.97 849.5,788.82 850.0,787.72 850.5,786.69 851.0,785.70 851.5,784.64 852.0,783.54 852.5,782.45 853.0,781.41 853.5,780.46 854.0,779.64 854.5,778.98 855.0,778.54 855.5,778.30 856.0,778.09 856.5,777.91 857.0,777.75 857.5,777.63 858.0,777.55 858.5,777.50 859.0,777.55 859.5,777.84 860.0,778.33 860.5,778.98 861.0,779.74 861.5,780.56 862.0,781.38 862.5,782.16 863.0,782.83 863.5,783.37 864.0,783.70 864.5,783.78 865.0,783.74 865.5,783.63 866.0,783.47 866.5,783.26 867.0,783.02 867.5,782.76 868.0,782.48 868.5,782.19 869.0,781.91 869.5,781.63 870.0,781.38 870.5,781.15 871.0,780.95 871.5,780.74 872.0,780.52 872.5,780.29 873.0,780.06 873.5,779.83 874.0,779.60 874.5,779.38 875.0,779.18 875.5,778.99 876.0,778.82 876.5,778.68 877.0,778.56 877.5,778.48 878.0,778.44 878.5,778.43 879.0,778.47 879.5,778.55 880.0,778.67 880.5,778.81 881.0,778.99 881.5,779.19 882.0,779.41 882.5,779.65 883.0,779.91 883.5,780.17 884.0,780.44 884.5,780.71 885.0,781.04 885.5,781.45 886.0,781.93 886.5,782.47 887.0,783.06 887.5,783.67 888.0,784.30 888.5,784.92 889.0,785.53 889.5,786.11 890.0,786.64 890.5,787.11 891.0,787.51 891.5,787.88 892.0,788.23 892.5,788.57 893.0,788.90 893.5,789.21 894.0,789.51 894.5,789.81 895.0,790.09 895.5,790.37 896.0,790.64 896.5,790.91 897.0,791.17 897.5,791.44 898.0,791.70 898.5,791.96 899.0,792.23 899.5,792.50 900.0,792.77 900.5,793.04 901.0,793.31 901.5,793.58 902.0,793.84 902.5,794.09 903.0,794.33 903.5,794.55 904.0,794.77 904.5,794.97 905.0,795.15 905.5,795.31 906.0,795.46 906.5,795.59 907.0,795.73 907.5,795.86 908.0,796.00 908.5,796.13 909.0,796.25 909.5,796.36 910.0,796.47 910.5,796.57 911.0,796.65 911.5,796.73 912.0,796.78 912.5,796.83 913.0,796.85 913.5,796.86 914.0,796.85 914.5,796.83 915.0,796.80 915.5,796.76 916.0,796.72 916.5,796.66 917.0,796.60 917.5,796.53 918.0,796.45 918.5,796.36 919.0,796.27 919.5,796.17 920.0,796.07 920.5,795.96 921.0,795.84 921.5,795.73 922.0,795.61 922.5,795.48 923.0,795.36 923.5,795.23 924.0,795.10 924.5,794.97 925.0,794.84 925.5,794.70 926.0,794.57 926.5,794.43 927.0,794.27 927.5,794.10 928.0,793.91 928.5,793.71 929.0,793.50 929.5,793.27 930.0,793.04 930.5,792.80 931.0,792.56 931.5,792.30 932.0,792.05 932.5,791.80 933.0,791.54 933.5,791.28 934.0,791.03 934.5,790.78 935.0,790.54 935.5,790.30 936.0,790.07 936.5,789.85 937.0,789.63 937.5,789.41 938.0,789.19 938.5,788.97 939.0,788.75 939.5,788.53 940.0,788.31 940.5,788.10 941.0,787.88 941.5,787.66 942.0,787.44 942.5,787.21 943.0,786.99 943.5,786.76 944.0,786.53 944.5,786.30 945.0,786.06 945.5,785.82 946.0,785.57 946.5,785.33 947.0,785.09 947.5,784.85 948.0,784.61 948.5,784.37 949.0,784.13 949.5,783.88 950.0,783.62 950.5,783.36 951.0,783.09 951.5,782.80 952.0,782.50 952.5,782.19 953.0,781.85 953.5,781.50 954.0,781.11 954.5,780.65 955.0,780.14 955.5,779.57 956.0,778.97 956.5,778.33 957.0,777.69 957.5,777.03 958.0,776.37 958.5,775.73 959.0,775.11 959.5,774.53 960.0,773.99 960.5,773.50 961.0,773.08 961.5,772.70 962.0,772.31 962.5,771.92 963.0,771.53 963.5,771.15 964.0,770.80 964.5,770.46 965.0,770.17 965.5,769.91 966.0,769.70 966.5,769.54 967.0,769.45 967.5,769.43 968.0,769.44 968.5,769.46 969.0,769.50 969.5,769.55 970.0,769.61 970.5,769.67 971.0,769.75 971.5,769.83 972.0,769.92 972.5,770.02 973.0,770.18 973.5,770.42 974.0,770.73 974.5,771.09 975.0,771.50 975.5,771.95 976.0,772.41 976.5,772.89 977.0,773.36 977.5,773.82 978.0,774.25 978.5,774.64 979.0,775.00 979.5,775.37 980.0,775.75 980.5,776.14 981.0,776.54 981.5,776.93 982.0,777.32 982.5,777.69 983.0,778.05 983.5,778.39 984.0,778.70 984.5,778.98 985.0,779.23 985.5,779.43 986.0,779.59 986.5,779.71 987.0,779.82 987.5,779.93 988.0,780.04 988.5,780.14 989.0,780.23 989.5,780.32 990.0,780.40 990.5,780.47 991.0,780.54 991.5,780.59 992.0,780.64 992.5,780.67 993.0,780.70 993.5,780.71 994.0,780.71 994.5,780.69 995.0,780.63 995.5,780.56 996.0,780.46 996.5,780.33 997.0,780.19 997.5,780.03 998.0,779.86 998.5,779.67 999.0,779.47 999.5,779.25 1000.0,779.03 1000.5,778.80 1001.0,778.57 1001.5,778.33 1002.0,778.04 1002.5,777.71 1003.0,777.32 1003.5,776.89 1004.0,776.42 1004.5,775.91 1005.0,775.37 1005.5,774.80 1006.0,774.20 1006.5,773.58 1007.0,772.94 1007.5,772.28 1008.0,771.58 1008.5,770.78 1009.0,769.91 1009.5,768.97 1010.0,767.96 1010.5,766.91 1011.0,765.83 1011.5,764.71 1012.0,763.58 1012.5,762.45 1013.0,761.33 1013.5,760.22 1014.0,759.14 1014.5,758.04 1015.0,756.92 1015.5,755.78 1016.0,754.63 1016.5,753.46 1017.0,752.29 1017.5,751.12 1018.0,749.96 1018.5,748.80 1019.0,747.66 1019.5,746.53 1020.0,745.43 1020.5,744.32 1021.0,743.13 1021.5,741.89 1022.0,740.65 1022.5,739.43 1023.0,738.27 1023.5,737.21 1024.0,736.28 1024.5,735.51 1025.0,734.94 1025.5,734.55 1026.0,734.21 1026.5,733.90 1027.0,733.63 1027.5,733.39 1028.0,733.17 1028.5,732.97 1029.0,732.77 1029.5,732.57 1030.0,732.37 1030.5,732.16 1031.0,731.97 1031.5,731.80 1032.0,731.65 1032.5,731.50 1033.0,731.35 1033.5,731.20 1034.0,731.04 1034.5,730.87 1035.0,730.68 1035.5,730.46 1036.0,730.22 1036.5,729.94 1037.0,729.60 1037.5,729.19 1038.0,728.72 1038.5,728.17 1039.0,727.57 1039.5,726.91 1040.0,726.19 1040.5,725.41 1041.0,724.59 1041.5,723.71 1042.0,722.73 1042.5,721.59 1043.0,720.29 1043.5,718.83 1044.0,717.23 1044.5,715.47 1045.0,713.57 1045.5,711.53 1046.0,709.36 1046.5,706.76 1047.0,703.56 1047.5,699.92 1048.0,696.02 1048.5,692.00 1049.0,688.03 1049.5,684.29 1050.0,680.57 1050.5,676.71 1051.0,672.92 1051.5,669.40 1052.0,666.36 1052.5,663.41 1053.0,660.49 1053.5,658.25 1054.0,657.36 1054.5,657.99 1055.0,659.69 1055.5,662.16 1056.0,665.08 1056.5,668.14 1057.0,671.93 1057.5,676.94 1058.0,682.72 1058.5,688.86 1059.0,694.90 1059.5,700.43 1060.0,705.58 1060.5,710.75 1061.0,715.85 1061.5,720.83 1062.0,725.60 1062.5,730.10 1063.0,734.29 1063.5,738.35 1064.0,742.30 1064.5,746.11 1065.0,749.73 1065.5,753.12 1066.0,756.24 1066.5,759.05 1067.0,761.60 1067.5,764.04 1068.0,766.36 1068.5,768.56 1069.0,770.63 1069.5,772.54 1070.0,774.29 1070.5,775.86 1071.0,777.25 1071.5,778.49 1072.0,779.68 1072.5,780.82 1073.0,781.89 1073.5,782.89 1074.0,783.81 1074.5,784.63 1075.0,785.34 1075.5,785.94 1076.0,786.42 1076.5,786.80 1077.0,787.17 1077.5,787.52 1078.0,787.85 1078.5,788.15 1079.0,788.43 1079.5,788.66 1080.0,788.85 1080.5,789.00 1081.0,789.10 1081.5,789.14 1082.0,789.11 1082.5,789.00 1083.0,788.80 1083.5,788.53 1084.0,788.19 1084.5,787.79 1085.0,787.32 1085.5,786.81 1086.0,786.24 1086.5,785.64 1087.0,785.00 1087.5,784.34 1088.0,783.64 1088.5,782.73 1089.0,781.53 1089.5,780.10 1090.0,778.46 1090.5,776.65 1091.0,774.71 1091.5,772.67 1092.0,770.58 1092.5,768.46 1093.0,766.36 1093.5,764.08 1094.0,761.55 1094.5,758.84 1095.0,756.00 1095.5,753.09 1096.0,750.16 1096.5,747.27 1097.0,744.47 1097.5,741.83 1098.0,739.38 1098.5,736.99 1099.0,734.59 1099.5,732.20 1100.0,729.85 1100.5,727.58 1101.0,725.41 1101.5,723.37 1102.0,721.50 1102.5,719.82 1103.0,718.36 1103.5,716.99 1104.0,715.61 1104.5,714.26 1105.0,712.96 1105.5,711.75 1106.0,710.68 1106.5,709.78 1107.0,709.10 1107.5,708.66 1108.0,708.50 1108.5,708.60 1109.0,708.89 1109.5,709.35 1110.0,709.93 1110.5,710.62 1111.0,711.39 1111.5,712.21 1112.0,713.06 1112.5,713.90 1113.0,714.71 1113.5,715.61 1114.0,716.67 1114.5,717.86 1115.0,719.12 1115.5,720.41 1116.0,721.67 1116.5,722.86 1117.0,723.93 1117.5,724.82 1118.0,725.50 1118.5,726.05 1119.0,726.59 1119.5,727.10 1120.0,727.57 1120.5,727.98 1121.0,728.31 1121.5,728.55 1122.0,728.69 1122.5,728.69 1123.0,728.47 1123.5,728.03 1124.0,727.41 1124.5,726.62 1125.0,725.72 1125.5,724.72 1126.0,723.67 1126.5,722.58 1127.0,721.47 1127.5,720.13 1128.0,718.54 1128.5,716.73 1129.0,714.75 1129.5,712.63 1130.0,710.41 1130.5,708.13 1131.0,705.84 1131.5,703.56 1132.0,701.32 1132.5,699.02 1133.0,696.65 1133.5,694.20 1134.0,691.69 1134.5,689.13 1135.0,686.52 1135.5,683.88 1136.0,681.21 1136.5,678.53 1137.0,675.84 1137.5,673.14 1138.0,670.46 1138.5,667.73 1139.0,664.82 1139.5,661.79 1140.0,658.69 1140.5,655.57 1141.0,652.47 1141.5,649.45 1142.0,646.56 1142.5,643.85 1143.0,641.37 1143.5,639.17 1144.0,637.29 1144.5,635.48 1145.0,633.66 1145.5,631.88 1146.0,630.19 1146.5,628.65 1147.0,627.32 1147.5,626.24 1148.0,625.49 1148.5,625.11 1149.0,625.16 1149.5,625.66 1150.0,626.56 1150.5,627.80 1151.0,629.31 1151.5,631.03 1152.0,632.90 1152.5,634.86 1153.0,636.85 1153.5,638.92 1154.0,641.47 1154.5,644.45 1155.0,647.78 1155.5,651.38 1156.0,655.16 1156.5,659.03 1157.0,662.91 1157.5,666.70 1158.0,670.33 1158.5,673.78 1159.0,677.28 1159.5,680.84 1160.0,684.42 1160.5,687.99 1161.0,691.52 1161.5,694.98 1162.0,698.34 1162.5,701.56 1163.0,704.62 1163.5,707.52 1164.0,710.46 1164.5,713.41 1165.0,716.33 1165.5,719.19 1166.0,721.96 1166.5,724.60 1167.0,727.06 1167.5,729.32 1168.0,731.34 1168.5,733.08 1169.0,734.50 1169.5,735.75 1170.0,736.99 1170.5,738.18 1171.0,739.32 1171.5,740.38 1172.0,741.33 1172.5,742.16 1173.0,742.84 1173.5,743.35 1174.0,743.67 1174.5,743.79 1175.0,743.74 1175.5,743.61 1176.0,743.40 1176.5,743.12 1177.0,742.79 1177.5,742.42 1178.0,742.02 1178.5,741.59 1179.0,741.15 1179.5,740.71 1180.0,740.20 1180.5,739.54 1181.0,738.77 1181.5,737.90 1182.0,736.98 1182.5,736.02 1183.0,735.06 1183.5,734.12 1184.0,733.23 1184.5,732.41 1185.0,731.70 1185.5,731.13 1186.0,730.70 1186.5,730.30 1187.0,729.90 1187.5,729.53 1188.0,729.17 1188.5,728.84 1189.0,728.54 1189.5,728.29 1190.0,728.09 1190.5,727.95 1191.0,727.87 1191.5,727.87 1192.0,727.97 1192.5,728.17 1193.0,728.47 1193.5,728.85 1194.0,729.30 1194.5,729.81 1195.0,730.37 1195.5,730.98 1196.0,731.61 1196.5,732.29 1197.0,733.29 1197.5,734.60 1198.0,736.16 1198.5,737.89 1199.0,739.73 1199.5,741.61 1200.0,743.45 1200.5,745.19 1201.0,746.75 1201.5,748.09 1202.0,749.35 1202.5,750.58 1203.0,751.78 1203.5,752.95 1204.0,754.09 1204.5,755.21 1205.0,756.31 1205.5,757.38 1206.0,758.43 1206.5,759.46 1207.0,760.47 1207.5,761.47 1208.0,762.45 1208.5,763.42 1209.0,764.37 1209.5,765.31 1210.0,766.24 1210.5,767.17 1211.0,768.09 1211.5,769.00 1212.0,769.90 1212.5,770.79 1213.0,771.67 1213.5,772.53 1214.0,773.39 1214.5,774.23 1215.0,775.05 1215.5,775.85 1216.0,776.64 1216.5,777.41 1217.0,778.16 1217.5,778.88 1218.0,779.58 1218.5,780.26 1219.0,780.91 1219.5,781.56 1220.0,782.21 1220.5,782.85 1221.0,783.48 1221.5,784.11 1222.0,784.71 1222.5,785.30 1223.0,785.87 1223.5,786.41 1224.0,786.92 1224.5,787.40 1225.0,787.84 1225.5,788.25 1226.0,788.60 1226.5,788.92 1227.0,789.20 1227.5,789.48 1228.0,789.74 1228.5,789.98 1229.0,790.22 1229.5,790.45 1230.0,790.66 1230.5,790.87 1231.0,791.07 1231.5,791.26 1232.0,791.44 1232.5,791.62 1233.0,791.79 1233.5,791.96 1234.0,792.12 1234.5,792.28 1235.0,792.44 1235.5,792.60 1236.0,792.75 1236.5,792.91 1237.0,793.06 1237.5,793.22 1238.0,793.38 1238.5,793.55 1239.0,793.72 1239.5,793.89 1240.0,794.06 1240.5,794.24 1241.0,794.42 1241.5,794.60 1242.0,794.78 1242.5,794.95 1243.0,795.13 1243.5,795.30 1244.0,795.48 1244.5,795.64 1245.0,795.81 1245.5,795.97 1246.0,796.12 1246.5,796.27 1247.0,796.41 1247.5,796.54 1248.0,796.66 1248.5,796.78 1249.0,796.88 1249.5,796.98 1250.0,797.06 1250.5,797.13 1251.0,797.19 1251.5,797.23 1252.0,797.27 1252.5,797.28 1253.0,797.29 1253.5,797.29 1254.0,797.29 1254.5,797.29 1255.0,797.29 1255.5,797.29 1256.0,797.29 1256.5,797.29 1257.0,797.29 1257.5,797.29 1258.0,797.29 1258.5,797.29 1259.0,797.29 1259.5,797.29 1260.0,797.29 1260.5,797.29 1261.0,797.29 1261.5,797.29 1262.0,797.29 1262.5,797.29 1263.0,797.29 1263.5,797.29 1264.0,797.29 1264.5,797.29 1265.0,797.29 1265.5,797.29 1266.0,797.29 1266.5,797.29 1267.0,797.29 1267.5,797.29 1268.0,797.28 1268.5,797.24 1269.0,797.15 1269.5,797.01 1270.0,796.83 1270.5,796.62 1271.0,796.37 1271.5,796.10 1272.0,795.82 1272.5,795.53 1273.0,795.23 1273.5,794.93 1274.0,794.64 1274.5,794.36 1275.0,794.10 1275.5,793.87 1276.0,793.66 1276.5,793.50 1277.0,793.38 1277.5,793.30 1278.0,793.29 1278.5,793.33 1279.0,793.44 1279.5,793.60 1280.0,793.81 1280.5,794.06 1281.0,794.33 1281.5,794.63 1282.0,794.95 1282.5,795.27 1283.0,795.60 1283.5,795.92 1284.0,796.22 1284.5,796.50 1285.0,796.75 1285.5,796.97 1286.0,797.18 1286.5,797.40 1287.0,797.63 1287.5,797.87 1288.0,798.10 1288.5,798.33 1289.0,798.55 1289.5,798.76 1290.0,798.95 1290.5,799.13 1291.0,799.28 1291.5,799.40 1292.0,799.49 1292.5,799.55 1293.0,799.57 1293.5,799.57 1294.0,799.57 1294.5,799.57 1295.0,799.57 1295.5,799.57 1296.0,799.57 1296.5,799.57 1297.0,799.56 1297.5,799.56 1298.0,799.56 1298.5,799.56 1299.0,799.56 1299.5,799.55 1300.0,799.55 1300.5,799.55 1301.0,799.54 1301.5,799.54 1302.0,799.54 1302.5,799.53 1303.0,799.53 1303.5,799.53 1304.0,799.52 1304.5,799.52 1305.0,799.52 1305.5,799.51 1306.0,799.51 1306.5,799.50 1307.0,799.50 1307.5,799.50 1308.0,799.49 1308.5,799.49 1309.0,799.48 1309.5,799.48 1310.0,799.48 1310.5,799.47 1311.0,799.47 1311.5,799.46 1312.0,799.46 1312.5,799.45 1313.0,799.45 1313.5,799.45 1314.0,799.44 1314.5,799.44 1315.0,799.43 1315.5,799.43 1316.0,799.43 1316.5,799.42 1317.0,799.42 1317.5,799.41 1318.0,799.41 1318.5,799.41 1319.0,799.41 1319.5,799.40 1320.0,799.40 1320.5,799.40 1321.0,799.39 1321.5,799.39 1322.0,799.39 1322.5,799.39 1323.0,799.38 1323.5,799.38 1324.0,799.38 1324.5,799.38 1325.0,799.38 1325.5,799.37 1326.0,799.37 1326.5,799.37 1327.0,799.37 1327.5,799.36 1328.0,799.36 1328.5,799.36 1329.0,799.36 1329.5,799.35 1330.0,799.35 1330.5,799.35 1331.0,799.34 1331.5,799.34 1332.0,799.34 1332.5,799.33 1333.0,799.33 1333.5,799.33 1334.0,799.32 1334.5,799.32 1335.0,799.31 1335.5,799.31 1336.0,799.31 1336.5,799.30 1337.0,799.30 1337.5,799.29 1338.0,799.28 1338.5,799.28 1339.0,799.27 1339.5,799.27 1340.0,799.26 1340.5,799.25 1341.0,799.25 1341.5,799.24 1342.0,799.23 1342.5,799.22 1343.0,799.21 1343.5,799.21 1344.0,799.20 1344.5,799.19 1345.0,799.18 1345.5,799.17 1346.0,799.16 1346.5,799.15 1347.0,799.13 1347.5,799.12 1348.0,799.11 1348.5,799.10 1349.0,799.08 1349.5,799.07 1350.0,798.98 1350.5,798.74 1351.0,798.38 1351.5,797.92 1352.0,797.38 1352.5,796.78 1353.0,796.15 1353.5,795.49 1354.0,794.84 1354.5,794.21 1355.0,793.52 1355.5,792.70 1356.0,791.77 1356.5,790.79 1357.0,789.80 1357.5,788.84 1358.0,787.95 1358.5,787.18 1359.0,786.56 1359.5,786.14 1360.0,785.84 1360.5,785.56 1361.0,785.28 1361.5,785.03 1362.0,784.80 1362.5,784.59 1363.0,784.41 1363.5,784.26 1364.0,784.14 1364.5,784.05 1365.0,784.01 1365.5,784.01 1366.0,784.07 1366.5,784.21 1367.0,784.41 1367.5,784.66 1368.0,784.96 1368.5,785.29 1369.0,785.65 1369.5,786.04 1370.0,786.43 1370.5,786.83 1371.0,787.24 1371.5,787.76 1372.0,788.38 1372.5,789.10 1373.0,789.88 1373.5,790.71 1374.0,791.56 1374.5,792.41 1375.0,793.24 1375.5,794.03 1376.0,794.75 1376.5,795.39 1377.0,795.91 1377.5,796.34 1378.0,796.76 1378.5,797.15 1379.0,797.53 1379.5,797.89 1380.0,798.24 1380.5,798.57 1381.0,798.89 1381.5,799.19 1382.0,799.48 1382.5,799.76 1383.0,800.03 1383.5,800.28 1384.0,800.53 1384.5,800.76 1385.0,800.98 1385.5,801.19 1386.0,801.40 1386.5,801.60 1387.0,801.80 1387.5,802.00 1388.0,802.20 1388.5,802.40 1389.0,802.60 1389.5,802.79 1390.0,802.98 1390.5,803.16 1391.0,803.34 1391.5,803.51 1392.0,803.68 1392.5,803.84 1393.0,804.00 1393.5,804.14 1394.0,804.28 1394.5,804.40 1395.0,804.52 1395.5,804.63 1396.0,804.72 1396.5,804.80 1397.0,804.88 1397.5,804.93 1398.0,804.98 1398.5,805.00 1399.0,805.03 1399.5,805.05 1400.0,805.08 1400.5,805.10 1401.0,805.12 1401.5,805.14 1402.0,805.16 1402.5,805.18 1403.0,805.20 1403.5,805.22 1404.0,805.24 1404.5,805.26 1405.0,805.27 1405.5,805.29 1406.0,805.30 1406.5,805.32 1407.0,805.33 1407.5,805.35 1408.0,805.36 1408.5,805.37 1409.0,805.39 1409.5,805.40 1410.0,805.41 1410.5,805.42 1411.0,805.43 1411.5,805.44 1412.0,805.45 1412.5,805.45 1413.0,805.46 1413.5,805.47 1414.0,805.47 1414.5,805.48 1415.0,805.48 1415.5,805.49 1416.0,805.49 1416.5,805.49 1417.0,805.50 1417.5,805.50 1418.0,805.50 1418.5,805.50 1419.0,805.50 1419.5,805.49 1420.0,805.48 1420.5,805.47 1421.0,805.45 1421.5,805.43 1422.0,805.40 1422.5,805.38 1423.0,805.34 1423.5,805.31 1424.0,805.27 1424.5,805.23 1425.0,805.19 1425.5,805.14 1426.0,805.09 1426.5,805.04 1427.0,804.98 1427.5,804.93 1428.0,804.87 1428.5,804.80 1429.0,804.74 1429.5,804.67 1430.0,804.61 1430.5,804.54 1431.0,804.46 1431.5,804.39 1432.0,804.31 1432.5,804.24 1433.0,804.16 1433.5,804.08 1434.0,804.00 1434.5,803.92 1435.0,803.83 1435.5,803.75 1436.0,803.67 1436.5,803.58 1437.0,803.49 1437.5,803.41 1438.0,803.32 1438.5,803.23 1439.0,803.14 1439.5,803.04 1440.0,802.94 1440.5,802.83 1441.0,802.71 1441.5,802.58 1442.0,802.45 1442.5,802.31 1443.0,802.17 1443.5,802.02 1444.0,801.86 1444.5,801.70 1445.0,801.53 1445.5,801.36 1446.0,801.18 1446.5,800.99 1447.0,800.81 1447.5,800.62 1448.0,800.42 1448.5,800.22 1449.0,800.01 1449.5,799.81 1450.0,799.59 1450.5,799.38 1451.0,799.16 1451.5,798.94 1452.0,798.70 1452.5,798.46 1453.0,798.20 1453.5,797.93 1454.0,797.65 1454.5,797.36 1455.0,797.06 1455.5,796.76 1456.0,796.44 1456.5,796.11 1457.0,795.78 1457.5,795.43 1458.0,795.08 1458.5,794.72 1459.0,794.36 1459.5,793.99 1460.0,793.61 1460.5,793.22 1461.0,792.83 1461.5,792.44 1462.0,792.04 1462.5,791.63 1463.0,791.22 1463.5,790.81 1464.0,790.38 1464.5,789.92 1465.0,789.41 1465.5,788.87 1466.0,788.30 1466.5,787.70 1467.0,787.09 1467.5,786.46 1468.0,785.83 1468.5,785.20 1469.0,784.57 1469.5,783.95 1470.0,783.34 1470.5,782.76 1471.0,782.21 1471.5,781.68 1472.0,781.20 1472.5,780.76 1473.0,780.37 1473.5,780.03 1474.0,779.75 1474.5,779.48 1475.0,779.20 1475.5,778.94 1476.0,778.68 1476.5,778.44 1477.0,778.22 1477.5,778.02 1478.0,777.84 1478.5,777.70 1479.0,777.59 1479.5,777.52 1480.0,777.50 1480.5,777.53 1481.0,777.61 1481.5,777.75 1482.0,777.93 1482.5,778.15 1483.0,778.41 1483.5,778.70 1484.0,779.01 1484.5,779.35 1485.0,779.71 1485.5,780.07 1486.0,780.45 1486.5,780.82 1487.0,781.20 1487.5,781.57 1488.0,781.95 1488.5,782.37 1489.0,782.84 1489.5,783.35 1490.0,783.88 1490.5,784.44 1491.0,785.02 1491.5,785.61 1492.0,786.21 1492.5,786.81 1493.0,787.40 1493.5,787.98 1494.0,788.55 1494.5,789.10 1495.0,789.61 1495.5,790.13 1496.0,790.69 1496.5,791.28 1497.0,791.89 1497.5,792.50 1498.0,793.10 1498.5,793.66 1499.0,794.18 1499.5,794.63 1500.0,795.01 1500.5,795.29 1501.0,795.46 1501.5,795.50 1502.0,795.48 1502.5,795.44 1503.0,795.38 1503.5,795.31 1504.0,795.21 1504.5,795.10 1505.0,794.98 1505.5,794.85 1506.0,794.71 1506.5,794.57 1507.0,794.42 1507.5,794.27 1508.0,794.12 1508.5,793.93 1509.0,793.71 1509.5,793.47 1510.0,793.19 1510.5,792.90 1511.0,792.58 1511.5,792.25 1512.0,791.90 1512.5,791.54 1513.0,791.18 1513.5,790.81 1514.0,790.44 1514.5,790.07 1515.0,789.70 1515.5,789.34 1516.0,788.99 1516.5,788.66 1517.0,788.34 1517.5,788.04 1518.0,787.76 1518.5,787.48 1519.0,787.20 1519.5,786.92 1520.0,786.64 1520.5,786.36 1521.0,786.09 1521.5,785.81 1522.0,785.55 1522.5,785.28 1523.0,785.02 1523.5,784.76 1524.0,784.52 1524.5,784.27 1525.0,784.04 1525.5,783.81 1526.0,783.59 1526.5,783.39 1527.0,783.19 1527.5,783.00 1528.0,782.82 1528.5,782.64 1529.0,782.46 1529.5,782.27 1530.0,782.08 1530.5,781.89 1531.0,781.71 1531.5,781.53 1532.0,781.35 1532.5,781.17 1533.0,781.01 1533.5,780.84 1534.0,780.69 1534.5,780.55 1535.0,780.42 1535.5,780.29 1536.0,780.18 1536.5,780.09 1537.0,780.01 1537.5,779.94 1538.0,779.90 1538.5,779.87 1539.0,779.86 1539.5,779.86 1540.0,779.86 1540.5,779.87 1541.0,779.88 1541.5,779.90 1542.0,779.91 1542.5,779.93 1543.0,779.96 1543.5,779.98 1544.0,780.01 1544.5,780.04 1545.0,780.07 1545.5,780.11 1546.0,780.15 1546.5,780.19 1547.0,780.23 1547.5,780.27 1548.0,780.32 1548.5,780.37 1549.0,780.42 1549.5,780.49 1550.0,780.60 1550.5,780.75 1551.0,780.93 1551.5,781.14 1552.0,781.37 1552.5,781.61 1553.0,781.87 1553.5,782.12 1554.0,782.38 1554.5,782.62 1555.0,782.86 1555.5,783.07 1556.0,783.25 1556.5,783.40 1557.0,783.53 1557.5,783.66 1558.0,783.78 1558.5,783.91 1559.0,784.04 1559.5,784.16 1560.0,784.28 1560.5,784.40 1561.0,784.51 1561.5,784.62 1562.0,784.72 1562.5,784.81 1563.0,784.90 1563.5,784.97 1564.0,785.04 1564.5,785.10 1565.0,785.15 1565.5,785.18 1566.0,785.20 1566.5,785.21 1567.0,785.21 1567.5,785.20 1568.0,785.18 1568.5,785.15 1569.0,785.11 1569.5,785.07 1570.0,785.03 1570.5,784.98 1571.0,784.93 1571.5,784.87 1572.0,784.81 1572.5,784.76 1573.0,784.70 1573.5,784.65 1574.0,784.59 1574.5,784.54 1575.0,784.50 1575.5,784.46 1576.0,784.42 1576.5,784.39 1577.0,784.37 1577.5,784.36 1578.0,784.36 1578.5,784.40 1579.0,784.49 1579.5,784.62 1580.0,784.80 1580.5,785.02 1581.0,785.27 1581.5,785.54 1582.0,785.84 1582.5,786.16 1583.0,786.49 1583.5,786.83 1584.0,787.17 1584.5,787.51 1585.0,787.84 1585.5,788.16 1586.0,788.47 1586.5,788.75 1587.0,789.02 1587.5,789.29 1588.0,789.57 1588.5,789.85 1589.0,790.14 1589.5,790.44 1590.0,790.73 1590.5,791.01 1591.0,791.30 1591.5,791.58 1592.0,791.85 1592.5,792.11 1593.0,792.36 1593.5,792.59 1594.0,792.81 1594.5,793.01 1595.0,793.21 1595.5,793.42 1596.0,793.63 1596.5,793.84 1597.0,794.05 1597.5,794.26 1598.0,794.46 1598.5,794.66 1599.0,794.85 1599.5,795.03 1600.0,795.20 1600.5,795.36 1601.0,795.51 1601.5,795.64 1602.0,795.75 1602.5,795.84 1603.0,795.92 1603.5,795.97 1604.0,796.00 1604.5,795.99 1605.0,795.94 1605.5,795.83 1606.0,795.68 1606.5,795.50 1607.0,795.30 1607.5,795.09 1608.0,794.88 1608.5,794.68 1609.0,794.50 1609.5,794.36 1610.0,794.26 1610.5,794.22 1611.0,794.25 1611.5,794.38 1612.0,794.59 1612.5,794.88 1613.0,795.22 1613.5,795.59 1614.0,796.00 1614.5,796.41 1615.0,796.82 1615.5,797.21 1616.0,797.56 1616.5,797.87 1617.0,798.12 1617.5,798.28 1618.0,798.35 1618.5,798.35 1619.0,798.30 1619.5,798.23 1620.0,798.12 1620.5,797.98 1621.0,797.80 1621.5,797.59 1622.0,797.35 1622.5,797.07 1623.0,796.76 1623.5,796.42 1624.0,796.04 1624.5,795.63 1625.0,795.18 1625.5,794.70 1626.0,794.18 1626.5,793.62 1627.0,793.04 1627.5,792.41 1628.0,791.75 1628.5,791.06 1629.0,790.33" fill="none" stroke="#f20cde" stroke-width="2.9" stroke-linejoin="round" stroke-linecap="butt"/>
<path transform="scale(1 1.4)" d="M248.8,1001.21 249.3,1001.21 249.8,1001.21 250.3,1001.21 250.8,1001.21 251.3,1001.20 251.8,1001.20 252.3,1001.20 252.8,1001.20 253.3,1001.19 253.8,1001.19 254.3,1001.19 254.8,1001.19 255.3,1001.18 255.8,1001.18 256.3,1001.18 256.8,1001.18 257.3,1001.17 257.8,1001.17 258.3,1001.17 258.8,1001.17 259.3,1001.16 259.8,1001.16 260.3,1001.16 260.8,1001.16 261.3,1001.15 261.8,1001.15 262.3,1001.15 262.8,1001.14 263.3,1001.14 263.8,1001.14 264.3,1001.14 264.8,1001.13 265.3,1001.13 265.8,1001.13 266.3,1001.12 266.8,1001.12 267.3,1001.12 267.8,1001.12 268.3,1001.11 268.8,1001.11 269.3,1001.11 269.8,1001.10 270.3,1001.10 270.8,1001.10 271.3,1001.09 271.8,1001.09 272.3,1001.09 272.8,1001.08 273.3,1001.08 273.8,1001.08 274.3,1001.07 274.8,1001.07 275.3,1001.07 275.8,1001.06 276.3,1001.06 276.8,1001.06 277.3,1001.05 277.8,1001.05 278.3,1001.05 278.8,1001.04 279.3,1001.04 279.8,1001.04 280.3,1001.03 280.8,1001.03 281.3,1001.03 281.8,1001.02 282.3,1001.02 282.8,1001.02 283.3,1001.01 283.8,1001.01 284.3,1001.00 284.8,1001.00 285.3,1001.00 285.8,1000.99 286.3,1000.99 286.8,1000.99 287.3,1000.98 287.8,1000.98 288.3,1000.97 288.8,1000.97 289.3,1000.97 289.8,1000.96 290.3,1000.96 290.8,1000.95 291.3,1000.95 291.8,1000.95 292.3,1000.94 292.8,1000.94 293.3,1000.94 293.8,1000.93 294.3,1000.93 294.8,1000.92 295.3,1000.92 295.8,1000.91 296.3,1000.91 296.8,1000.91 297.3,1000.90 297.8,1000.90 298.3,1000.89 298.8,1000.89 299.3,1000.89 299.8,1000.88 300.3,1000.88 300.8,1000.87 301.3,1000.87 301.8,1000.86 302.3,1000.86 302.8,1000.86 303.3,1000.85 303.8,1000.85 304.3,1000.84 304.8,1000.84 305.3,1000.83 305.8,1000.83 306.3,1000.83 306.8,1000.82 307.3,1000.82 307.8,1000.81 308.3,1000.81 308.8,1000.80 309.3,1000.80 309.8,1000.79 310.3,1000.79 310.8,1000.79 311.3,1000.78 311.8,1000.78 312.3,1000.77 312.8,1000.77 313.3,1000.76 313.8,1000.76 314.3,1000.75 314.8,1000.75 315.3,1000.74 315.8,1000.74 316.3,1000.74 316.8,1000.73 317.3,1000.73 317.8,1000.72 318.3,1000.72 318.8,1000.71 319.3,1000.71 319.8,1000.70 320.3,1000.70 320.8,1000.69 321.3,1000.69 321.8,1000.68 322.3,1000.68 322.8,1000.67 323.3,1000.67 323.8,1000.66 324.3,1000.66 324.8,1000.65 325.3,1000.65 325.8,1000.65 326.3,1000.64 326.8,1000.64 327.3,1000.63 327.8,1000.63 328.3,1000.62 328.8,1000.62 329.3,1000.61 329.8,1000.61 330.3,1000.60 330.8,1000.60 331.3,1000.59 331.8,1000.59 332.3,1000.58 332.8,1000.58 333.3,1000.57 333.8,1000.57 334.3,1000.56 334.8,1000.56 335.3,1000.55 335.8,1000.55 336.3,1000.54 336.8,1000.54 337.3,1000.53 337.8,1000.53 338.3,1000.52 338.8,1000.52 339.3,1000.51 339.8,1000.51 340.3,1000.50 340.8,1000.50 341.3,1000.49 341.8,1000.49 342.3,1000.48 342.8,1000.48 343.3,1000.47 343.8,1000.47 344.3,1000.46 344.8,1000.46 345.3,1000.45 345.8,1000.45 346.3,1000.44 346.8,1000.44 347.3,1000.43 347.8,1000.42 348.3,1000.42 348.8,1000.41 349.3,1000.41 349.8,1000.40 350.3,1000.40 350.8,1000.39 351.3,1000.39 351.8,1000.38 352.3,1000.38 352.8,1000.37 353.3,1000.37 353.8,1000.36 354.3,1000.36 354.8,1000.35 355.3,1000.35 355.8,1000.34 356.3,1000.34 356.8,1000.33 357.3,1000.33 357.8,1000.32 358.3,1000.32 358.8,1000.31 359.3,1000.31 359.8,1000.30 360.3,1000.29 360.8,1000.29 361.3,1000.28 361.8,1000.28 362.3,1000.27 362.8,1000.27 363.3,1000.26 363.8,1000.26 364.3,1000.25 364.8,1000.24 365.3,1000.24 365.8,1000.23 366.3,1000.23 366.8,1000.22 367.3,1000.22 367.8,1000.21 368.3,1000.20 368.8,1000.20 369.3,1000.19 369.8,1000.19 370.3,1000.18 370.8,1000.18 371.3,1000.17 371.8,1000.16 372.3,1000.16 372.8,1000.15 373.3,1000.14 373.8,1000.14 374.3,1000.13 374.8,1000.13 375.3,1000.12 375.8,1000.11 376.3,1000.11 376.8,1000.10 377.3,1000.09 377.8,1000.09 378.3,1000.08 378.8,1000.07 379.3,1000.07 379.8,1000.06 380.3,1000.05 380.8,1000.05 381.3,1000.04 381.8,1000.03 382.3,1000.03 382.8,1000.02 383.3,1000.01 383.8,1000.01 384.3,1000.00 384.8,999.99 385.3,999.99 385.8,999.98 386.3,999.97 386.8,999.96 387.3,999.96 387.8,999.95 388.3,999.94 388.8,999.93 389.3,999.93 389.8,999.92 390.3,999.91 390.8,999.90 391.3,999.89 391.8,999.89 392.3,999.88 392.8,999.87 393.3,999.86 393.8,999.85 394.3,999.85 394.8,999.84 395.3,999.83 395.8,999.82 396.3,999.81 396.8,999.80 397.3,999.80 397.8,999.79 398.3,999.78 398.8,999.77 399.3,999.76 399.8,999.75 400.3,999.74 400.8,999.73 401.3,999.72 401.8,999.72 402.3,999.71 402.8,999.70 403.3,999.69 403.8,999.68 404.3,999.67 404.8,999.66 405.3,999.65 405.8,999.64 406.3,999.63 406.8,999.62 407.3,999.61 407.8,999.60 408.3,999.59 408.8,999.58 409.3,999.57 409.8,999.56 410.3,999.55 410.8,999.54 411.3,999.53 411.8,999.52 412.3,999.50 412.8,999.49 413.3,999.48 413.8,999.47 414.3,999.46 414.8,999.45 415.3,999.44 415.8,999.43 416.3,999.41 416.8,999.40 417.3,999.39 417.8,999.38 418.3,999.37 418.8,999.36 419.3,999.35 419.8,999.34 420.3,999.33 420.8,999.32 421.3,999.31 421.8,999.30 422.3,999.28 422.8,999.27 423.3,999.26 423.8,999.25 424.3,999.24 424.8,999.23 425.3,999.21 425.8,999.20 426.3,999.19 426.8,999.18 427.3,999.16 427.8,999.15 428.3,999.13 428.8,999.12 429.3,999.10 429.8,999.09 430.3,999.07 430.8,999.05 431.3,999.04 431.8,999.02 432.3,999.00 432.8,998.98 433.3,998.96 433.8,998.94 434.3,998.92 434.8,998.89 435.3,998.87 435.8,998.85 436.3,998.82 436.8,998.80 437.3,998.77 437.8,998.74 438.3,998.71 438.8,998.68 439.3,998.65 439.8,998.62 440.3,998.59 440.8,998.55 441.3,998.52 441.8,998.48 442.3,998.45 442.8,998.41 443.3,998.37 443.8,998.33 444.3,998.29 444.8,998.24 445.3,998.20 445.8,998.15 446.3,998.09 446.8,998.00 447.3,997.87 447.8,997.71 448.3,997.52 448.8,997.30 449.3,997.06 449.8,996.80 450.3,996.52 450.8,996.23 451.3,995.92 451.8,995.61 452.3,995.29 452.8,994.96 453.3,994.64 453.8,994.30 454.3,993.95 454.8,993.58 455.3,993.18 455.8,992.75 456.3,992.30 456.8,991.81 457.3,991.29 457.8,990.74 458.3,990.15 458.8,989.52 459.3,988.85 459.8,988.14 460.3,987.29 460.8,986.30 461.3,985.18 461.8,983.94 462.3,982.62 462.8,981.23 463.3,979.80 463.8,978.34 464.3,976.87 464.8,975.43 465.3,973.96 465.8,972.47 466.3,970.94 466.8,969.37 467.3,967.75 467.8,966.09 468.3,964.39 468.8,962.63 469.3,960.81 469.8,958.95 470.3,957.02 470.8,955.03 471.3,952.97 471.8,950.85 472.3,948.67 472.8,946.40 473.3,944.06 473.8,941.64 474.3,939.12 474.8,936.52 475.3,933.81 475.8,931.01 476.3,928.09 476.8,925.07 477.3,921.93 477.8,918.57 478.3,914.94 478.8,911.05 479.3,906.96 479.8,902.69 480.3,898.28 480.8,893.77 481.3,889.10 481.8,884.14 482.3,878.96 482.8,873.62 483.3,868.20 483.8,862.75 484.3,857.28 484.8,851.73 485.3,846.03 485.8,840.11 486.3,833.93 486.8,827.06 487.3,819.57 487.8,812.12 488.3,805.36 488.8,799.64 489.3,794.19 489.8,789.32 490.3,785.46 490.8,782.69 491.3,780.36 491.8,779.36 492.3,780.12 492.8,781.91 493.3,783.99 493.8,786.50 494.3,789.69 494.8,793.51 495.3,798.24 495.8,804.70 496.3,812.27 496.8,820.18 497.3,827.67 497.8,835.20 498.3,842.88 498.8,850.33 499.3,857.14 499.8,863.42 500.3,869.48 500.8,875.23 501.3,880.59 501.8,885.48 502.3,889.81 502.8,893.71 503.3,897.27 503.8,900.60 504.3,903.79 504.8,906.94 505.3,910.12 505.8,913.32 506.3,916.50 506.8,919.64 507.3,922.71 507.8,925.67 508.3,928.50 508.8,931.16 509.3,933.63 509.8,935.87 510.3,937.92 510.8,939.88 511.3,941.77 511.8,943.57 512.3,945.28 512.8,946.88 513.3,948.39 513.8,949.78 514.3,951.06 514.8,952.21 515.3,953.26 515.8,954.23 516.3,955.14 516.8,955.99 517.3,956.80 517.8,957.56 518.3,958.29 518.8,959.00 519.3,959.69 519.8,960.37 520.3,961.04 520.8,961.73 521.3,962.43 521.8,963.09 522.3,963.72 522.8,964.32 523.3,964.89 523.8,965.46 524.3,966.02 524.8,966.60 525.3,967.19 525.8,967.83 526.3,968.50 526.8,969.23 527.3,970.02 527.8,970.92 528.3,972.03 528.8,973.31 529.3,974.72 529.8,976.18 530.3,977.66 530.8,979.10 531.3,980.44 531.8,981.63 532.3,982.61 532.8,983.37 533.3,984.08 533.8,984.76 534.3,985.39 534.8,985.97 535.3,986.52 535.8,987.01 536.3,987.45 536.8,987.84 537.3,988.17 537.8,988.45 538.3,988.69 538.8,988.91 539.3,989.10 539.8,989.28 540.3,989.44 540.8,989.58 541.3,989.73 541.8,989.87 542.3,990.01 542.8,990.16 543.3,990.32 543.8,990.49 544.3,990.69 544.8,990.91 545.3,991.16 545.8,991.47 546.3,991.83 546.8,992.23 547.3,992.65 547.8,993.09 548.3,993.53 548.8,993.96 549.3,994.36 549.8,994.73 550.3,995.05 550.8,995.31 551.3,995.50 551.8,995.64 552.3,995.78 552.8,995.92 553.3,996.04 553.8,996.17 554.3,996.28 554.8,996.39 555.3,996.50 555.8,996.60 556.3,996.70 556.8,996.79 557.3,996.88 557.8,996.96 558.3,997.04 558.8,997.11 559.3,997.18 559.8,997.25 560.3,997.31 560.8,997.37 561.3,997.42 561.8,997.47 562.3,997.52 562.8,997.56 563.3,997.60 563.8,997.64 564.3,997.67 564.8,997.70 565.3,997.74 565.8,997.77 566.3,997.80 566.8,997.83 567.3,997.86 567.8,997.89 568.3,997.92 568.8,997.95 569.3,997.98 569.8,998.00 570.3,998.03 570.8,998.05 571.3,998.08 571.8,998.10 572.3,998.13 572.8,998.15 573.3,998.18 573.8,998.20 574.3,998.22 574.8,998.24 575.3,998.26 575.8,998.28 576.3,998.30 576.8,998.32 577.3,998.34 577.8,998.36 578.3,998.38 578.8,998.40 579.3,998.41 579.8,998.43 580.3,998.45 580.8,998.46 581.3,998.48 581.8,998.49 582.3,998.51 582.8,998.52 583.3,998.54 583.8,998.55 584.3,998.56 584.8,998.58 585.3,998.59 585.8,998.60 586.3,998.61 586.8,998.62 587.3,998.63 587.8,998.64 588.3,998.65 588.8,998.66 589.3,998.67 589.8,998.68 590.3,998.69 590.8,998.70 591.3,998.71 591.8,998.72 592.3,998.73 592.8,998.74 593.3,998.74 593.8,998.75 594.3,998.76 594.8,998.77 595.3,998.78 595.8,998.79 596.3,998.79 596.8,998.80 597.3,998.81 597.8,998.82 598.3,998.83 598.8,998.83 599.3,998.84 599.8,998.85 600.3,998.86 600.8,998.86 601.3,998.87 601.8,998.88 602.3,998.89 602.8,998.90 603.3,998.90 603.8,998.91 604.3,998.92 604.8,998.92 605.3,998.93 605.8,998.94 606.3,998.95 606.8,998.95 607.3,998.96 607.8,998.97 608.3,998.98 608.8,998.98 609.3,998.99 609.8,999.00 610.3,999.00 610.8,999.01 611.3,999.02 611.8,999.02 612.3,999.03 612.8,999.04 613.3,999.04 613.8,999.05 614.3,999.06 614.8,999.06 615.3,999.07 615.8,999.08 616.3,999.08 616.8,999.09 617.3,999.10 617.8,999.10 618.3,999.11 618.8,999.11 619.3,999.12 619.8,999.13 620.3,999.13 620.8,999.14 621.3,999.14 621.8,999.15 622.3,999.16 622.8,999.16 623.3,999.17 623.8,999.17 624.3,999.18 624.8,999.18 625.3,999.19 625.8,999.19 626.3,999.20 626.8,999.21 627.3,999.21 627.8,999.22 628.3,999.22 628.8,999.23 629.3,999.23 629.8,999.24 630.3,999.24 630.8,999.25 631.3,999.25 631.8,999.26 632.3,999.26 632.8,999.26 633.3,999.27 633.8,999.27 634.3,999.28 634.8,999.28 635.3,999.29 635.8,999.29 636.3,999.30 636.8,999.30 637.3,999.30 637.8,999.31 638.3,999.31 638.8,999.32 639.3,999.32 639.8,999.32 640.3,999.33 640.8,999.33 641.3,999.33 641.8,999.34 642.3,999.34 642.8,999.34 643.3,999.35 643.8,999.35 644.3,999.35 644.8,999.36 645.3,999.36 645.8,999.36 646.3,999.37 646.8,999.37 647.3,999.37 647.8,999.38 648.3,999.38 648.8,999.38 649.3,999.38 649.8,999.39 650.3,999.39 650.8,999.39 651.3,999.39 651.8,999.40 652.3,999.40 652.8,999.40 653.3,999.40 653.8,999.40 654.3,999.41 654.8,999.41 655.3,999.41 655.8,999.41 656.3,999.41 656.8,999.41 657.3,999.41 657.8,999.42 658.3,999.42 658.8,999.42 659.3,999.42 659.8,999.42 660.3,999.42 660.8,999.42 661.3,999.42 661.8,999.42 662.3,999.43 662.8,999.43 663.3,999.43 663.8,999.43 664.3,999.43 664.8,999.43 665.3,999.43 665.8,999.43 666.3,999.43 666.8,999.43 667.3,999.43 667.8,999.43 668.3,999.43 668.8,999.43 669.3,999.43 669.8,999.43 670.3,999.43 670.8,999.43 671.3,999.42 671.8,999.42 672.3,999.42 672.8,999.42 673.3,999.42 673.8,999.42 674.3,999.42 674.8,999.42 675.3,999.41 675.8,999.41 676.3,999.41 676.8,999.41 677.3,999.41 677.8,999.41 678.3,999.40 678.8,999.40 679.3,999.40 679.8,999.40 680.3,999.40 680.8,999.39 681.3,999.39 681.8,999.39 682.3,999.39 682.8,999.38 683.3,999.38 683.8,999.38 684.3,999.37 684.8,999.37 685.3,999.37 685.8,999.37 686.3,999.36 686.8,999.36 687.3,999.36 687.8,999.35 688.3,999.35 688.8,999.35 689.3,999.35 689.8,999.34 690.3,999.34 690.8,999.34 691.3,999.33 691.8,999.33 692.3,999.33 692.8,999.32 693.3,999.32 693.8,999.32 694.3,999.31 694.8,999.31 695.3,999.31 695.8,999.30 696.3,999.30 696.8,999.30 697.3,999.29 697.8,999.29 698.3,999.29 698.8,999.28 699.3,999.28 699.8,999.28 700.3,999.27 700.8,999.27 701.3,999.27 701.8,999.26 702.3,999.26 702.8,999.26 703.3,999.25 703.8,999.25 704.3,999.25 704.8,999.24 705.3,999.24 705.8,999.24 706.3,999.23 706.8,999.23 707.3,999.23 707.8,999.22 708.3,999.22 708.8,999.22 709.3,999.21 709.8,999.21 710.3,999.21 710.8,999.21 711.3,999.20 711.8,999.20 712.3,999.20 712.8,999.19 713.3,999.19 713.8,999.19 714.3,999.19 714.8,999.18 715.3,999.18 715.8,999.18 716.3,999.18 716.8,999.18 717.3,999.17 717.8,999.17 718.3,999.17 718.8,999.17 719.3,999.16 719.8,999.16 720.3,999.16 720.8,999.16 721.3,999.16 721.8,999.16 722.3,999.15 722.8,999.15 723.3,999.15 723.8,999.15 724.3,999.15 724.8,999.15 725.3,999.15 725.8,999.15 726.3,999.15 726.8,999.14 727.3,999.14 727.8,999.14 728.3,999.14 728.8,999.14 729.3,999.14 729.8,999.14 730.3,999.14 730.8,999.14 731.3,999.14 731.8,999.14 732.3,999.14 732.8,999.14 733.3,999.14 733.8,999.14 734.3,999.14 734.8,999.14 735.3,999.14 735.8,999.14 736.3,999.14 736.8,999.14 737.3,999.14 737.8,999.14 738.3,999.14 738.8,999.14 739.3,999.14 739.8,999.14 740.3,999.14 740.8,999.14 741.3,999.14 741.8,999.14 742.3,999.14 742.8,999.14 743.3,999.14 743.8,999.14 744.3,999.14 744.8,999.14 745.3,999.14 745.8,999.14 746.3,999.14 746.8,999.14 747.3,999.14 747.8,999.14 748.3,999.14 748.8,999.14 749.3,999.14 749.8,999.14 750.3,999.14 750.8,999.14 751.3,999.14 751.8,999.14 752.3,999.14 752.8,999.14 753.3,999.14 753.8,999.14 754.3,999.14 754.8,999.14 755.3,999.14 755.8,999.14 756.3,999.14 756.8,999.14 757.3,999.14 757.8,999.14 758.3,999.14 758.8,999.14 759.3,999.14 759.8,999.14 760.3,999.14 760.8,999.14 761.3,999.14 761.8,999.12 762.3,998.98 762.8,998.74 763.3,998.40 763.8,997.99 764.3,997.52 764.8,996.99 765.3,996.44 765.8,995.87 766.3,995.29 766.8,994.73 767.3,994.20 767.8,993.71 768.3,993.26 768.8,992.83 769.3,992.41 769.8,991.99 770.3,991.56 770.8,991.13 771.3,990.67 771.8,990.20 772.3,989.69 772.8,989.14 773.3,988.55 773.8,987.91 774.3,987.20 774.8,986.33 775.3,985.31 775.8,984.15 776.3,982.89 776.8,981.56 777.3,980.17 777.8,978.75 778.3,977.34 778.8,975.95 779.3,974.62 779.8,973.36 780.3,972.21 780.8,971.08 781.3,969.85 781.8,968.58 782.3,967.28 782.8,966.00 783.3,964.76 783.8,963.59 784.3,962.54 784.8,961.62 785.3,960.88 785.8,960.35 786.3,960.05 786.8,960.01 787.3,960.11 787.8,960.30 788.3,960.59 788.8,960.97 789.3,961.41 789.8,961.92 790.3,962.48 790.8,963.09 791.3,963.73 791.8,964.40 792.3,965.09 792.8,965.79 793.3,966.57 793.8,967.58 794.3,968.78 794.8,970.14 795.3,971.62 795.8,973.19 796.3,974.79 796.8,976.40 797.3,977.98 797.8,979.49 798.3,980.88 798.8,982.13 799.3,983.20 799.8,984.19 800.3,985.17 800.8,986.13 801.3,987.05 801.8,987.95 802.3,988.80 802.8,989.61 803.3,990.37 803.8,991.07 804.3,991.71 804.8,992.27 805.3,992.77 805.8,993.21 806.3,993.64 806.8,994.08 807.3,994.50 807.8,994.90 808.3,995.29 808.8,995.66 809.3,996.01 809.8,996.32 810.3,996.60 810.8,996.84 811.3,997.04 811.8,997.20 812.3,997.30 812.8,997.35 813.3,997.36 813.8,997.36 814.3,997.36 814.8,997.36 815.3,997.36 815.8,997.36 816.3,997.36 816.8,997.36 817.3,997.36 817.8,997.36 818.3,997.36 818.8,997.36 819.3,997.36 819.8,997.36 820.3,997.36 820.8,997.36 821.3,997.38 821.8,997.42 822.3,997.48 822.8,997.55 823.3,997.63 823.8,997.72 824.3,997.81 824.8,997.91 825.3,998.02 825.8,998.12 826.3,998.23 826.8,998.33 827.3,998.43 827.8,998.52 828.3,998.60 828.8,998.67 829.3,998.72 829.8,998.76 830.3,998.78 830.8,998.78 831.3,998.77 831.8,998.74 832.3,998.70 832.8,998.64 833.3,998.57 833.8,998.48 834.3,998.39 834.8,998.28 835.3,998.17 835.8,998.04 836.3,997.91 836.8,997.76 837.3,997.61 837.8,997.45 838.3,997.28 838.8,997.04 839.3,996.71 839.8,996.31 840.3,995.84 840.8,995.31 841.3,994.72 841.8,994.09 842.3,993.41 842.8,992.70 843.3,991.95 843.8,991.19 844.3,990.41 844.8,989.62 845.3,988.83 845.8,988.03 846.3,987.14 846.8,986.14 847.3,985.06 847.8,983.93 848.3,982.76 848.8,981.58 849.3,980.41 849.8,979.27 850.3,978.19 850.8,977.16 851.3,976.06 851.8,974.90 852.3,973.72 852.8,972.56 853.3,971.49 853.8,970.55 854.3,969.78 854.8,969.24 855.3,968.96 855.8,968.80 856.3,968.65 856.8,968.52 857.3,968.42 857.8,968.34 858.3,968.30 858.8,968.29 859.3,968.47 859.8,968.88 860.3,969.45 860.8,970.15 861.3,970.92 861.8,971.72 862.3,972.49 862.8,973.19 863.3,973.77 863.8,974.17 864.3,974.35 864.8,974.34 865.3,974.26 865.8,974.14 866.3,973.97 866.8,973.76 867.3,973.53 867.8,973.29 868.3,973.02 868.8,972.76 869.3,972.50 869.8,972.25 870.3,972.02 870.8,971.82 871.3,971.61 871.8,971.38 872.3,971.15 872.8,970.90 873.3,970.65 873.8,970.40 874.3,970.16 874.8,969.92 875.3,969.71 875.8,969.51 876.3,969.34 876.8,969.20 877.3,969.09 877.8,969.02 878.3,969.00 878.8,969.02 879.3,969.09 879.8,969.19 880.3,969.33 880.8,969.51 881.3,969.70 881.8,969.93 882.3,970.17 882.8,970.42 883.3,970.69 883.8,970.97 884.3,971.25 884.8,971.54 885.3,971.92 885.8,972.37 886.3,972.88 886.8,973.44 887.3,974.03 887.8,974.64 888.3,975.26 888.8,975.87 889.3,976.45 889.8,977.00 890.3,977.50 890.8,977.93 891.3,978.32 891.8,978.69 892.3,979.05 892.8,979.39 893.3,979.73 893.8,980.05 894.3,980.37 894.8,980.67 895.3,980.97 895.8,981.26 896.3,981.55 896.8,981.83 897.3,982.10 897.8,982.37 898.3,982.64 898.8,982.91 899.3,983.19 899.8,983.47 900.3,983.74 900.8,984.02 901.3,984.28 901.8,984.55 902.3,984.80 902.8,985.05 903.3,985.28 903.8,985.50 904.3,985.70 904.8,985.88 905.3,986.05 905.8,986.19 906.3,986.31 906.8,986.44 907.3,986.56 907.8,986.69 908.3,986.80 908.8,986.92 909.3,987.02 909.8,987.12 910.3,987.21 910.8,987.29 911.3,987.36 911.8,987.42 912.3,987.46 912.8,987.49 913.3,987.50 913.8,987.50 914.3,987.48 914.8,987.45 915.3,987.42 915.8,987.37 916.3,987.31 916.8,987.25 917.3,987.18 917.8,987.10 918.3,987.01 918.8,986.91 919.3,986.81 919.8,986.70 920.3,986.59 920.8,986.48 921.3,986.36 921.8,986.23 922.3,986.11 922.8,985.98 923.3,985.85 923.8,985.72 924.3,985.59 924.8,985.46 925.3,985.32 925.8,985.19 926.3,985.06 926.8,984.92 927.3,984.77 927.8,984.61 928.3,984.44 928.8,984.26 929.3,984.07 929.8,983.87 930.3,983.67 930.8,983.47 931.3,983.25 931.8,983.04 932.3,982.82 932.8,982.61 933.3,982.39 933.8,982.17 934.3,981.95 934.8,981.73 935.3,981.51 935.8,981.30 936.3,981.09 936.8,980.88 937.3,980.67 937.8,980.46 938.3,980.25 938.8,980.04 939.3,979.82 939.8,979.61 940.3,979.39 940.8,979.17 941.3,978.95 941.8,978.73 942.3,978.50 942.8,978.27 943.3,978.04 943.8,977.80 944.3,977.56 944.8,977.32 945.3,977.07 945.8,976.82 946.3,976.56 946.8,976.30 947.3,976.05 947.8,975.79 948.3,975.52 948.8,975.26 949.3,974.98 949.8,974.70 950.3,974.41 950.8,974.12 951.3,973.81 951.8,973.49 952.3,973.15 952.8,972.80 953.3,972.44 953.8,972.06 954.3,971.63 954.8,971.15 955.3,970.64 955.8,970.09 956.3,969.51 956.8,968.92 957.3,968.32 957.8,967.72 958.3,967.12 958.8,966.52 959.3,965.95 959.8,965.40 960.3,964.89 960.8,964.41 961.3,963.97 961.8,963.52 962.3,963.04 962.8,962.56 963.3,962.08 963.8,961.62 964.3,961.18 964.8,960.77 965.3,960.41 965.8,960.11 966.3,959.87 966.8,959.71 967.3,959.64 967.8,959.65 968.3,959.68 968.8,959.74 969.3,959.81 969.8,959.90 970.3,960.01 970.8,960.13 971.3,960.26 971.8,960.40 972.3,960.54 972.8,960.72 973.3,960.98 973.8,961.32 974.3,961.72 974.8,962.17 975.3,962.65 975.8,963.16 976.3,963.68 976.8,964.20 977.3,964.70 977.8,965.18 978.3,965.61 978.8,966.00 979.3,966.38 979.8,966.76 980.3,967.15 980.8,967.54 981.3,967.92 981.8,968.30 982.3,968.67 982.8,969.02 983.3,969.36 983.8,969.67 984.3,969.96 984.8,970.23 985.3,970.46 985.8,970.66 986.3,970.81 986.8,970.96 987.3,971.10 987.8,971.24 988.3,971.37 988.8,971.50 989.3,971.62 989.8,971.73 990.3,971.84 990.8,971.93 991.3,972.01 991.8,972.08 992.3,972.14 992.8,972.18 993.3,972.21 993.8,972.21 994.3,972.20 994.8,972.16 995.3,972.10 995.8,972.02 996.3,971.91 996.8,971.79 997.3,971.65 997.8,971.49 998.3,971.32 998.8,971.14 999.3,970.94 999.8,970.74 1000.3,970.52 1000.8,970.30 1001.3,970.07 1001.8,969.81 1002.3,969.48 1002.8,969.08 1003.3,968.64 1003.8,968.14 1004.3,967.60 1004.8,967.01 1005.3,966.40 1005.8,965.76 1006.3,965.09 1006.8,964.40 1007.3,963.71 1007.8,963.00 1008.3,962.22 1008.8,961.37 1009.3,960.45 1009.8,959.48 1010.3,958.46 1010.8,957.41 1011.3,956.32 1011.8,955.21 1012.3,954.08 1012.8,952.95 1013.3,951.83 1013.8,950.71 1014.3,949.58 1014.8,948.41 1015.3,947.19 1015.8,945.95 1016.3,944.69 1016.8,943.42 1017.3,942.15 1017.8,940.88 1018.3,939.64 1018.8,938.42 1019.3,937.23 1019.8,936.09 1020.3,934.99 1020.8,933.85 1021.3,932.68 1021.8,931.49 1022.3,930.33 1022.8,929.22 1023.3,928.19 1023.8,927.27 1024.3,926.48 1024.8,925.85 1025.3,925.41 1025.8,925.04 1026.3,924.71 1026.8,924.41 1027.3,924.14 1027.8,923.89 1028.3,923.67 1028.8,923.46 1029.3,923.27 1029.8,923.08 1030.3,922.89 1030.8,922.72 1031.3,922.58 1031.8,922.45 1032.3,922.33 1032.8,922.22 1033.3,922.12 1033.8,922.00 1034.3,921.88 1034.8,921.74 1035.3,921.59 1035.8,921.40 1036.3,921.19 1036.8,920.92 1037.3,920.58 1037.8,920.15 1038.3,919.64 1038.8,919.06 1039.3,918.42 1039.8,917.71 1040.3,916.94 1040.8,916.11 1041.3,915.22 1041.8,914.26 1042.3,913.10 1042.8,911.73 1043.3,910.17 1043.8,908.41 1044.3,906.48 1044.8,904.39 1045.3,902.13 1045.8,899.72 1046.3,897.07 1046.8,893.81 1047.3,890.01 1047.8,885.81 1048.3,881.30 1048.8,876.62 1049.3,871.88 1049.8,867.04 1050.3,861.62 1050.8,855.90 1051.3,850.23 1051.8,844.98 1052.3,840.10 1052.8,834.75 1053.3,830.02 1053.8,827.22 1054.3,827.31 1054.8,829.38 1055.3,832.79 1055.8,836.97 1056.3,841.37 1056.8,845.77 1057.3,851.08 1057.8,857.12 1058.3,863.58 1058.8,870.16 1059.3,876.56 1059.8,882.65 1060.3,888.95 1060.8,895.36 1061.3,901.69 1061.8,907.77 1062.3,913.41 1062.8,918.43 1063.3,922.98 1063.8,927.32 1064.3,931.43 1064.8,935.31 1065.3,938.94 1065.8,942.31 1066.3,945.42 1066.8,948.25 1067.3,950.96 1067.8,953.56 1068.3,956.04 1068.8,958.38 1069.3,960.56 1069.8,962.56 1070.3,964.38 1070.8,965.99 1071.3,967.40 1071.8,968.73 1072.3,969.99 1072.8,971.19 1073.3,972.32 1073.8,973.35 1074.3,974.29 1074.8,975.12 1075.3,975.84 1075.8,976.43 1076.3,976.89 1076.8,977.32 1077.3,977.73 1077.8,978.13 1078.3,978.49 1078.8,978.82 1079.3,979.11 1079.8,979.36 1080.3,979.56 1080.8,979.70 1081.3,979.77 1081.8,979.78 1082.3,979.69 1082.8,979.51 1083.3,979.25 1083.8,978.91 1084.3,978.50 1084.8,978.02 1085.3,977.48 1085.8,976.90 1086.3,976.26 1086.8,975.59 1087.3,974.88 1087.8,974.15 1088.3,973.29 1088.8,972.13 1089.3,970.70 1089.8,969.03 1090.3,967.18 1090.8,965.18 1091.3,963.06 1091.8,960.89 1092.3,958.69 1092.8,956.50 1093.3,954.27 1093.8,951.80 1094.3,949.15 1094.8,946.36 1095.3,943.49 1095.8,940.59 1096.3,937.71 1096.8,934.90 1097.3,932.21 1097.8,929.69 1098.3,927.30 1098.8,924.87 1099.3,922.44 1099.8,920.04 1100.3,917.69 1100.8,915.45 1101.3,913.34 1101.8,911.40 1102.3,909.66 1102.8,908.17 1103.3,906.89 1103.8,905.61 1104.3,904.36 1104.8,903.16 1105.3,902.03 1105.8,901.02 1106.3,900.15 1106.8,899.46 1107.3,898.98 1107.8,898.74 1108.3,898.76 1108.8,899.02 1109.3,899.48 1109.8,900.11 1110.3,900.88 1110.8,901.74 1111.3,902.67 1111.8,903.63 1112.3,904.59 1112.8,905.51 1113.3,906.41 1113.8,907.47 1114.3,908.65 1114.8,909.92 1115.3,911.22 1115.8,912.50 1116.3,913.71 1116.8,914.80 1117.3,915.72 1117.8,916.43 1118.3,916.92 1118.8,917.38 1119.3,917.82 1119.8,918.22 1120.3,918.57 1120.8,918.87 1121.3,919.09 1121.8,919.24 1122.3,919.29 1122.8,919.15 1123.3,918.78 1123.8,918.19 1124.3,917.43 1124.8,916.53 1125.3,915.51 1125.8,914.42 1126.3,913.29 1126.8,912.14 1127.3,910.86 1127.8,909.32 1128.3,907.54 1128.8,905.57 1129.3,903.43 1129.8,901.17 1130.3,898.81 1130.8,896.39 1131.3,893.94 1131.8,891.50 1132.3,889.01 1132.8,886.39 1133.3,883.66 1133.8,880.83 1134.3,877.90 1134.8,874.89 1135.3,871.82 1135.8,868.69 1136.3,865.51 1136.8,862.29 1137.3,859.06 1137.8,855.81 1138.3,852.54 1138.8,849.08 1139.3,845.44 1139.8,841.66 1140.3,837.81 1140.8,833.94 1141.3,830.09 1141.8,826.33 1142.3,822.71 1142.8,819.27 1143.3,816.08 1143.8,813.18 1144.3,810.45 1144.8,807.58 1145.3,804.66 1145.8,801.81 1146.3,799.13 1146.8,796.73 1147.3,794.71 1147.8,793.18 1148.3,792.24 1148.8,792.01 1149.3,792.47 1149.8,793.50 1150.3,795.03 1150.8,796.96 1151.3,799.20 1151.8,801.67 1152.3,804.27 1152.8,806.91 1153.3,809.53 1153.8,812.51 1154.3,816.00 1154.8,819.92 1155.3,824.15 1155.8,828.61 1156.3,833.21 1156.8,837.85 1157.3,842.45 1157.8,846.89 1158.3,851.11 1158.8,855.33 1159.3,859.65 1159.8,864.02 1160.3,868.40 1160.8,872.74 1161.3,876.99 1161.8,881.10 1162.3,885.03 1162.8,888.73 1163.3,892.17 1163.8,895.52 1164.3,898.88 1164.8,902.19 1165.3,905.44 1165.8,908.57 1166.3,911.57 1166.8,914.38 1167.3,916.99 1167.8,919.35 1168.3,921.42 1168.8,923.18 1169.3,924.65 1169.8,926.09 1170.3,927.50 1170.8,928.85 1171.3,930.12 1171.8,931.27 1172.3,932.30 1172.8,933.17 1173.3,933.85 1173.8,934.32 1174.3,934.55 1174.8,934.56 1175.3,934.47 1175.8,934.32 1176.3,934.10 1176.8,933.84 1177.3,933.53 1177.8,933.18 1178.3,932.81 1178.8,932.42 1179.3,932.02 1179.8,931.58 1180.3,930.96 1180.8,930.18 1181.3,929.27 1181.8,928.27 1182.3,927.21 1182.8,926.14 1183.3,925.07 1183.8,924.05 1184.3,923.11 1184.8,922.29 1185.3,921.63 1185.8,921.14 1186.3,920.77 1186.8,920.40 1187.3,920.05 1187.8,919.72 1188.3,919.41 1188.8,919.13 1189.3,918.89 1189.8,918.70 1190.3,918.55 1190.8,918.46 1191.3,918.43 1191.8,918.49 1192.3,918.65 1192.8,918.91 1193.3,919.25 1193.8,919.68 1194.3,920.16 1194.8,920.71 1195.3,921.30 1195.8,921.92 1196.3,922.57 1196.8,923.44 1197.3,924.68 1197.8,926.20 1198.3,927.95 1198.8,929.83 1199.3,931.78 1199.8,933.72 1200.3,935.57 1200.8,937.26 1201.3,938.71 1201.8,940.00 1202.3,941.26 1202.8,942.48 1203.3,943.66 1203.8,944.82 1204.3,945.94 1204.8,947.04 1205.3,948.11 1205.8,949.16 1206.3,950.19 1206.8,951.20 1207.3,952.19 1207.8,953.16 1208.3,954.12 1208.8,955.07 1209.3,956.01 1209.8,956.94 1210.3,957.87 1210.8,958.79 1211.3,959.70 1211.8,960.61 1212.3,961.50 1212.8,962.38 1213.3,963.26 1213.8,964.12 1214.3,964.96 1214.8,965.79 1215.3,966.60 1215.8,967.40 1216.3,968.17 1216.8,968.93 1217.3,969.66 1217.8,970.38 1218.3,971.06 1218.8,971.73 1219.3,972.37 1219.8,973.02 1220.3,973.66 1220.8,974.30 1221.3,974.93 1221.8,975.54 1222.3,976.13 1222.8,976.71 1223.3,977.26 1223.8,977.78 1224.3,978.28 1224.8,978.74 1225.3,979.16 1225.8,979.53 1226.3,979.87 1226.8,980.16 1227.3,980.45 1227.8,980.72 1228.3,980.97 1228.8,981.22 1229.3,981.45 1229.8,981.68 1230.3,981.89 1230.8,982.10 1231.3,982.29 1231.8,982.48 1232.3,982.67 1232.8,982.85 1233.3,983.02 1233.8,983.19 1234.3,983.35 1234.8,983.51 1235.3,983.67 1235.8,983.83 1236.3,983.99 1236.8,984.14 1237.3,984.30 1237.8,984.46 1238.3,984.62 1238.8,984.79 1239.3,984.96 1239.8,985.13 1240.3,985.30 1240.8,985.48 1241.3,985.66 1241.8,985.83 1242.3,986.01 1242.8,986.18 1243.3,986.35 1243.8,986.52 1244.3,986.69 1244.8,986.85 1245.3,987.01 1245.8,987.16 1246.3,987.31 1246.8,987.45 1247.3,987.58 1247.8,987.70 1248.3,987.82 1248.8,987.92 1249.3,988.02 1249.8,988.11 1250.3,988.18 1250.8,988.24 1251.3,988.29 1251.8,988.33 1252.3,988.35 1252.8,988.36 1253.3,988.36 1253.8,988.36 1254.3,988.36 1254.8,988.36 1255.3,988.36 1255.8,988.36 1256.3,988.36 1256.8,988.36 1257.3,988.36 1257.8,988.36 1258.3,988.36 1258.8,988.36 1259.3,988.36 1259.8,988.36 1260.3,988.36 1260.8,988.36 1261.3,988.36 1261.8,988.36 1262.3,988.36 1262.8,988.36 1263.3,988.36 1263.8,988.36 1264.3,988.36 1264.8,988.36 1265.3,988.36 1265.8,988.36 1266.3,988.36 1266.8,988.36 1267.3,988.36 1267.8,988.36 1268.3,988.34 1268.8,988.29 1269.3,988.21 1269.8,988.09 1270.3,987.94 1270.8,987.77 1271.3,987.58 1271.8,987.37 1272.3,987.15 1272.8,986.92 1273.3,986.69 1273.8,986.45 1274.3,986.22 1274.8,985.99 1275.3,985.77 1275.8,985.56 1276.3,985.37 1276.8,985.20 1277.3,985.05 1277.8,984.94 1278.3,984.85 1278.8,984.80 1279.3,984.79 1279.8,984.84 1280.3,984.96 1280.8,985.14 1281.3,985.37 1281.8,985.63 1282.3,985.92 1282.8,986.22 1283.3,986.53 1283.8,986.83 1284.3,987.12 1284.8,987.38 1285.3,987.60 1285.8,987.80 1286.3,988.01 1286.8,988.23 1287.3,988.45 1287.8,988.67 1288.3,988.89 1288.8,989.10 1289.3,989.30 1289.8,989.49 1290.3,989.66 1290.8,989.81 1291.3,989.94 1291.8,990.04 1292.3,990.11 1292.8,990.14 1293.3,990.14 1293.8,990.14 1294.3,990.14 1294.8,990.14 1295.3,990.13 1295.8,990.13 1296.3,990.12 1296.8,990.12 1297.3,990.11 1297.8,990.10 1298.3,990.09 1298.8,990.08 1299.3,990.08 1299.8,990.07 1300.3,990.06 1300.8,990.04 1301.3,990.03 1301.8,990.02 1302.3,990.01 1302.8,990.00 1303.3,989.99 1303.8,989.98 1304.3,989.96 1304.8,989.95 1305.3,989.94 1305.8,989.93 1306.3,989.92 1306.8,989.91 1307.3,989.89 1307.8,989.88 1308.3,989.87 1308.8,989.86 1309.3,989.85 1309.8,989.84 1310.3,989.84 1310.8,989.83 1311.3,989.82 1311.8,989.81 1312.3,989.81 1312.8,989.80 1313.3,989.80 1313.8,989.79 1314.3,989.79 1314.8,989.79 1315.3,989.79 1315.8,989.79 1316.3,989.79 1316.8,989.79 1317.3,989.79 1317.8,989.79 1318.3,989.79 1318.8,989.79 1319.3,989.80 1319.8,989.80 1320.3,989.80 1320.8,989.81 1321.3,989.81 1321.8,989.82 1322.3,989.82 1322.8,989.83 1323.3,989.83 1323.8,989.84 1324.3,989.84 1324.8,989.85 1325.3,989.86 1325.8,989.86 1326.3,989.87 1326.8,989.88 1327.3,989.88 1327.8,989.89 1328.3,989.90 1328.8,989.91 1329.3,989.91 1329.8,989.92 1330.3,989.93 1330.8,989.94 1331.3,989.94 1331.8,989.95 1332.3,989.96 1332.8,989.97 1333.3,989.98 1333.8,989.98 1334.3,989.99 1334.8,990.00 1335.3,990.01 1335.8,990.02 1336.3,990.02 1336.8,990.03 1337.3,990.04 1337.8,990.04 1338.3,990.05 1338.8,990.06 1339.3,990.07 1339.8,990.07 1340.3,990.08 1340.8,990.08 1341.3,990.09 1341.8,990.10 1342.3,990.10 1342.8,990.11 1343.3,990.11 1343.8,990.12 1344.3,990.12 1344.8,990.12 1345.3,990.13 1345.8,990.13 1346.3,990.13 1346.8,990.14 1347.3,990.14 1347.8,990.14 1348.3,990.14 1348.8,990.14 1349.3,990.14 1349.8,990.11 1350.3,989.94 1350.8,989.63 1351.3,989.20 1351.8,988.69 1352.3,988.10 1352.8,987.47 1353.3,986.82 1353.8,986.16 1354.3,985.53 1354.8,984.90 1355.3,984.16 1355.8,983.31 1356.3,982.41 1356.8,981.48 1357.3,980.56 1357.8,979.69 1358.3,978.90 1358.8,978.24 1359.3,977.72 1359.8,977.37 1360.3,977.04 1360.8,976.72 1361.3,976.41 1361.8,976.13 1362.3,975.87 1362.8,975.65 1363.3,975.45 1363.8,975.29 1364.3,975.17 1364.8,975.10 1365.3,975.07 1365.8,975.11 1366.3,975.22 1366.8,975.40 1367.3,975.63 1367.8,975.91 1368.3,976.23 1368.8,976.58 1369.3,976.95 1369.8,977.34 1370.3,977.74 1370.8,978.14 1371.3,978.61 1371.8,979.20 1372.3,979.89 1372.8,980.66 1373.3,981.48 1373.8,982.33 1374.3,983.19 1374.8,984.04 1375.3,984.85 1375.8,985.59 1376.3,986.25 1376.8,986.80 1377.3,987.23 1377.8,987.62 1378.3,987.99 1378.8,988.33 1379.3,988.66 1379.8,988.98 1380.3,989.28 1380.8,989.56 1381.3,989.83 1381.8,990.09 1382.3,990.34 1382.8,990.57 1383.3,990.81 1383.8,991.03 1384.3,991.25 1384.8,991.46 1385.3,991.68 1385.8,991.89 1386.3,992.10 1386.8,992.31 1387.3,992.53 1387.8,992.75 1388.3,992.97 1388.8,993.19 1389.3,993.41 1389.8,993.62 1390.3,993.83 1390.8,994.04 1391.3,994.25 1391.8,994.44 1392.3,994.64 1392.8,994.82 1393.3,994.99 1393.8,995.16 1394.3,995.31 1394.8,995.46 1395.3,995.59 1395.8,995.71 1396.3,995.81 1396.8,995.90 1397.3,995.97 1397.8,996.03 1398.3,996.07 1398.8,996.09 1399.3,996.12 1399.8,996.14 1400.3,996.16 1400.8,996.18 1401.3,996.20 1401.8,996.23 1402.3,996.25 1402.8,996.27 1403.3,996.29 1403.8,996.30 1404.3,996.32 1404.8,996.34 1405.3,996.36 1405.8,996.37 1406.3,996.39 1406.8,996.40 1407.3,996.42 1407.8,996.43 1408.3,996.44 1408.8,996.45 1409.3,996.47 1409.8,996.48 1410.3,996.49 1410.8,996.50 1411.3,996.51 1411.8,996.52 1412.3,996.52 1412.8,996.53 1413.3,996.54 1413.8,996.54 1414.3,996.55 1414.8,996.55 1415.3,996.56 1415.8,996.56 1416.3,996.57 1416.8,996.57 1417.3,996.57 1417.8,996.57 1418.3,996.57 1418.8,996.57 1419.3,996.57 1419.8,996.56 1420.3,996.55 1420.8,996.54 1421.3,996.53 1421.8,996.51 1422.3,996.49 1422.8,996.47 1423.3,996.44 1423.8,996.41 1424.3,996.38 1424.8,996.35 1425.3,996.32 1425.8,996.28 1426.3,996.24 1426.8,996.20 1427.3,996.16 1427.8,996.12 1428.3,996.07 1428.8,996.02 1429.3,995.97 1429.8,995.92 1430.3,995.86 1430.8,995.81 1431.3,995.75 1431.8,995.69 1432.3,995.63 1432.8,995.57 1433.3,995.51 1433.8,995.45 1434.3,995.38 1434.8,995.32 1435.3,995.25 1435.8,995.18 1436.3,995.11 1436.8,995.04 1437.3,994.97 1437.8,994.90 1438.3,994.83 1438.8,994.76 1439.3,994.67 1439.8,994.58 1440.3,994.49 1440.8,994.38 1441.3,994.26 1441.8,994.14 1442.3,994.01 1442.8,993.87 1443.3,993.73 1443.8,993.58 1444.3,993.42 1444.8,993.26 1445.3,993.09 1445.8,992.91 1446.3,992.73 1446.8,992.54 1447.3,992.35 1447.8,992.16 1448.3,991.95 1448.8,991.75 1449.3,991.54 1449.8,991.33 1450.3,991.11 1450.8,990.89 1451.3,990.67 1451.8,990.44 1452.3,990.19 1452.8,989.92 1453.3,989.64 1453.8,989.35 1454.3,989.05 1454.8,988.73 1455.3,988.40 1455.8,988.06 1456.3,987.71 1456.8,987.35 1457.3,986.98 1457.8,986.60 1458.3,986.22 1458.8,985.83 1459.3,985.43 1459.8,985.02 1460.3,984.61 1460.8,984.19 1461.3,983.77 1461.8,983.35 1462.3,982.92 1462.8,982.49 1463.3,982.06 1463.8,981.63 1464.3,981.16 1464.8,980.66 1465.3,980.12 1465.8,979.55 1466.3,978.96 1466.8,978.35 1467.3,977.72 1467.8,977.09 1468.3,976.46 1468.8,975.83 1469.3,975.21 1469.8,974.60 1470.3,974.02 1470.8,973.46 1471.3,972.93 1471.8,972.43 1472.3,971.98 1472.8,971.58 1473.3,971.22 1473.8,970.93 1474.3,970.66 1474.8,970.40 1475.3,970.14 1475.8,969.88 1476.3,969.64 1476.8,969.42 1477.3,969.22 1477.8,969.04 1478.3,968.89 1478.8,968.77 1479.3,968.69 1479.8,968.65 1480.3,968.65 1480.8,968.70 1481.3,968.78 1481.8,968.89 1482.3,969.04 1482.8,969.22 1483.3,969.43 1483.8,969.66 1484.3,969.90 1484.8,970.17 1485.3,970.45 1485.8,970.75 1486.3,971.05 1486.8,971.36 1487.3,971.67 1487.8,971.99 1488.3,972.38 1488.8,972.84 1489.3,973.36 1489.8,973.94 1490.3,974.57 1490.8,975.23 1491.3,975.91 1491.8,976.61 1492.3,977.31 1492.8,978.01 1493.3,978.69 1493.8,979.34 1494.3,979.96 1494.8,980.54 1495.3,981.07 1495.8,981.62 1496.3,982.21 1496.8,982.81 1497.3,983.42 1497.8,984.01 1498.3,984.58 1498.8,985.10 1499.3,985.57 1499.8,985.96 1500.3,986.27 1500.8,986.48 1501.3,986.57 1501.8,986.56 1502.3,986.53 1502.8,986.48 1503.3,986.41 1503.8,986.32 1504.3,986.22 1504.8,986.10 1505.3,985.98 1505.8,985.84 1506.3,985.70 1506.8,985.55 1507.3,985.40 1507.8,985.26 1508.3,985.08 1508.8,984.87 1509.3,984.63 1509.8,984.36 1510.3,984.07 1510.8,983.75 1511.3,983.42 1511.8,983.07 1512.3,982.71 1512.8,982.35 1513.3,981.98 1513.8,981.60 1514.3,981.23 1514.8,980.86 1515.3,980.50 1515.8,980.16 1516.3,979.82 1516.8,979.51 1517.3,979.22 1517.8,978.95 1518.3,978.69 1518.8,978.43 1519.3,978.18 1519.8,977.93 1520.3,977.69 1520.8,977.44 1521.3,977.21 1521.8,976.97 1522.3,976.74 1522.8,976.51 1523.3,976.29 1523.8,976.08 1524.3,975.86 1524.8,975.66 1525.3,975.46 1525.8,975.26 1526.3,975.07 1526.8,974.89 1527.3,974.71 1527.8,974.54 1528.3,974.36 1528.8,974.19 1529.3,974.01 1529.8,973.82 1530.3,973.64 1530.8,973.45 1531.3,973.27 1531.8,973.09 1532.3,972.91 1532.8,972.74 1533.3,972.57 1533.8,972.42 1534.3,972.27 1534.8,972.13 1535.3,972.00 1535.8,971.88 1536.3,971.78 1536.8,971.69 1537.3,971.61 1537.8,971.56 1538.3,971.52 1538.8,971.50 1539.3,971.50 1539.8,971.50 1540.3,971.51 1540.8,971.51 1541.3,971.52 1541.8,971.53 1542.3,971.54 1542.8,971.55 1543.3,971.57 1543.8,971.58 1544.3,971.60 1544.8,971.62 1545.3,971.64 1545.8,971.67 1546.3,971.69 1546.8,971.72 1547.3,971.74 1547.8,971.77 1548.3,971.80 1548.8,971.84 1549.3,971.88 1549.8,971.96 1550.3,972.10 1550.8,972.29 1551.3,972.51 1551.8,972.76 1552.3,973.03 1552.8,973.31 1553.3,973.60 1553.8,973.88 1554.3,974.16 1554.8,974.42 1555.3,974.65 1555.8,974.85 1556.3,975.00 1556.8,975.11 1557.3,975.21 1557.8,975.31 1558.3,975.41 1558.8,975.50 1559.3,975.59 1559.8,975.68 1560.3,975.77 1560.8,975.85 1561.3,975.92 1561.8,976.00 1562.3,976.06 1562.8,976.12 1563.3,976.18 1563.8,976.23 1564.3,976.27 1564.8,976.30 1565.3,976.33 1565.8,976.35 1566.3,976.36 1566.8,976.36 1567.3,976.35 1567.8,976.33 1568.3,976.30 1568.8,976.27 1569.3,976.22 1569.8,976.18 1570.3,976.12 1570.8,976.07 1571.3,976.01 1571.8,975.95 1572.3,975.89 1572.8,975.83 1573.3,975.76 1573.8,975.71 1574.3,975.65 1574.8,975.60 1575.3,975.55 1575.8,975.51 1576.3,975.48 1576.8,975.45 1577.3,975.44 1577.8,975.43 1578.3,975.45 1578.8,975.51 1579.3,975.63 1579.8,975.79 1580.3,975.99 1580.8,976.22 1581.3,976.48 1581.8,976.77 1582.3,977.07 1582.8,977.40 1583.3,977.73 1583.8,978.07 1584.3,978.41 1584.8,978.75 1585.3,979.08 1585.8,979.40 1586.3,979.70 1586.8,979.98 1587.3,980.27 1587.8,980.58 1588.3,980.91 1588.8,981.24 1589.3,981.58 1589.8,981.92 1590.3,982.26 1590.8,982.59 1591.3,982.92 1591.8,983.23 1592.3,983.52 1592.8,983.79 1593.3,984.04 1593.8,984.25 1594.3,984.43 1594.8,984.59 1595.3,984.75 1595.8,984.91 1596.3,985.06 1596.8,985.22 1597.3,985.36 1597.8,985.51 1598.3,985.65 1598.8,985.78 1599.3,985.90 1599.8,986.02 1600.3,986.13 1600.8,986.22 1601.3,986.31 1601.8,986.39 1602.3,986.45 1602.8,986.50 1603.3,986.54 1603.8,986.56 1604.3,986.57 1604.8,986.55 1605.3,986.48 1605.8,986.39 1606.3,986.26 1606.8,986.12 1607.3,985.97 1607.8,985.82 1608.3,985.67 1608.8,985.54 1609.3,985.43 1609.8,985.34 1610.3,985.29 1610.8,985.29 1611.3,985.36 1611.8,985.49 1612.3,985.68 1612.8,985.91 1613.3,986.18 1613.8,986.48 1614.3,986.80 1614.8,987.13 1615.3,987.46 1615.8,987.78 1616.3,988.08 1616.8,988.35 1617.3,988.58 1617.8,988.77 1618.3,988.91 1618.8,989.03 1619.3,989.16 1619.8,989.28 1620.3,989.40 1620.8,989.52 1621.3,989.64 1621.8,989.75 1622.3,989.86 1622.8,989.96 1623.3,990.06 1623.8,990.15 1624.3,990.24 1624.8,990.32 1625.3,990.40 1625.8,990.47 1626.3,990.53 1626.8,990.58 1627.3,990.63 1627.8,990.66 1628.3,990.69 1628.8,990.71 1629.3,990.71" fill="none" stroke="#5c5e0c" stroke-width="2.9" stroke-linejoin="round" stroke-linecap="butt"/>
<line x1="496.4" y1="193.40" x2="496.4" y2="1401.50" stroke="#242424" stroke-width="4.3" stroke-dasharray="6.4 12.08"/>
<line x1="787.8" y1="196.30" x2="787.8" y2="1404.40" stroke="#242424" stroke-width="4.3" stroke-dasharray="6.4 12.08"/>
<line x1="1053.8" y1="191.10" x2="1053.8" y2="1399.20" stroke="#242424" stroke-width="4.3" stroke-dasharray="6.4 12.08"/>
<line x1="1151.3" y1="179.20" x2="1151.3" y2="1387.30" stroke="#242424" stroke-width="4.3" stroke-dasharray="6.4 12.08"/>
<line x1="150.8" y1="190.6" x2="150.8" y2="1424.2" stroke="#0b0b0b" stroke-width="4.4"/>
<line x1="148.60000000000002" y1="1422.0" x2="1828" y2="1422.0" stroke="#0b0b0b" stroke-width="4.4"/>
<line x1="249.3" y1="1394.8" x2="249.3" y2="1422.0" stroke="#0b0b0b" stroke-width="4.2"/>
<line x1="347.9" y1="1407.2" x2="347.9" y2="1422.0" stroke="#0b0b0b" stroke-width="4.2"/>
<line x1="446.5" y1="1394.8" x2="446.5" y2="1422.0" stroke="#0b0b0b" stroke-width="4.2"/>
<line x1="545.1" y1="1407.2" x2="545.1" y2="1422.0" stroke="#0b0b0b" stroke-width="4.2"/>
<line x1="643.6" y1="1394.8" x2="643.6" y2="1422.0" stroke="#0b0b0b" stroke-width="4.2"/>
<line x1="742.2" y1="1407.2" x2="742.2" y2="1422.0" stroke="#0b0b0b" stroke-width="4.2"/>
<line x1="840.8" y1="1394.8" x2="840.8" y2="1422.0" stroke="#0b0b0b" stroke-width="4.2"/>
<line x1="939.4" y1="1407.2" x2="939.4" y2="1422.0" stroke="#0b0b0b" stroke-width="4.2"/>
<line x1="1038.0" y1="1394.8" x2="1038.0" y2="1422.0" stroke="#0b0b0b" stroke-width="4.2"/>
<line x1="1136.6" y1="1407.2" x2="1136.6" y2="1422.0" stroke="#0b0b0b" stroke-width="4.2"/>
<line x1="1235.2" y1="1394.8" x2="1235.2" y2="1422.0" stroke="#0b0b0b" stroke-width="4.2"/>
<line x1="1333.7" y1="1407.2" x2="1333.7" y2="1422.0" stroke="#0b0b0b" stroke-width="4.2"/>
<line x1="1432.3" y1="1394.8" x2="1432.3" y2="1422.0" stroke="#0b0b0b" stroke-width="4.2"/>
<line x1="1530.9" y1="1407.2" x2="1530.9" y2="1422.0" stroke="#0b0b0b" stroke-width="4.2"/>
<line x1="1629.5" y1="1394.8" x2="1629.5" y2="1422.0" stroke="#0b0b0b" stroke-width="4.2"/>
<line x1="1728.1" y1="1407.2" x2="1728.1" y2="1422.0" stroke="#0b0b0b" stroke-width="4.2"/>
<text x="247.3" y="1497.0" font-size="61.7" text-anchor="middle">2000</text>
<text x="444.5" y="1497.0" font-size="61.7" text-anchor="middle">1800</text>
<text x="641.6" y="1497.0" font-size="61.7" text-anchor="middle">1600</text>
<text x="838.8" y="1497.0" font-size="61.7" text-anchor="middle">1400</text>
<text x="1036.0" y="1497.0" font-size="61.7" text-anchor="middle">1200</text>
<text x="1233.2" y="1497.0" font-size="61.7" text-anchor="middle">1000</text>
<text x="1430.3" y="1497.0" font-size="61.7" text-anchor="middle">800</text>
<text x="1627.5" y="1497.0" font-size="61.7" text-anchor="middle">600</text>
<text x="496.5" y="182.2" font-size="61.7" text-anchor="middle">1750</text>
<text x="783.6" y="182.2" font-size="61.7" text-anchor="middle">1455</text>
<text x="1028.9" y="179.8" font-size="61.7" text-anchor="middle">1183</text>
<text x="1175.3" y="165.1" font-size="61.7" text-anchor="middle">1085</text>
<text x="546" y="73.7" font-size="61.9">Degradation temperature: 200 ºC</text>
<text x="1646.6" y="405.6" font-size="61.7">PLA</text>
<text x="1634.9" y="525.9" font-size="61.7">PLA,60min,T</text>
<text x="1641.6" y="683.0" font-size="61.7">PLA,15min,TO</text>
<text x="1640.0" y="934.4" font-size="61.7">PLA,60min,TO</text>
<text x="1644.9" y="1118.6" font-size="61.7">PLA,15min,TM</text>
<text x="1644.9" y="1393.7" font-size="61.7">PLA,60min,TM</text>
<text x="612.2" y="1621.6" font-size="86.5">Wavenumber (cm<tspan font-size="47.5" dy="-29.5" dx="-2">−1</tspan><tspan dy="29.5" dx="-4">)</tspan></text>
<text transform="translate(84.0 1208.2) rotate(-90)" font-size="86.5">Absorbance (u.a.)</text>
</svg>
</body>
</html>
